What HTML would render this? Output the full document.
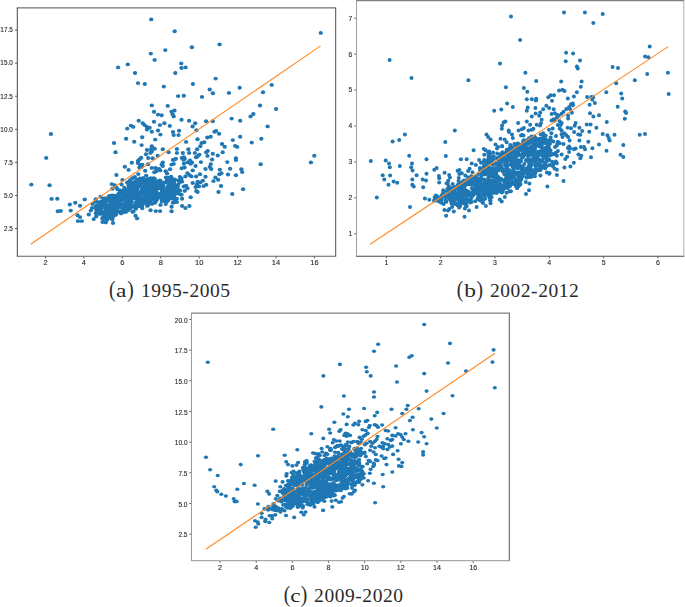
<!DOCTYPE html>
<html><head><meta charset="utf-8"><style>
html,body{margin:0;padding:0;background:#fff;width:685px;height:607px;overflow:hidden}
svg{position:absolute;left:0;top:0}
.tk{font-family:"Liberation Sans",sans-serif;fill:#222;stroke:#222;stroke-width:0.1px}
.tkg{will-change:transform}
.cap{font-family:"Liberation Serif",serif;fill:#2a2a2a}
</style></head><body>
<svg width="685" height="607" viewBox="0 0 685 607">
<line x1="45.50" y1="256.20" x2="45.50" y2="258.40" stroke="#333" stroke-width="0.8"/>
<line x1="83.92" y1="256.20" x2="83.92" y2="258.40" stroke="#333" stroke-width="0.8"/>
<line x1="122.34" y1="256.20" x2="122.34" y2="258.40" stroke="#333" stroke-width="0.8"/>
<line x1="160.76" y1="256.20" x2="160.76" y2="258.40" stroke="#333" stroke-width="0.8"/>
<line x1="199.18" y1="256.20" x2="199.18" y2="258.40" stroke="#333" stroke-width="0.8"/>
<line x1="237.60" y1="256.20" x2="237.60" y2="258.40" stroke="#333" stroke-width="0.8"/>
<line x1="276.02" y1="256.20" x2="276.02" y2="258.40" stroke="#333" stroke-width="0.8"/>
<line x1="314.44" y1="256.20" x2="314.44" y2="258.40" stroke="#333" stroke-width="0.8"/>
<line x1="15.10" y1="228.55" x2="17.30" y2="228.55" stroke="#333" stroke-width="0.8"/>
<line x1="15.10" y1="195.47" x2="17.30" y2="195.47" stroke="#333" stroke-width="0.8"/>
<line x1="15.10" y1="162.40" x2="17.30" y2="162.40" stroke="#333" stroke-width="0.8"/>
<line x1="15.10" y1="129.33" x2="17.30" y2="129.33" stroke="#333" stroke-width="0.8"/>
<line x1="15.10" y1="96.25" x2="17.30" y2="96.25" stroke="#333" stroke-width="0.8"/>
<line x1="15.10" y1="63.18" x2="17.30" y2="63.18" stroke="#333" stroke-width="0.8"/>
<line x1="15.10" y1="30.10" x2="17.30" y2="30.10" stroke="#333" stroke-width="0.8"/>
<g fill="#1f77b4"><ellipse cx="151.2" cy="19.4" rx="2.15" ry="1.95"/><ellipse cx="174.7" cy="31.3" rx="2.15" ry="1.95"/><ellipse cx="165.3" cy="50.1" rx="2.15" ry="1.95"/><ellipse cx="150.8" cy="53.6" rx="2.15" ry="1.95"/><ellipse cx="154.6" cy="59.9" rx="2.15" ry="1.95"/><ellipse cx="127.8" cy="64.4" rx="2.15" ry="1.95"/><ellipse cx="118.1" cy="67.4" rx="2.15" ry="1.95"/><ellipse cx="135.0" cy="73.0" rx="2.15" ry="1.95"/><ellipse cx="175.3" cy="73.0" rx="2.15" ry="1.95"/><ellipse cx="138.0" cy="83.1" rx="2.15" ry="1.95"/><ellipse cx="144.8" cy="84.0" rx="2.15" ry="1.95"/><ellipse cx="163.8" cy="86.6" rx="2.15" ry="1.95"/><ellipse cx="191.9" cy="47.3" rx="2.15" ry="1.95"/><ellipse cx="219.6" cy="44.4" rx="2.15" ry="1.95"/><ellipse cx="181.2" cy="63.4" rx="2.15" ry="1.95"/><ellipse cx="181.5" cy="68.0" rx="2.15" ry="1.95"/><ellipse cx="185.6" cy="67.4" rx="2.15" ry="1.95"/><ellipse cx="215.6" cy="78.6" rx="2.15" ry="1.95"/><ellipse cx="192.9" cy="84.0" rx="2.15" ry="1.95"/><ellipse cx="209.7" cy="89.5" rx="2.15" ry="1.95"/><ellipse cx="239.6" cy="87.7" rx="2.15" ry="1.95"/><ellipse cx="271.7" cy="84.9" rx="2.15" ry="1.95"/><ellipse cx="263.0" cy="92.3" rx="2.15" ry="1.95"/><ellipse cx="276.1" cy="109.0" rx="2.15" ry="1.95"/><ellipse cx="267.6" cy="126.4" rx="2.15" ry="1.95"/><ellipse cx="261.3" cy="138.7" rx="2.15" ry="1.95"/><ellipse cx="260.0" cy="105.5" rx="2.15" ry="1.95"/><ellipse cx="320.8" cy="32.9" rx="2.15" ry="1.95"/><ellipse cx="314.3" cy="155.7" rx="2.15" ry="1.95"/><ellipse cx="310.9" cy="162.4" rx="2.15" ry="1.95"/><ellipse cx="260.7" cy="164.3" rx="2.15" ry="1.95"/><ellipse cx="178.1" cy="96.1" rx="2.15" ry="1.95"/><ellipse cx="183.8" cy="95.7" rx="2.15" ry="1.95"/><ellipse cx="151.8" cy="105.4" rx="2.15" ry="1.95"/><ellipse cx="167.7" cy="105.9" rx="2.15" ry="1.95"/><ellipse cx="154.0" cy="111.7" rx="2.15" ry="1.95"/><ellipse cx="158.0" cy="114.6" rx="2.15" ry="1.95"/><ellipse cx="161.6" cy="115.2" rx="2.15" ry="1.95"/><ellipse cx="171.5" cy="111.6" rx="2.15" ry="1.95"/><ellipse cx="174.5" cy="110.5" rx="2.15" ry="1.95"/><ellipse cx="172.6" cy="114.2" rx="2.15" ry="1.95"/><ellipse cx="173.7" cy="116.4" rx="2.15" ry="1.95"/><ellipse cx="181.5" cy="119.7" rx="2.15" ry="1.95"/><ellipse cx="189.1" cy="120.8" rx="2.15" ry="1.95"/><ellipse cx="195.2" cy="123.2" rx="2.15" ry="1.95"/><ellipse cx="192.6" cy="126.5" rx="2.15" ry="1.95"/><ellipse cx="138.7" cy="120.8" rx="2.15" ry="1.95"/><ellipse cx="142.8" cy="123.2" rx="2.15" ry="1.95"/><ellipse cx="144.5" cy="125.1" rx="2.15" ry="1.95"/><ellipse cx="146.7" cy="126.6" rx="2.15" ry="1.95"/><ellipse cx="149.6" cy="127.8" rx="2.15" ry="1.95"/><ellipse cx="147.0" cy="129.5" rx="2.15" ry="1.95"/><ellipse cx="130.9" cy="125.6" rx="2.15" ry="1.95"/><ellipse cx="133.3" cy="126.9" rx="2.15" ry="1.95"/><ellipse cx="127.2" cy="128.6" rx="2.15" ry="1.95"/><ellipse cx="154.0" cy="121.8" rx="2.15" ry="1.95"/><ellipse cx="159.9" cy="125.1" rx="2.15" ry="1.95"/><ellipse cx="164.4" cy="123.2" rx="2.15" ry="1.95"/><ellipse cx="169.8" cy="125.9" rx="2.15" ry="1.95"/><ellipse cx="151.8" cy="131.7" rx="2.15" ry="1.95"/><ellipse cx="158.0" cy="130.5" rx="2.15" ry="1.95"/><ellipse cx="160.4" cy="134.6" rx="2.15" ry="1.95"/><ellipse cx="173.0" cy="132.0" rx="2.15" ry="1.95"/><ellipse cx="173.7" cy="135.1" rx="2.15" ry="1.95"/><ellipse cx="179.1" cy="130.7" rx="2.15" ry="1.95"/><ellipse cx="178.5" cy="135.1" rx="2.15" ry="1.95"/><ellipse cx="196.4" cy="130.3" rx="2.15" ry="1.95"/><ellipse cx="126.1" cy="138.7" rx="2.15" ry="1.95"/><ellipse cx="134.2" cy="141.8" rx="2.15" ry="1.95"/><ellipse cx="142.2" cy="137.3" rx="2.15" ry="1.95"/><ellipse cx="155.2" cy="139.6" rx="2.15" ry="1.95"/><ellipse cx="114.0" cy="143.0" rx="2.15" ry="1.95"/><ellipse cx="115.5" cy="152.2" rx="2.15" ry="1.95"/><ellipse cx="141.6" cy="145.1" rx="2.15" ry="1.95"/><ellipse cx="151.8" cy="146.3" rx="2.15" ry="1.95"/><ellipse cx="151.1" cy="149.2" rx="2.15" ry="1.95"/><ellipse cx="154.7" cy="148.8" rx="2.15" ry="1.95"/><ellipse cx="147.0" cy="150.0" rx="2.15" ry="1.95"/><ellipse cx="162.8" cy="149.2" rx="2.15" ry="1.95"/><ellipse cx="150.4" cy="152.9" rx="2.15" ry="1.95"/><ellipse cx="146.0" cy="154.3" rx="2.15" ry="1.95"/><ellipse cx="141.2" cy="157.7" rx="2.15" ry="1.95"/><ellipse cx="139.4" cy="159.5" rx="2.15" ry="1.95"/><ellipse cx="148.2" cy="158.0" rx="2.15" ry="1.95"/><ellipse cx="152.6" cy="158.3" rx="2.15" ry="1.95"/><ellipse cx="157.7" cy="155.8" rx="2.15" ry="1.95"/><ellipse cx="131.8" cy="162.8" rx="2.15" ry="1.95"/><ellipse cx="124.8" cy="166.8" rx="2.15" ry="1.95"/><ellipse cx="168.6" cy="152.2" rx="2.15" ry="1.95"/><ellipse cx="176.9" cy="148.9" rx="2.15" ry="1.95"/><ellipse cx="176.9" cy="152.9" rx="2.15" ry="1.95"/><ellipse cx="182.8" cy="153.0" rx="2.15" ry="1.95"/><ellipse cx="186.1" cy="141.9" rx="2.15" ry="1.95"/><ellipse cx="188.3" cy="149.2" rx="2.15" ry="1.95"/><ellipse cx="189.1" cy="152.9" rx="2.15" ry="1.95"/><ellipse cx="197.5" cy="139.3" rx="2.15" ry="1.95"/><ellipse cx="197.1" cy="149.2" rx="2.15" ry="1.95"/><ellipse cx="194.9" cy="152.9" rx="2.15" ry="1.95"/><ellipse cx="197.5" cy="156.5" rx="2.15" ry="1.95"/><ellipse cx="174.5" cy="159.5" rx="2.15" ry="1.95"/><ellipse cx="171.5" cy="164.6" rx="2.15" ry="1.95"/><ellipse cx="175.9" cy="158.7" rx="2.15" ry="1.95"/><ellipse cx="181.8" cy="158.0" rx="2.15" ry="1.95"/><ellipse cx="184.7" cy="158.7" rx="2.15" ry="1.95"/><ellipse cx="183.9" cy="163.8" rx="2.15" ry="1.95"/><ellipse cx="187.6" cy="162.4" rx="2.15" ry="1.95"/><ellipse cx="190.5" cy="163.8" rx="2.15" ry="1.95"/><ellipse cx="162.8" cy="162.4" rx="2.15" ry="1.95"/><ellipse cx="162.8" cy="166.0" rx="2.15" ry="1.95"/><ellipse cx="138.0" cy="160.9" rx="2.15" ry="1.95"/><ellipse cx="140.1" cy="165.0" rx="2.15" ry="1.95"/><ellipse cx="141.6" cy="166.8" rx="2.15" ry="1.95"/><ellipse cx="151.8" cy="167.9" rx="2.15" ry="1.95"/><ellipse cx="155.5" cy="167.9" rx="2.15" ry="1.95"/><ellipse cx="159.1" cy="168.9" rx="2.15" ry="1.95"/><ellipse cx="195.6" cy="166.0" rx="2.15" ry="1.95"/><ellipse cx="212.9" cy="93.2" rx="2.15" ry="1.95"/><ellipse cx="202.0" cy="96.9" rx="2.15" ry="1.95"/><ellipse cx="228.9" cy="92.9" rx="2.15" ry="1.95"/><ellipse cx="250.6" cy="116.4" rx="2.15" ry="1.95"/><ellipse cx="253.3" cy="114.0" rx="2.15" ry="1.95"/><ellipse cx="231.6" cy="118.6" rx="2.15" ry="1.95"/><ellipse cx="240.2" cy="120.8" rx="2.15" ry="1.95"/><ellipse cx="206.1" cy="121.2" rx="2.15" ry="1.95"/><ellipse cx="212.8" cy="121.2" rx="2.15" ry="1.95"/><ellipse cx="214.5" cy="131.7" rx="2.15" ry="1.95"/><ellipse cx="216.1" cy="130.9" rx="2.15" ry="1.95"/><ellipse cx="219.1" cy="133.8" rx="2.15" ry="1.95"/><ellipse cx="207.3" cy="137.5" rx="2.15" ry="1.95"/><ellipse cx="210.6" cy="136.8" rx="2.15" ry="1.95"/><ellipse cx="240.2" cy="136.8" rx="2.15" ry="1.95"/><ellipse cx="232.8" cy="140.1" rx="2.15" ry="1.95"/><ellipse cx="251.7" cy="142.6" rx="2.15" ry="1.95"/><ellipse cx="201.6" cy="143.0" rx="2.15" ry="1.95"/><ellipse cx="204.2" cy="142.3" rx="2.15" ry="1.95"/><ellipse cx="200.3" cy="146.3" rx="2.15" ry="1.95"/><ellipse cx="222.0" cy="144.0" rx="2.15" ry="1.95"/><ellipse cx="224.7" cy="146.7" rx="2.15" ry="1.95"/><ellipse cx="235.2" cy="145.9" rx="2.15" ry="1.95"/><ellipse cx="237.2" cy="146.9" rx="2.15" ry="1.95"/><ellipse cx="206.2" cy="152.2" rx="2.15" ry="1.95"/><ellipse cx="207.8" cy="150.9" rx="2.15" ry="1.95"/><ellipse cx="207.5" cy="155.9" rx="2.15" ry="1.95"/><ellipse cx="212.8" cy="153.8" rx="2.15" ry="1.95"/><ellipse cx="222.7" cy="152.2" rx="2.15" ry="1.95"/><ellipse cx="217.7" cy="155.5" rx="2.15" ry="1.95"/><ellipse cx="212.1" cy="159.5" rx="2.15" ry="1.95"/><ellipse cx="235.9" cy="158.1" rx="2.15" ry="1.95"/><ellipse cx="200.9" cy="162.1" rx="2.15" ry="1.95"/><ellipse cx="227.3" cy="162.1" rx="2.15" ry="1.95"/><ellipse cx="210.8" cy="164.1" rx="2.15" ry="1.95"/><ellipse cx="235.9" cy="160.0" rx="2.15" ry="1.95"/><ellipse cx="209.8" cy="166.9" rx="2.15" ry="1.95"/><ellipse cx="211.2" cy="169.0" rx="2.15" ry="1.95"/><ellipse cx="205.5" cy="169.0" rx="2.15" ry="1.95"/><ellipse cx="219.8" cy="169.6" rx="2.15" ry="1.95"/><ellipse cx="230.1" cy="168.8" rx="2.15" ry="1.95"/><ellipse cx="241.4" cy="169.2" rx="2.15" ry="1.95"/><ellipse cx="242.2" cy="172.1" rx="2.15" ry="1.95"/><ellipse cx="200.0" cy="174.2" rx="2.15" ry="1.95"/><ellipse cx="196.1" cy="176.5" rx="2.15" ry="1.95"/><ellipse cx="205.5" cy="176.7" rx="2.15" ry="1.95"/><ellipse cx="219.4" cy="174.2" rx="2.15" ry="1.95"/><ellipse cx="221.4" cy="173.2" rx="2.15" ry="1.95"/><ellipse cx="228.0" cy="174.5" rx="2.15" ry="1.95"/><ellipse cx="235.9" cy="175.2" rx="2.15" ry="1.95"/><ellipse cx="215.4" cy="177.4" rx="2.15" ry="1.95"/><ellipse cx="218.1" cy="179.8" rx="2.15" ry="1.95"/><ellipse cx="213.5" cy="181.1" rx="2.15" ry="1.95"/><ellipse cx="197.6" cy="181.7" rx="2.15" ry="1.95"/><ellipse cx="200.3" cy="182.4" rx="2.15" ry="1.95"/><ellipse cx="202.9" cy="180.8" rx="2.15" ry="1.95"/><ellipse cx="197.0" cy="184.4" rx="2.15" ry="1.95"/><ellipse cx="199.0" cy="186.4" rx="2.15" ry="1.95"/><ellipse cx="195.7" cy="187.0" rx="2.15" ry="1.95"/><ellipse cx="203.6" cy="186.1" rx="2.15" ry="1.95"/><ellipse cx="206.2" cy="184.8" rx="2.15" ry="1.95"/><ellipse cx="221.0" cy="186.0" rx="2.15" ry="1.95"/><ellipse cx="243.1" cy="189.3" rx="2.15" ry="1.95"/><ellipse cx="218.5" cy="192.0" rx="2.15" ry="1.95"/><ellipse cx="232.3" cy="194.0" rx="2.15" ry="1.95"/><ellipse cx="196.3" cy="191.0" rx="2.15" ry="1.95"/><ellipse cx="197.6" cy="192.0" rx="2.15" ry="1.95"/><ellipse cx="50.9" cy="134.0" rx="2.15" ry="1.95"/><ellipse cx="46.2" cy="157.9" rx="2.15" ry="1.95"/><ellipse cx="31.3" cy="184.6" rx="2.15" ry="1.95"/><ellipse cx="49.6" cy="185.3" rx="2.15" ry="1.95"/><ellipse cx="51.6" cy="198.9" rx="2.15" ry="1.95"/><ellipse cx="57.3" cy="198.8" rx="2.15" ry="1.95"/><ellipse cx="84.7" cy="199.4" rx="2.15" ry="1.95"/><ellipse cx="95.8" cy="199.3" rx="2.15" ry="1.95"/><ellipse cx="57.8" cy="211.3" rx="2.15" ry="1.95"/><ellipse cx="60.7" cy="210.9" rx="2.15" ry="1.95"/><ellipse cx="69.8" cy="204.5" rx="2.15" ry="1.95"/><ellipse cx="75.3" cy="202.8" rx="2.15" ry="1.95"/><ellipse cx="80.0" cy="205.7" rx="2.15" ry="1.95"/><ellipse cx="70.7" cy="210.6" rx="2.15" ry="1.95"/><ellipse cx="77.6" cy="215.3" rx="2.15" ry="1.95"/><ellipse cx="80.0" cy="217.1" rx="2.15" ry="1.95"/><ellipse cx="78.0" cy="221.1" rx="2.15" ry="1.95"/><ellipse cx="81.8" cy="221.1" rx="2.15" ry="1.95"/><ellipse cx="92.6" cy="203.9" rx="2.15" ry="1.95"/><ellipse cx="90.8" cy="210.6" rx="2.15" ry="1.95"/><ellipse cx="88.8" cy="214.5" rx="2.15" ry="1.95"/><ellipse cx="93.7" cy="219.1" rx="2.15" ry="1.95"/><ellipse cx="102.5" cy="222.0" rx="2.15" ry="1.95"/><ellipse cx="113.0" cy="223.0" rx="2.15" ry="1.95"/><ellipse cx="111.8" cy="184.1" rx="2.15" ry="1.95"/><ellipse cx="114.7" cy="185.3" rx="2.15" ry="1.95"/><ellipse cx="112.4" cy="188.8" rx="2.15" ry="1.95"/><ellipse cx="116.5" cy="187.6" rx="2.15" ry="1.95"/><ellipse cx="137.1" cy="218.4" rx="2.15" ry="1.95"/><ellipse cx="128.6" cy="169.9" rx="2.15" ry="1.95"/><ellipse cx="116.4" cy="175.0" rx="2.15" ry="1.95"/><ellipse cx="121.6" cy="184.5" rx="2.15" ry="1.95"/><ellipse cx="151.8" cy="151.5" rx="2.15" ry="1.95"/><ellipse cx="137.9" cy="163.1" rx="2.15" ry="1.95"/><ellipse cx="183.9" cy="157.3" rx="2.15" ry="1.95"/><ellipse cx="148.1" cy="164.2" rx="2.15" ry="1.95"/><ellipse cx="139.4" cy="167.5" rx="2.15" ry="1.95"/><ellipse cx="142.3" cy="164.6" rx="2.15" ry="1.95"/><ellipse cx="161.6" cy="164.6" rx="2.15" ry="1.95"/><ellipse cx="173.7" cy="163.9" rx="2.15" ry="1.95"/><ellipse cx="156.9" cy="169.0" rx="2.15" ry="1.95"/><ellipse cx="160.2" cy="170.4" rx="2.15" ry="1.95"/><ellipse cx="156.2" cy="171.2" rx="2.15" ry="1.95"/><ellipse cx="154.3" cy="172.3" rx="2.15" ry="1.95"/><ellipse cx="145.2" cy="170.8" rx="2.15" ry="1.95"/><ellipse cx="165.7" cy="171.2" rx="2.15" ry="1.95"/><ellipse cx="167.1" cy="173.4" rx="2.15" ry="1.95"/><ellipse cx="170.0" cy="169.3" rx="2.15" ry="1.95"/><ellipse cx="138.3" cy="174.1" rx="2.15" ry="1.95"/><ellipse cx="140.1" cy="178.5" rx="2.15" ry="1.95"/><ellipse cx="181.7" cy="168.2" rx="2.15" ry="1.95"/><ellipse cx="184.6" cy="167.5" rx="2.15" ry="1.95"/><ellipse cx="199.3" cy="154.6" rx="2.15" ry="1.95"/><ellipse cx="196.0" cy="157.2" rx="2.15" ry="1.95"/><ellipse cx="172.9" cy="159.9" rx="2.15" ry="1.95"/><ellipse cx="183.5" cy="159.9" rx="2.15" ry="1.95"/><ellipse cx="190.0" cy="160.5" rx="2.15" ry="1.95"/><ellipse cx="192.0" cy="162.5" rx="2.15" ry="1.95"/><ellipse cx="192.7" cy="170.4" rx="2.15" ry="1.95"/><ellipse cx="187.4" cy="173.1" rx="2.15" ry="1.95"/><ellipse cx="189.4" cy="175.0" rx="2.15" ry="1.95"/><ellipse cx="191.4" cy="176.4" rx="2.15" ry="1.95"/><ellipse cx="185.4" cy="176.4" rx="2.15" ry="1.95"/><ellipse cx="192.7" cy="183.0" rx="2.15" ry="1.95"/><ellipse cx="182.1" cy="181.6" rx="2.15" ry="1.95"/><ellipse cx="186.1" cy="185.6" rx="2.15" ry="1.95"/><ellipse cx="187.4" cy="188.2" rx="2.15" ry="1.95"/><ellipse cx="184.8" cy="190.9" rx="2.15" ry="1.95"/><ellipse cx="190.7" cy="197.2" rx="2.15" ry="1.95"/><ellipse cx="182.1" cy="198.8" rx="2.15" ry="1.95"/><ellipse cx="181.5" cy="194.8" rx="2.15" ry="1.95"/><ellipse cx="174.9" cy="200.1" rx="2.15" ry="1.95"/><ellipse cx="176.9" cy="202.1" rx="2.15" ry="1.95"/><ellipse cx="172.9" cy="202.7" rx="2.15" ry="1.95"/><ellipse cx="182.1" cy="206.0" rx="2.15" ry="1.95"/><ellipse cx="185.4" cy="208.0" rx="2.15" ry="1.95"/><ellipse cx="189.4" cy="206.0" rx="2.15" ry="1.95"/><ellipse cx="171.6" cy="206.7" rx="2.15" ry="1.95"/><ellipse cx="171.6" cy="211.3" rx="2.15" ry="1.95"/><ellipse cx="165.7" cy="204.0" rx="2.15" ry="1.95"/><ellipse cx="180.3" cy="181.3" rx="2.15" ry="1.95"/><ellipse cx="183.8" cy="186.5" rx="2.15" ry="1.95"/><ellipse cx="176.8" cy="198.8" rx="2.15" ry="1.95"/><ellipse cx="175.0" cy="202.3" rx="2.15" ry="1.95"/><ellipse cx="150.5" cy="210.2" rx="2.15" ry="1.95"/><ellipse cx="155.8" cy="211.1" rx="2.15" ry="1.95"/><ellipse cx="160.1" cy="211.1" rx="2.15" ry="1.95"/><ellipse cx="109.3" cy="197.1" rx="2.15" ry="1.95"/><ellipse cx="159.2" cy="181.3" rx="2.15" ry="1.95"/><ellipse cx="135.1" cy="181.6" rx="2.15" ry="1.95"/><ellipse cx="141.5" cy="205.8" rx="2.15" ry="1.95"/><ellipse cx="136.1" cy="202.7" rx="2.15" ry="1.95"/><ellipse cx="129.0" cy="197.9" rx="2.15" ry="1.95"/><ellipse cx="165.3" cy="198.6" rx="2.15" ry="1.95"/><ellipse cx="124.1" cy="196.8" rx="2.15" ry="1.95"/><ellipse cx="164.4" cy="199.7" rx="2.15" ry="1.95"/><ellipse cx="174.1" cy="181.5" rx="2.15" ry="1.95"/><ellipse cx="131.1" cy="183.7" rx="2.15" ry="1.95"/><ellipse cx="142.1" cy="193.0" rx="2.15" ry="1.95"/><ellipse cx="148.7" cy="204.1" rx="2.15" ry="1.95"/><ellipse cx="158.1" cy="194.7" rx="2.15" ry="1.95"/><ellipse cx="116.5" cy="195.8" rx="2.15" ry="1.95"/><ellipse cx="136.6" cy="180.2" rx="2.15" ry="1.95"/><ellipse cx="99.1" cy="209.5" rx="2.15" ry="1.95"/><ellipse cx="154.6" cy="200.0" rx="2.15" ry="1.95"/><ellipse cx="137.3" cy="181.0" rx="2.15" ry="1.95"/><ellipse cx="151.4" cy="191.2" rx="2.15" ry="1.95"/><ellipse cx="143.6" cy="186.8" rx="2.15" ry="1.95"/><ellipse cx="173.9" cy="186.2" rx="2.15" ry="1.95"/><ellipse cx="154.1" cy="193.4" rx="2.15" ry="1.95"/><ellipse cx="113.7" cy="197.4" rx="2.15" ry="1.95"/><ellipse cx="104.8" cy="207.7" rx="2.15" ry="1.95"/><ellipse cx="104.8" cy="212.7" rx="2.15" ry="1.95"/><ellipse cx="143.1" cy="181.0" rx="2.15" ry="1.95"/><ellipse cx="111.7" cy="214.4" rx="2.15" ry="1.95"/><ellipse cx="107.8" cy="211.8" rx="2.15" ry="1.95"/><ellipse cx="109.1" cy="196.0" rx="2.15" ry="1.95"/><ellipse cx="130.1" cy="186.3" rx="2.15" ry="1.95"/><ellipse cx="140.0" cy="186.0" rx="2.15" ry="1.95"/><ellipse cx="117.8" cy="200.0" rx="2.15" ry="1.95"/><ellipse cx="144.0" cy="203.1" rx="2.15" ry="1.95"/><ellipse cx="166.8" cy="197.0" rx="2.15" ry="1.95"/><ellipse cx="100.5" cy="213.8" rx="2.15" ry="1.95"/><ellipse cx="140.8" cy="199.8" rx="2.15" ry="1.95"/><ellipse cx="173.1" cy="194.6" rx="2.15" ry="1.95"/><ellipse cx="124.3" cy="187.8" rx="2.15" ry="1.95"/><ellipse cx="170.7" cy="191.3" rx="2.15" ry="1.95"/><ellipse cx="124.9" cy="204.1" rx="2.15" ry="1.95"/><ellipse cx="135.6" cy="206.2" rx="2.15" ry="1.95"/><ellipse cx="128.9" cy="208.4" rx="2.15" ry="1.95"/><ellipse cx="160.3" cy="181.9" rx="2.15" ry="1.95"/><ellipse cx="135.0" cy="196.1" rx="2.15" ry="1.95"/><ellipse cx="143.1" cy="178.2" rx="2.15" ry="1.95"/><ellipse cx="105.3" cy="201.5" rx="2.15" ry="1.95"/><ellipse cx="158.7" cy="188.4" rx="2.15" ry="1.95"/><ellipse cx="149.2" cy="183.6" rx="2.15" ry="1.95"/><ellipse cx="156.9" cy="194.1" rx="2.15" ry="1.95"/><ellipse cx="167.9" cy="193.4" rx="2.15" ry="1.95"/><ellipse cx="146.3" cy="192.0" rx="2.15" ry="1.95"/><ellipse cx="112.5" cy="199.9" rx="2.15" ry="1.95"/><ellipse cx="111.2" cy="202.5" rx="2.15" ry="1.95"/><ellipse cx="108.8" cy="208.3" rx="2.15" ry="1.95"/><ellipse cx="140.4" cy="196.9" rx="2.15" ry="1.95"/><ellipse cx="143.3" cy="186.2" rx="2.15" ry="1.95"/><ellipse cx="135.8" cy="188.9" rx="2.15" ry="1.95"/><ellipse cx="130.1" cy="185.8" rx="2.15" ry="1.95"/><ellipse cx="134.7" cy="206.1" rx="2.15" ry="1.95"/><ellipse cx="122.4" cy="179.9" rx="2.15" ry="1.95"/><ellipse cx="111.7" cy="203.2" rx="2.15" ry="1.95"/><ellipse cx="125.8" cy="211.9" rx="2.15" ry="1.95"/><ellipse cx="148.3" cy="199.2" rx="2.15" ry="1.95"/><ellipse cx="127.6" cy="191.8" rx="2.15" ry="1.95"/><ellipse cx="149.4" cy="191.9" rx="2.15" ry="1.95"/><ellipse cx="110.3" cy="209.7" rx="2.15" ry="1.95"/><ellipse cx="171.1" cy="196.5" rx="2.15" ry="1.95"/><ellipse cx="161.7" cy="192.8" rx="2.15" ry="1.95"/><ellipse cx="120.0" cy="206.7" rx="2.15" ry="1.95"/><ellipse cx="155.9" cy="191.6" rx="2.15" ry="1.95"/><ellipse cx="121.4" cy="198.1" rx="2.15" ry="1.95"/><ellipse cx="147.2" cy="181.5" rx="2.15" ry="1.95"/><ellipse cx="174.7" cy="187.3" rx="2.15" ry="1.95"/><ellipse cx="148.6" cy="186.5" rx="2.15" ry="1.95"/><ellipse cx="102.3" cy="204.9" rx="2.15" ry="1.95"/><ellipse cx="110.0" cy="199.0" rx="2.15" ry="1.95"/><ellipse cx="120.6" cy="212.3" rx="2.15" ry="1.95"/><ellipse cx="107.7" cy="210.3" rx="2.15" ry="1.95"/><ellipse cx="158.9" cy="185.9" rx="2.15" ry="1.95"/><ellipse cx="169.8" cy="195.2" rx="2.15" ry="1.95"/><ellipse cx="144.1" cy="180.3" rx="2.15" ry="1.95"/><ellipse cx="158.5" cy="187.3" rx="2.15" ry="1.95"/><ellipse cx="152.9" cy="190.9" rx="2.15" ry="1.95"/><ellipse cx="145.2" cy="188.5" rx="2.15" ry="1.95"/><ellipse cx="146.8" cy="201.0" rx="2.15" ry="1.95"/><ellipse cx="127.4" cy="207.0" rx="2.15" ry="1.95"/><ellipse cx="162.5" cy="182.7" rx="2.15" ry="1.95"/><ellipse cx="138.9" cy="194.0" rx="2.15" ry="1.95"/><ellipse cx="151.8" cy="194.4" rx="2.15" ry="1.95"/><ellipse cx="157.0" cy="199.5" rx="2.15" ry="1.95"/><ellipse cx="116.8" cy="212.1" rx="2.15" ry="1.95"/><ellipse cx="135.6" cy="198.9" rx="2.15" ry="1.95"/><ellipse cx="138.0" cy="201.9" rx="2.15" ry="1.95"/><ellipse cx="161.9" cy="189.2" rx="2.15" ry="1.95"/><ellipse cx="126.0" cy="210.9" rx="2.15" ry="1.95"/><ellipse cx="149.6" cy="199.0" rx="2.15" ry="1.95"/><ellipse cx="150.8" cy="178.1" rx="2.15" ry="1.95"/><ellipse cx="177.5" cy="193.0" rx="2.15" ry="1.95"/><ellipse cx="154.3" cy="200.0" rx="2.15" ry="1.95"/><ellipse cx="103.5" cy="212.0" rx="2.15" ry="1.95"/><ellipse cx="164.4" cy="198.2" rx="2.15" ry="1.95"/><ellipse cx="134.1" cy="191.7" rx="2.15" ry="1.95"/><ellipse cx="140.1" cy="201.7" rx="2.15" ry="1.95"/><ellipse cx="141.0" cy="198.9" rx="2.15" ry="1.95"/><ellipse cx="125.7" cy="205.1" rx="2.15" ry="1.95"/><ellipse cx="144.7" cy="200.4" rx="2.15" ry="1.95"/><ellipse cx="121.4" cy="191.6" rx="2.15" ry="1.95"/><ellipse cx="123.0" cy="195.3" rx="2.15" ry="1.95"/><ellipse cx="167.2" cy="189.9" rx="2.15" ry="1.95"/><ellipse cx="162.2" cy="196.3" rx="2.15" ry="1.95"/><ellipse cx="118.0" cy="194.8" rx="2.15" ry="1.95"/><ellipse cx="165.1" cy="196.6" rx="2.15" ry="1.95"/><ellipse cx="158.6" cy="196.9" rx="2.15" ry="1.95"/><ellipse cx="113.5" cy="197.9" rx="2.15" ry="1.95"/><ellipse cx="103.5" cy="198.6" rx="2.15" ry="1.95"/><ellipse cx="105.0" cy="212.8" rx="2.15" ry="1.95"/><ellipse cx="118.1" cy="196.6" rx="2.15" ry="1.95"/><ellipse cx="139.8" cy="193.9" rx="2.15" ry="1.95"/><ellipse cx="111.4" cy="209.6" rx="2.15" ry="1.95"/><ellipse cx="142.0" cy="203.2" rx="2.15" ry="1.95"/><ellipse cx="156.4" cy="183.6" rx="2.15" ry="1.95"/><ellipse cx="118.2" cy="203.7" rx="2.15" ry="1.95"/><ellipse cx="177.4" cy="186.5" rx="2.15" ry="1.95"/><ellipse cx="134.8" cy="187.3" rx="2.15" ry="1.95"/><ellipse cx="142.2" cy="208.3" rx="2.15" ry="1.95"/><ellipse cx="103.3" cy="201.4" rx="2.15" ry="1.95"/><ellipse cx="176.6" cy="192.8" rx="2.15" ry="1.95"/><ellipse cx="146.3" cy="198.5" rx="2.15" ry="1.95"/><ellipse cx="108.8" cy="213.4" rx="2.15" ry="1.95"/><ellipse cx="150.3" cy="182.1" rx="2.15" ry="1.95"/><ellipse cx="154.7" cy="184.0" rx="2.15" ry="1.95"/><ellipse cx="137.1" cy="186.9" rx="2.15" ry="1.95"/><ellipse cx="175.1" cy="191.8" rx="2.15" ry="1.95"/><ellipse cx="142.4" cy="199.5" rx="2.15" ry="1.95"/><ellipse cx="140.4" cy="182.6" rx="2.15" ry="1.95"/><ellipse cx="111.0" cy="199.2" rx="2.15" ry="1.95"/><ellipse cx="132.6" cy="191.7" rx="2.15" ry="1.95"/><ellipse cx="140.2" cy="200.0" rx="2.15" ry="1.95"/><ellipse cx="172.8" cy="187.7" rx="2.15" ry="1.95"/><ellipse cx="122.8" cy="193.8" rx="2.15" ry="1.95"/><ellipse cx="150.8" cy="190.3" rx="2.15" ry="1.95"/><ellipse cx="169.7" cy="182.3" rx="2.15" ry="1.95"/><ellipse cx="168.5" cy="182.0" rx="2.15" ry="1.95"/><ellipse cx="142.2" cy="189.0" rx="2.15" ry="1.95"/><ellipse cx="99.0" cy="213.8" rx="2.15" ry="1.95"/><ellipse cx="119.0" cy="206.7" rx="2.15" ry="1.95"/><ellipse cx="128.5" cy="190.1" rx="2.15" ry="1.95"/><ellipse cx="113.5" cy="216.1" rx="2.15" ry="1.95"/><ellipse cx="100.4" cy="205.9" rx="2.15" ry="1.95"/><ellipse cx="134.2" cy="188.0" rx="2.15" ry="1.95"/><ellipse cx="178.0" cy="190.5" rx="2.15" ry="1.95"/><ellipse cx="132.4" cy="197.0" rx="2.15" ry="1.95"/><ellipse cx="129.1" cy="199.9" rx="2.15" ry="1.95"/><ellipse cx="124.4" cy="205.3" rx="2.15" ry="1.95"/><ellipse cx="144.6" cy="198.2" rx="2.15" ry="1.95"/><ellipse cx="151.9" cy="199.6" rx="2.15" ry="1.95"/><ellipse cx="108.5" cy="213.9" rx="2.15" ry="1.95"/><ellipse cx="141.9" cy="205.8" rx="2.15" ry="1.95"/><ellipse cx="139.2" cy="194.4" rx="2.15" ry="1.95"/><ellipse cx="135.7" cy="192.5" rx="2.15" ry="1.95"/><ellipse cx="103.5" cy="216.2" rx="2.15" ry="1.95"/><ellipse cx="160.2" cy="187.7" rx="2.15" ry="1.95"/><ellipse cx="111.9" cy="195.5" rx="2.15" ry="1.95"/><ellipse cx="167.8" cy="199.6" rx="2.15" ry="1.95"/><ellipse cx="141.3" cy="191.0" rx="2.15" ry="1.95"/><ellipse cx="103.0" cy="204.8" rx="2.15" ry="1.95"/><ellipse cx="161.9" cy="190.5" rx="2.15" ry="1.95"/><ellipse cx="155.0" cy="202.8" rx="2.15" ry="1.95"/><ellipse cx="106.1" cy="209.8" rx="2.15" ry="1.95"/><ellipse cx="119.2" cy="199.5" rx="2.15" ry="1.95"/><ellipse cx="131.6" cy="185.0" rx="2.15" ry="1.95"/><ellipse cx="162.8" cy="182.9" rx="2.15" ry="1.95"/><ellipse cx="169.7" cy="190.5" rx="2.15" ry="1.95"/><ellipse cx="103.6" cy="213.0" rx="2.15" ry="1.95"/><ellipse cx="122.5" cy="196.3" rx="2.15" ry="1.95"/><ellipse cx="147.7" cy="183.6" rx="2.15" ry="1.95"/><ellipse cx="164.3" cy="192.7" rx="2.15" ry="1.95"/><ellipse cx="92.1" cy="207.9" rx="2.15" ry="1.95"/><ellipse cx="127.2" cy="194.0" rx="2.15" ry="1.95"/><ellipse cx="136.5" cy="198.7" rx="2.15" ry="1.95"/><ellipse cx="151.1" cy="191.1" rx="2.15" ry="1.95"/><ellipse cx="127.7" cy="202.6" rx="2.15" ry="1.95"/><ellipse cx="173.1" cy="184.2" rx="2.15" ry="1.95"/><ellipse cx="121.4" cy="200.4" rx="2.15" ry="1.95"/><ellipse cx="150.2" cy="202.3" rx="2.15" ry="1.95"/><ellipse cx="133.9" cy="205.4" rx="2.15" ry="1.95"/><ellipse cx="172.6" cy="194.2" rx="2.15" ry="1.95"/><ellipse cx="135.5" cy="215.8" rx="2.15" ry="1.95"/><ellipse cx="115.9" cy="197.9" rx="2.15" ry="1.95"/><ellipse cx="112.2" cy="210.8" rx="2.15" ry="1.95"/><ellipse cx="133.4" cy="211.5" rx="2.15" ry="1.95"/><ellipse cx="120.9" cy="212.1" rx="2.15" ry="1.95"/><ellipse cx="159.4" cy="180.8" rx="2.15" ry="1.95"/><ellipse cx="121.7" cy="191.0" rx="2.15" ry="1.95"/><ellipse cx="151.9" cy="179.4" rx="2.15" ry="1.95"/><ellipse cx="101.4" cy="208.3" rx="2.15" ry="1.95"/><ellipse cx="135.6" cy="196.1" rx="2.15" ry="1.95"/><ellipse cx="154.8" cy="201.9" rx="2.15" ry="1.95"/><ellipse cx="173.7" cy="194.4" rx="2.15" ry="1.95"/><ellipse cx="138.1" cy="201.2" rx="2.15" ry="1.95"/><ellipse cx="115.2" cy="203.6" rx="2.15" ry="1.95"/><ellipse cx="123.1" cy="193.7" rx="2.15" ry="1.95"/><ellipse cx="150.7" cy="188.9" rx="2.15" ry="1.95"/><ellipse cx="161.4" cy="185.9" rx="2.15" ry="1.95"/><ellipse cx="164.0" cy="197.6" rx="2.15" ry="1.95"/><ellipse cx="143.4" cy="189.5" rx="2.15" ry="1.95"/><ellipse cx="148.1" cy="205.1" rx="2.15" ry="1.95"/><ellipse cx="135.3" cy="207.8" rx="2.15" ry="1.95"/><ellipse cx="146.6" cy="202.3" rx="2.15" ry="1.95"/><ellipse cx="113.3" cy="200.2" rx="2.15" ry="1.95"/><ellipse cx="140.9" cy="182.7" rx="2.15" ry="1.95"/><ellipse cx="107.5" cy="200.7" rx="2.15" ry="1.95"/><ellipse cx="130.4" cy="187.4" rx="2.15" ry="1.95"/><ellipse cx="171.1" cy="176.7" rx="2.15" ry="1.95"/><ellipse cx="127.2" cy="182.5" rx="2.15" ry="1.95"/><ellipse cx="130.8" cy="188.6" rx="2.15" ry="1.95"/><ellipse cx="124.4" cy="195.7" rx="2.15" ry="1.95"/><ellipse cx="107.2" cy="206.0" rx="2.15" ry="1.95"/><ellipse cx="127.8" cy="200.4" rx="2.15" ry="1.95"/><ellipse cx="172.7" cy="187.2" rx="2.15" ry="1.95"/><ellipse cx="125.1" cy="189.1" rx="2.15" ry="1.95"/><ellipse cx="140.0" cy="193.4" rx="2.15" ry="1.95"/><ellipse cx="136.8" cy="188.9" rx="2.15" ry="1.95"/><ellipse cx="120.6" cy="203.9" rx="2.15" ry="1.95"/><ellipse cx="150.9" cy="179.4" rx="2.15" ry="1.95"/><ellipse cx="118.6" cy="201.8" rx="2.15" ry="1.95"/><ellipse cx="116.1" cy="211.7" rx="2.15" ry="1.95"/><ellipse cx="171.3" cy="182.7" rx="2.15" ry="1.95"/><ellipse cx="114.8" cy="196.7" rx="2.15" ry="1.95"/><ellipse cx="142.5" cy="201.9" rx="2.15" ry="1.95"/><ellipse cx="108.0" cy="211.0" rx="2.15" ry="1.95"/><ellipse cx="108.5" cy="211.7" rx="2.15" ry="1.95"/><ellipse cx="142.2" cy="197.2" rx="2.15" ry="1.95"/><ellipse cx="128.8" cy="208.5" rx="2.15" ry="1.95"/><ellipse cx="152.9" cy="185.8" rx="2.15" ry="1.95"/><ellipse cx="100.6" cy="196.8" rx="2.15" ry="1.95"/><ellipse cx="107.0" cy="219.7" rx="2.15" ry="1.95"/><ellipse cx="152.0" cy="198.0" rx="2.15" ry="1.95"/><ellipse cx="115.0" cy="200.6" rx="2.15" ry="1.95"/><ellipse cx="127.7" cy="194.9" rx="2.15" ry="1.95"/><ellipse cx="130.1" cy="190.9" rx="2.15" ry="1.95"/><ellipse cx="131.8" cy="197.8" rx="2.15" ry="1.95"/><ellipse cx="147.4" cy="181.1" rx="2.15" ry="1.95"/><ellipse cx="168.8" cy="180.6" rx="2.15" ry="1.95"/><ellipse cx="161.3" cy="185.7" rx="2.15" ry="1.95"/><ellipse cx="144.2" cy="186.3" rx="2.15" ry="1.95"/><ellipse cx="129.7" cy="195.0" rx="2.15" ry="1.95"/><ellipse cx="139.6" cy="199.5" rx="2.15" ry="1.95"/><ellipse cx="141.8" cy="205.4" rx="2.15" ry="1.95"/><ellipse cx="159.4" cy="186.7" rx="2.15" ry="1.95"/><ellipse cx="145.4" cy="195.2" rx="2.15" ry="1.95"/><ellipse cx="133.8" cy="191.1" rx="2.15" ry="1.95"/><ellipse cx="139.4" cy="180.7" rx="2.15" ry="1.95"/><ellipse cx="108.3" cy="214.0" rx="2.15" ry="1.95"/><ellipse cx="153.7" cy="178.2" rx="2.15" ry="1.95"/><ellipse cx="123.2" cy="209.9" rx="2.15" ry="1.95"/><ellipse cx="140.0" cy="205.6" rx="2.15" ry="1.95"/><ellipse cx="139.0" cy="201.2" rx="2.15" ry="1.95"/><ellipse cx="177.6" cy="188.4" rx="2.15" ry="1.95"/><ellipse cx="126.0" cy="189.6" rx="2.15" ry="1.95"/><ellipse cx="140.7" cy="180.0" rx="2.15" ry="1.95"/><ellipse cx="153.6" cy="194.8" rx="2.15" ry="1.95"/><ellipse cx="148.0" cy="201.4" rx="2.15" ry="1.95"/><ellipse cx="155.7" cy="198.8" rx="2.15" ry="1.95"/><ellipse cx="144.6" cy="188.5" rx="2.15" ry="1.95"/><ellipse cx="172.0" cy="182.3" rx="2.15" ry="1.95"/><ellipse cx="150.4" cy="193.7" rx="2.15" ry="1.95"/><ellipse cx="112.8" cy="195.8" rx="2.15" ry="1.95"/><ellipse cx="128.1" cy="195.6" rx="2.15" ry="1.95"/><ellipse cx="140.3" cy="192.1" rx="2.15" ry="1.95"/><ellipse cx="160.5" cy="193.7" rx="2.15" ry="1.95"/><ellipse cx="143.4" cy="201.0" rx="2.15" ry="1.95"/><ellipse cx="111.6" cy="204.5" rx="2.15" ry="1.95"/><ellipse cx="139.1" cy="183.7" rx="2.15" ry="1.95"/><ellipse cx="100.6" cy="209.6" rx="2.15" ry="1.95"/><ellipse cx="130.7" cy="202.4" rx="2.15" ry="1.95"/><ellipse cx="149.4" cy="185.9" rx="2.15" ry="1.95"/><ellipse cx="129.9" cy="204.0" rx="2.15" ry="1.95"/><ellipse cx="138.7" cy="202.7" rx="2.15" ry="1.95"/><ellipse cx="154.7" cy="178.9" rx="2.15" ry="1.95"/><ellipse cx="141.4" cy="185.9" rx="2.15" ry="1.95"/><ellipse cx="166.0" cy="177.4" rx="2.15" ry="1.95"/><ellipse cx="155.8" cy="201.1" rx="2.15" ry="1.95"/><ellipse cx="112.2" cy="195.9" rx="2.15" ry="1.95"/><ellipse cx="166.4" cy="181.4" rx="2.15" ry="1.95"/><ellipse cx="157.0" cy="193.6" rx="2.15" ry="1.95"/><ellipse cx="143.5" cy="178.3" rx="2.15" ry="1.95"/><ellipse cx="128.4" cy="200.6" rx="2.15" ry="1.95"/><ellipse cx="113.3" cy="204.3" rx="2.15" ry="1.95"/><ellipse cx="150.3" cy="179.7" rx="2.15" ry="1.95"/><ellipse cx="111.0" cy="203.0" rx="2.15" ry="1.95"/><ellipse cx="110.3" cy="216.9" rx="2.15" ry="1.95"/><ellipse cx="164.4" cy="194.7" rx="2.15" ry="1.95"/><ellipse cx="162.3" cy="184.6" rx="2.15" ry="1.95"/><ellipse cx="167.9" cy="191.9" rx="2.15" ry="1.95"/><ellipse cx="95.9" cy="213.2" rx="2.15" ry="1.95"/><ellipse cx="139.5" cy="204.5" rx="2.15" ry="1.95"/><ellipse cx="157.1" cy="186.2" rx="2.15" ry="1.95"/><ellipse cx="157.0" cy="186.2" rx="2.15" ry="1.95"/><ellipse cx="105.5" cy="205.5" rx="2.15" ry="1.95"/><ellipse cx="139.8" cy="179.2" rx="2.15" ry="1.95"/><ellipse cx="104.9" cy="203.7" rx="2.15" ry="1.95"/><ellipse cx="139.7" cy="179.3" rx="2.15" ry="1.95"/><ellipse cx="137.7" cy="199.4" rx="2.15" ry="1.95"/><ellipse cx="118.2" cy="195.9" rx="2.15" ry="1.95"/><ellipse cx="136.8" cy="189.6" rx="2.15" ry="1.95"/><ellipse cx="126.9" cy="202.5" rx="2.15" ry="1.95"/><ellipse cx="130.6" cy="198.1" rx="2.15" ry="1.95"/><ellipse cx="168.5" cy="195.7" rx="2.15" ry="1.95"/><ellipse cx="139.5" cy="204.4" rx="2.15" ry="1.95"/><ellipse cx="136.8" cy="191.1" rx="2.15" ry="1.95"/><ellipse cx="136.7" cy="183.9" rx="2.15" ry="1.95"/><ellipse cx="136.3" cy="197.6" rx="2.15" ry="1.95"/><ellipse cx="120.4" cy="200.0" rx="2.15" ry="1.95"/><ellipse cx="167.7" cy="182.7" rx="2.15" ry="1.95"/><ellipse cx="132.5" cy="211.7" rx="2.15" ry="1.95"/><ellipse cx="119.4" cy="193.1" rx="2.15" ry="1.95"/><ellipse cx="124.8" cy="196.8" rx="2.15" ry="1.95"/><ellipse cx="129.5" cy="202.7" rx="2.15" ry="1.95"/><ellipse cx="132.3" cy="178.2" rx="2.15" ry="1.95"/><ellipse cx="125.0" cy="199.9" rx="2.15" ry="1.95"/><ellipse cx="115.5" cy="208.4" rx="2.15" ry="1.95"/><ellipse cx="113.1" cy="213.4" rx="2.15" ry="1.95"/><ellipse cx="129.0" cy="202.4" rx="2.15" ry="1.95"/><ellipse cx="163.5" cy="186.5" rx="2.15" ry="1.95"/><ellipse cx="129.8" cy="208.4" rx="2.15" ry="1.95"/><ellipse cx="151.6" cy="192.9" rx="2.15" ry="1.95"/><ellipse cx="168.4" cy="198.4" rx="2.15" ry="1.95"/><ellipse cx="165.4" cy="190.9" rx="2.15" ry="1.95"/><ellipse cx="135.9" cy="205.8" rx="2.15" ry="1.95"/><ellipse cx="123.9" cy="211.0" rx="2.15" ry="1.95"/><ellipse cx="149.8" cy="183.7" rx="2.15" ry="1.95"/><ellipse cx="170.7" cy="191.4" rx="2.15" ry="1.95"/><ellipse cx="166.0" cy="195.0" rx="2.15" ry="1.95"/><ellipse cx="153.9" cy="184.1" rx="2.15" ry="1.95"/><ellipse cx="121.9" cy="212.8" rx="2.15" ry="1.95"/><ellipse cx="105.9" cy="204.2" rx="2.15" ry="1.95"/><ellipse cx="106.6" cy="217.5" rx="2.15" ry="1.95"/><ellipse cx="95.6" cy="207.4" rx="2.15" ry="1.95"/><ellipse cx="127.7" cy="204.7" rx="2.15" ry="1.95"/><ellipse cx="137.1" cy="179.6" rx="2.15" ry="1.95"/><ellipse cx="171.5" cy="182.1" rx="2.15" ry="1.95"/><ellipse cx="171.6" cy="187.1" rx="2.15" ry="1.95"/><ellipse cx="161.9" cy="201.4" rx="2.15" ry="1.95"/><ellipse cx="167.1" cy="188.1" rx="2.15" ry="1.95"/><ellipse cx="162.7" cy="184.1" rx="2.15" ry="1.95"/><ellipse cx="172.4" cy="181.0" rx="2.15" ry="1.95"/><ellipse cx="132.5" cy="188.3" rx="2.15" ry="1.95"/><ellipse cx="164.7" cy="199.5" rx="2.15" ry="1.95"/><ellipse cx="172.7" cy="192.9" rx="2.15" ry="1.95"/><ellipse cx="152.6" cy="180.5" rx="2.15" ry="1.95"/><ellipse cx="115.0" cy="200.8" rx="2.15" ry="1.95"/><ellipse cx="108.9" cy="206.2" rx="2.15" ry="1.95"/><ellipse cx="115.9" cy="198.8" rx="2.15" ry="1.95"/><ellipse cx="128.5" cy="210.0" rx="2.15" ry="1.95"/><ellipse cx="104.4" cy="214.7" rx="2.15" ry="1.95"/><ellipse cx="152.6" cy="190.3" rx="2.15" ry="1.95"/><ellipse cx="117.7" cy="202.6" rx="2.15" ry="1.95"/><ellipse cx="105.3" cy="213.9" rx="2.15" ry="1.95"/><ellipse cx="150.6" cy="199.2" rx="2.15" ry="1.95"/><ellipse cx="159.3" cy="180.8" rx="2.15" ry="1.95"/><ellipse cx="126.5" cy="204.3" rx="2.15" ry="1.95"/><ellipse cx="102.5" cy="203.1" rx="2.15" ry="1.95"/><ellipse cx="169.8" cy="182.4" rx="2.15" ry="1.95"/><ellipse cx="97.7" cy="205.2" rx="2.15" ry="1.95"/><ellipse cx="159.6" cy="197.4" rx="2.15" ry="1.95"/><ellipse cx="147.1" cy="190.8" rx="2.15" ry="1.95"/><ellipse cx="109.6" cy="205.4" rx="2.15" ry="1.95"/><ellipse cx="173.1" cy="191.8" rx="2.15" ry="1.95"/><ellipse cx="98.3" cy="202.1" rx="2.15" ry="1.95"/><ellipse cx="104.3" cy="218.9" rx="2.15" ry="1.95"/><ellipse cx="147.1" cy="196.6" rx="2.15" ry="1.95"/><ellipse cx="106.5" cy="208.5" rx="2.15" ry="1.95"/><ellipse cx="123.1" cy="208.4" rx="2.15" ry="1.95"/><ellipse cx="145.1" cy="183.7" rx="2.15" ry="1.95"/><ellipse cx="155.0" cy="182.3" rx="2.15" ry="1.95"/><ellipse cx="102.3" cy="204.1" rx="2.15" ry="1.95"/><ellipse cx="101.2" cy="201.4" rx="2.15" ry="1.95"/><ellipse cx="128.4" cy="200.8" rx="2.15" ry="1.95"/><ellipse cx="143.6" cy="201.0" rx="2.15" ry="1.95"/><ellipse cx="129.5" cy="201.1" rx="2.15" ry="1.95"/><ellipse cx="123.9" cy="207.4" rx="2.15" ry="1.95"/><ellipse cx="153.0" cy="195.4" rx="2.15" ry="1.95"/><ellipse cx="133.1" cy="184.5" rx="2.15" ry="1.95"/><ellipse cx="104.3" cy="203.9" rx="2.15" ry="1.95"/><ellipse cx="112.2" cy="217.1" rx="2.15" ry="1.95"/><ellipse cx="171.6" cy="196.9" rx="2.15" ry="1.95"/><ellipse cx="140.8" cy="193.0" rx="2.15" ry="1.95"/><ellipse cx="103.4" cy="217.4" rx="2.15" ry="1.95"/><ellipse cx="135.9" cy="208.8" rx="2.15" ry="1.95"/><ellipse cx="171.7" cy="189.5" rx="2.15" ry="1.95"/><ellipse cx="178.7" cy="180.4" rx="2.15" ry="1.95"/><ellipse cx="163.2" cy="186.0" rx="2.15" ry="1.95"/><ellipse cx="100.5" cy="211.3" rx="2.15" ry="1.95"/><ellipse cx="158.8" cy="182.6" rx="2.15" ry="1.95"/><ellipse cx="135.3" cy="190.6" rx="2.15" ry="1.95"/><ellipse cx="137.4" cy="193.6" rx="2.15" ry="1.95"/><ellipse cx="129.9" cy="185.1" rx="2.15" ry="1.95"/><ellipse cx="148.1" cy="178.7" rx="2.15" ry="1.95"/><ellipse cx="167.9" cy="200.7" rx="2.15" ry="1.95"/><ellipse cx="167.1" cy="199.6" rx="2.15" ry="1.95"/><ellipse cx="116.9" cy="198.4" rx="2.15" ry="1.95"/><ellipse cx="119.2" cy="211.4" rx="2.15" ry="1.95"/><ellipse cx="154.6" cy="179.1" rx="2.15" ry="1.95"/><ellipse cx="110.4" cy="202.7" rx="2.15" ry="1.95"/><ellipse cx="143.0" cy="182.5" rx="2.15" ry="1.95"/><ellipse cx="138.4" cy="206.3" rx="2.15" ry="1.95"/><ellipse cx="117.6" cy="211.1" rx="2.15" ry="1.95"/><ellipse cx="174.4" cy="186.0" rx="2.15" ry="1.95"/><ellipse cx="174.3" cy="195.3" rx="2.15" ry="1.95"/><ellipse cx="105.7" cy="222.4" rx="2.15" ry="1.95"/><ellipse cx="110.7" cy="197.0" rx="2.15" ry="1.95"/><ellipse cx="155.7" cy="190.8" rx="2.15" ry="1.95"/><ellipse cx="96.4" cy="209.7" rx="2.15" ry="1.95"/><ellipse cx="128.4" cy="207.4" rx="2.15" ry="1.95"/><ellipse cx="143.9" cy="193.6" rx="2.15" ry="1.95"/><ellipse cx="112.4" cy="219.2" rx="2.15" ry="1.95"/><ellipse cx="171.7" cy="197.9" rx="2.15" ry="1.95"/><ellipse cx="179.5" cy="182.5" rx="2.15" ry="1.95"/><ellipse cx="146.6" cy="183.7" rx="2.15" ry="1.95"/><ellipse cx="112.1" cy="207.5" rx="2.15" ry="1.95"/><ellipse cx="155.7" cy="200.6" rx="2.15" ry="1.95"/><ellipse cx="164.7" cy="198.5" rx="2.15" ry="1.95"/><ellipse cx="151.2" cy="186.0" rx="2.15" ry="1.95"/><ellipse cx="118.8" cy="200.9" rx="2.15" ry="1.95"/><ellipse cx="168.0" cy="177.7" rx="2.15" ry="1.95"/><ellipse cx="142.9" cy="192.7" rx="2.15" ry="1.95"/><ellipse cx="95.3" cy="201.8" rx="2.15" ry="1.95"/><ellipse cx="123.1" cy="197.4" rx="2.15" ry="1.95"/><ellipse cx="105.0" cy="202.5" rx="2.15" ry="1.95"/><ellipse cx="170.6" cy="195.7" rx="2.15" ry="1.95"/><ellipse cx="140.0" cy="179.0" rx="2.15" ry="1.95"/><ellipse cx="132.5" cy="182.6" rx="2.15" ry="1.95"/><ellipse cx="117.4" cy="206.9" rx="2.15" ry="1.95"/><ellipse cx="175.1" cy="179.8" rx="2.15" ry="1.95"/><ellipse cx="175.2" cy="187.4" rx="2.15" ry="1.95"/><ellipse cx="169.1" cy="194.1" rx="2.15" ry="1.95"/><ellipse cx="121.0" cy="213.4" rx="2.15" ry="1.95"/><ellipse cx="138.2" cy="195.9" rx="2.15" ry="1.95"/><ellipse cx="100.7" cy="208.0" rx="2.15" ry="1.95"/><ellipse cx="123.7" cy="204.0" rx="2.15" ry="1.95"/><ellipse cx="162.0" cy="200.0" rx="2.15" ry="1.95"/><ellipse cx="165.7" cy="193.9" rx="2.15" ry="1.95"/><ellipse cx="154.0" cy="188.4" rx="2.15" ry="1.95"/><ellipse cx="124.1" cy="207.5" rx="2.15" ry="1.95"/><ellipse cx="128.1" cy="208.2" rx="2.15" ry="1.95"/><ellipse cx="152.9" cy="188.8" rx="2.15" ry="1.95"/><ellipse cx="119.9" cy="192.8" rx="2.15" ry="1.95"/><ellipse cx="171.0" cy="197.5" rx="2.15" ry="1.95"/><ellipse cx="97.9" cy="213.2" rx="2.15" ry="1.95"/><ellipse cx="146.2" cy="180.3" rx="2.15" ry="1.95"/><ellipse cx="166.4" cy="194.6" rx="2.15" ry="1.95"/><ellipse cx="150.8" cy="181.8" rx="2.15" ry="1.95"/><ellipse cx="113.4" cy="195.6" rx="2.15" ry="1.95"/><ellipse cx="160.9" cy="194.4" rx="2.15" ry="1.95"/><ellipse cx="170.4" cy="198.5" rx="2.15" ry="1.95"/><ellipse cx="171.7" cy="187.2" rx="2.15" ry="1.95"/><ellipse cx="152.6" cy="190.0" rx="2.15" ry="1.95"/><ellipse cx="170.6" cy="188.7" rx="2.15" ry="1.95"/><ellipse cx="173.4" cy="190.7" rx="2.15" ry="1.95"/><ellipse cx="136.7" cy="184.2" rx="2.15" ry="1.95"/><ellipse cx="105.6" cy="198.1" rx="2.15" ry="1.95"/><ellipse cx="168.7" cy="185.2" rx="2.15" ry="1.95"/><ellipse cx="131.6" cy="206.6" rx="2.15" ry="1.95"/><ellipse cx="105.4" cy="211.7" rx="2.15" ry="1.95"/><ellipse cx="99.5" cy="211.8" rx="2.15" ry="1.95"/><ellipse cx="165.6" cy="191.8" rx="2.15" ry="1.95"/><ellipse cx="174.1" cy="189.3" rx="2.15" ry="1.95"/><ellipse cx="157.1" cy="192.9" rx="2.15" ry="1.95"/><ellipse cx="128.9" cy="187.1" rx="2.15" ry="1.95"/><ellipse cx="156.3" cy="193.1" rx="2.15" ry="1.95"/><ellipse cx="143.8" cy="203.6" rx="2.15" ry="1.95"/><ellipse cx="113.5" cy="215.5" rx="2.15" ry="1.95"/><ellipse cx="151.4" cy="195.9" rx="2.15" ry="1.95"/><ellipse cx="173.6" cy="196.2" rx="2.15" ry="1.95"/><ellipse cx="138.7" cy="186.9" rx="2.15" ry="1.95"/><ellipse cx="176.9" cy="186.8" rx="2.15" ry="1.95"/><ellipse cx="132.2" cy="198.6" rx="2.15" ry="1.95"/><ellipse cx="134.9" cy="177.0" rx="2.15" ry="1.95"/><ellipse cx="157.4" cy="187.6" rx="2.15" ry="1.95"/><ellipse cx="161.2" cy="196.7" rx="2.15" ry="1.95"/><ellipse cx="143.6" cy="191.8" rx="2.15" ry="1.95"/><ellipse cx="169.9" cy="179.8" rx="2.15" ry="1.95"/><ellipse cx="122.5" cy="194.1" rx="2.15" ry="1.95"/><ellipse cx="153.5" cy="180.1" rx="2.15" ry="1.95"/><ellipse cx="153.8" cy="195.2" rx="2.15" ry="1.95"/><ellipse cx="132.3" cy="193.1" rx="2.15" ry="1.95"/><ellipse cx="158.5" cy="197.4" rx="2.15" ry="1.95"/><ellipse cx="122.9" cy="192.9" rx="2.15" ry="1.95"/><ellipse cx="160.4" cy="180.7" rx="2.15" ry="1.95"/><ellipse cx="126.6" cy="191.2" rx="2.15" ry="1.95"/><ellipse cx="129.1" cy="204.7" rx="2.15" ry="1.95"/><ellipse cx="147.1" cy="194.9" rx="2.15" ry="1.95"/><ellipse cx="175.4" cy="191.2" rx="2.15" ry="1.95"/><ellipse cx="134.0" cy="190.9" rx="2.15" ry="1.95"/><ellipse cx="132.3" cy="193.1" rx="2.15" ry="1.95"/><ellipse cx="163.6" cy="189.6" rx="2.15" ry="1.95"/><ellipse cx="119.4" cy="194.0" rx="2.15" ry="1.95"/><ellipse cx="127.1" cy="207.8" rx="2.15" ry="1.95"/><ellipse cx="129.0" cy="190.1" rx="2.15" ry="1.95"/><ellipse cx="168.5" cy="185.7" rx="2.15" ry="1.95"/><ellipse cx="164.2" cy="194.7" rx="2.15" ry="1.95"/><ellipse cx="99.6" cy="204.6" rx="2.15" ry="1.95"/><ellipse cx="173.8" cy="184.6" rx="2.15" ry="1.95"/><ellipse cx="129.1" cy="186.8" rx="2.15" ry="1.95"/><ellipse cx="129.8" cy="197.5" rx="2.15" ry="1.95"/><ellipse cx="159.6" cy="196.3" rx="2.15" ry="1.95"/><ellipse cx="144.8" cy="179.6" rx="2.15" ry="1.95"/><ellipse cx="119.6" cy="212.1" rx="2.15" ry="1.95"/><ellipse cx="131.4" cy="194.3" rx="2.15" ry="1.95"/><ellipse cx="130.6" cy="206.8" rx="2.15" ry="1.95"/><ellipse cx="103.0" cy="203.2" rx="2.15" ry="1.95"/><ellipse cx="132.3" cy="187.0" rx="2.15" ry="1.95"/><ellipse cx="173.9" cy="183.0" rx="2.15" ry="1.95"/><ellipse cx="126.5" cy="192.7" rx="2.15" ry="1.95"/><ellipse cx="96.2" cy="216.4" rx="2.15" ry="1.95"/><ellipse cx="123.6" cy="190.6" rx="2.15" ry="1.95"/><ellipse cx="124.1" cy="204.4" rx="2.15" ry="1.95"/><ellipse cx="137.2" cy="203.5" rx="2.15" ry="1.95"/><ellipse cx="125.5" cy="209.6" rx="2.15" ry="1.95"/><ellipse cx="132.1" cy="188.9" rx="2.15" ry="1.95"/><ellipse cx="131.0" cy="207.2" rx="2.15" ry="1.95"/><ellipse cx="165.9" cy="199.0" rx="2.15" ry="1.95"/><ellipse cx="131.8" cy="187.4" rx="2.15" ry="1.95"/><ellipse cx="119.8" cy="207.0" rx="2.15" ry="1.95"/><ellipse cx="136.5" cy="194.9" rx="2.15" ry="1.95"/><ellipse cx="167.1" cy="179.6" rx="2.15" ry="1.95"/><ellipse cx="172.7" cy="185.1" rx="2.15" ry="1.95"/><ellipse cx="170.3" cy="192.2" rx="2.15" ry="1.95"/><ellipse cx="156.9" cy="196.3" rx="2.15" ry="1.95"/><ellipse cx="137.1" cy="189.1" rx="2.15" ry="1.95"/><ellipse cx="128.7" cy="185.2" rx="2.15" ry="1.95"/><ellipse cx="147.0" cy="200.0" rx="2.15" ry="1.95"/><ellipse cx="130.2" cy="187.2" rx="2.15" ry="1.95"/><ellipse cx="175.3" cy="185.7" rx="2.15" ry="1.95"/><ellipse cx="138.4" cy="200.5" rx="2.15" ry="1.95"/><ellipse cx="115.3" cy="213.3" rx="2.15" ry="1.95"/><ellipse cx="140.6" cy="180.0" rx="2.15" ry="1.95"/><ellipse cx="105.8" cy="203.9" rx="2.15" ry="1.95"/><ellipse cx="119.2" cy="193.5" rx="2.15" ry="1.95"/><ellipse cx="107.0" cy="206.1" rx="2.15" ry="1.95"/><ellipse cx="140.7" cy="198.0" rx="2.15" ry="1.95"/><ellipse cx="157.9" cy="187.6" rx="2.15" ry="1.95"/><ellipse cx="177.1" cy="192.9" rx="2.15" ry="1.95"/><ellipse cx="181.5" cy="178.4" rx="2.15" ry="1.95"/><ellipse cx="105.4" cy="206.8" rx="2.15" ry="1.95"/><ellipse cx="167.7" cy="182.2" rx="2.15" ry="1.95"/><ellipse cx="169.4" cy="180.1" rx="2.15" ry="1.95"/><ellipse cx="110.8" cy="215.9" rx="2.15" ry="1.95"/><ellipse cx="157.3" cy="193.3" rx="2.15" ry="1.95"/><ellipse cx="134.4" cy="192.1" rx="2.15" ry="1.95"/><ellipse cx="127.3" cy="200.0" rx="2.15" ry="1.95"/><ellipse cx="123.8" cy="200.1" rx="2.15" ry="1.95"/><ellipse cx="104.6" cy="198.9" rx="2.15" ry="1.95"/><ellipse cx="113.5" cy="214.9" rx="2.15" ry="1.95"/><ellipse cx="102.4" cy="218.4" rx="2.15" ry="1.95"/><ellipse cx="125.0" cy="195.3" rx="2.15" ry="1.95"/><ellipse cx="147.3" cy="202.3" rx="2.15" ry="1.95"/><ellipse cx="130.3" cy="207.7" rx="2.15" ry="1.95"/><ellipse cx="124.2" cy="211.9" rx="2.15" ry="1.95"/><ellipse cx="129.8" cy="191.4" rx="2.15" ry="1.95"/><ellipse cx="124.8" cy="198.0" rx="2.15" ry="1.95"/><ellipse cx="169.7" cy="195.4" rx="2.15" ry="1.95"/><ellipse cx="172.9" cy="179.0" rx="2.15" ry="1.95"/><ellipse cx="179.9" cy="177.0" rx="2.15" ry="1.95"/><ellipse cx="114.9" cy="208.9" rx="2.15" ry="1.95"/><ellipse cx="178.0" cy="184.7" rx="2.15" ry="1.95"/><ellipse cx="130.0" cy="180.3" rx="2.15" ry="1.95"/><ellipse cx="120.1" cy="190.5" rx="2.15" ry="1.95"/><ellipse cx="131.3" cy="188.2" rx="2.15" ry="1.95"/><ellipse cx="105.3" cy="200.0" rx="2.15" ry="1.95"/><ellipse cx="107.8" cy="215.2" rx="2.15" ry="1.95"/><ellipse cx="139.2" cy="195.3" rx="2.15" ry="1.95"/><ellipse cx="134.6" cy="196.7" rx="2.15" ry="1.95"/><ellipse cx="142.0" cy="190.2" rx="2.15" ry="1.95"/><ellipse cx="156.7" cy="182.2" rx="2.15" ry="1.95"/><ellipse cx="133.8" cy="187.9" rx="2.15" ry="1.95"/><ellipse cx="147.2" cy="205.9" rx="2.15" ry="1.95"/><ellipse cx="131.1" cy="195.4" rx="2.15" ry="1.95"/><ellipse cx="127.9" cy="191.8" rx="2.15" ry="1.95"/><ellipse cx="114.8" cy="205.2" rx="2.15" ry="1.95"/><ellipse cx="171.9" cy="181.0" rx="2.15" ry="1.95"/><ellipse cx="127.6" cy="182.7" rx="2.15" ry="1.95"/><ellipse cx="156.9" cy="197.7" rx="2.15" ry="1.95"/><ellipse cx="148.5" cy="200.1" rx="2.15" ry="1.95"/><ellipse cx="145.0" cy="193.6" rx="2.15" ry="1.95"/><ellipse cx="156.8" cy="196.2" rx="2.15" ry="1.95"/><ellipse cx="146.2" cy="175.6" rx="2.15" ry="1.95"/><ellipse cx="139.6" cy="185.7" rx="2.15" ry="1.95"/><ellipse cx="117.6" cy="189.4" rx="2.15" ry="1.95"/><ellipse cx="127.7" cy="197.2" rx="2.15" ry="1.95"/><ellipse cx="143.2" cy="198.8" rx="2.15" ry="1.95"/><ellipse cx="112.6" cy="200.7" rx="2.15" ry="1.95"/><ellipse cx="106.2" cy="206.6" rx="2.15" ry="1.95"/><ellipse cx="97.5" cy="210.4" rx="2.15" ry="1.95"/><ellipse cx="173.4" cy="198.8" rx="2.15" ry="1.95"/><ellipse cx="116.1" cy="205.2" rx="2.15" ry="1.95"/><ellipse cx="128.3" cy="203.4" rx="2.15" ry="1.95"/><ellipse cx="172.1" cy="191.9" rx="2.15" ry="1.95"/><ellipse cx="115.5" cy="213.5" rx="2.15" ry="1.95"/><ellipse cx="176.7" cy="189.9" rx="2.15" ry="1.95"/><ellipse cx="96.1" cy="206.0" rx="2.15" ry="1.95"/><ellipse cx="97.1" cy="211.2" rx="2.15" ry="1.95"/><ellipse cx="115.3" cy="202.9" rx="2.15" ry="1.95"/><ellipse cx="131.2" cy="201.8" rx="2.15" ry="1.95"/><ellipse cx="160.5" cy="204.9" rx="2.15" ry="1.95"/><ellipse cx="97.1" cy="206.9" rx="2.15" ry="1.95"/><ellipse cx="136.9" cy="180.4" rx="2.15" ry="1.95"/><ellipse cx="131.8" cy="202.1" rx="2.15" ry="1.95"/><ellipse cx="114.1" cy="214.0" rx="2.15" ry="1.95"/><ellipse cx="150.7" cy="196.7" rx="2.15" ry="1.95"/><ellipse cx="129.6" cy="207.5" rx="2.15" ry="1.95"/><ellipse cx="164.5" cy="182.6" rx="2.15" ry="1.95"/><ellipse cx="114.3" cy="207.7" rx="2.15" ry="1.95"/><ellipse cx="140.3" cy="205.6" rx="2.15" ry="1.95"/><ellipse cx="131.2" cy="201.4" rx="2.15" ry="1.95"/><ellipse cx="143.4" cy="202.0" rx="2.15" ry="1.95"/><ellipse cx="102.7" cy="207.4" rx="2.15" ry="1.95"/><ellipse cx="143.1" cy="199.6" rx="2.15" ry="1.95"/><ellipse cx="143.6" cy="202.2" rx="2.15" ry="1.95"/><ellipse cx="166.0" cy="199.3" rx="2.15" ry="1.95"/><ellipse cx="145.1" cy="185.8" rx="2.15" ry="1.95"/><ellipse cx="158.7" cy="196.8" rx="2.15" ry="1.95"/><ellipse cx="143.8" cy="193.6" rx="2.15" ry="1.95"/><ellipse cx="108.1" cy="199.8" rx="2.15" ry="1.95"/><ellipse cx="180.1" cy="190.4" rx="2.15" ry="1.95"/><ellipse cx="128.5" cy="191.1" rx="2.15" ry="1.95"/><ellipse cx="169.6" cy="187.1" rx="2.15" ry="1.95"/><ellipse cx="157.8" cy="184.3" rx="2.15" ry="1.95"/><ellipse cx="99.3" cy="207.5" rx="2.15" ry="1.95"/><ellipse cx="148.2" cy="201.6" rx="2.15" ry="1.95"/><ellipse cx="140.2" cy="182.2" rx="2.15" ry="1.95"/><ellipse cx="135.5" cy="194.4" rx="2.15" ry="1.95"/><ellipse cx="116.7" cy="210.1" rx="2.15" ry="1.95"/><ellipse cx="154.9" cy="190.6" rx="2.15" ry="1.95"/><ellipse cx="128.1" cy="197.5" rx="2.15" ry="1.95"/><ellipse cx="130.0" cy="196.0" rx="2.15" ry="1.95"/><ellipse cx="109.4" cy="211.5" rx="2.15" ry="1.95"/><ellipse cx="166.2" cy="202.0" rx="2.15" ry="1.95"/><ellipse cx="110.6" cy="218.3" rx="2.15" ry="1.95"/><ellipse cx="150.6" cy="191.5" rx="2.15" ry="1.95"/><ellipse cx="110.0" cy="207.8" rx="2.15" ry="1.95"/><ellipse cx="165.1" cy="196.6" rx="2.15" ry="1.95"/><ellipse cx="113.8" cy="206.3" rx="2.15" ry="1.95"/><ellipse cx="113.5" cy="196.7" rx="2.15" ry="1.95"/><ellipse cx="162.5" cy="190.5" rx="2.15" ry="1.95"/><ellipse cx="157.2" cy="197.0" rx="2.15" ry="1.95"/><ellipse cx="115.8" cy="202.9" rx="2.15" ry="1.95"/><ellipse cx="140.2" cy="181.7" rx="2.15" ry="1.95"/><ellipse cx="138.2" cy="200.4" rx="2.15" ry="1.95"/><ellipse cx="143.1" cy="201.1" rx="2.15" ry="1.95"/><ellipse cx="115.8" cy="214.8" rx="2.15" ry="1.95"/><ellipse cx="150.5" cy="182.0" rx="2.15" ry="1.95"/><ellipse cx="152.1" cy="203.9" rx="2.15" ry="1.95"/><ellipse cx="148.1" cy="185.8" rx="2.15" ry="1.95"/><ellipse cx="159.4" cy="186.0" rx="2.15" ry="1.95"/><ellipse cx="98.9" cy="207.3" rx="2.15" ry="1.95"/><ellipse cx="163.1" cy="193.2" rx="2.15" ry="1.95"/><ellipse cx="121.2" cy="207.8" rx="2.15" ry="1.95"/><ellipse cx="121.9" cy="198.1" rx="2.15" ry="1.95"/><ellipse cx="124.9" cy="193.7" rx="2.15" ry="1.95"/><ellipse cx="146.9" cy="198.3" rx="2.15" ry="1.95"/><ellipse cx="111.1" cy="196.2" rx="2.15" ry="1.95"/><ellipse cx="179.6" cy="194.0" rx="2.15" ry="1.95"/><ellipse cx="147.9" cy="187.9" rx="2.15" ry="1.95"/><ellipse cx="127.2" cy="210.5" rx="2.15" ry="1.95"/></g>
<line x1="30.7" y1="244.3" x2="320.6" y2="45.9" stroke="#ff8a25" stroke-width="1.1"/>
<line x1="16.8" y1="7.9" x2="336.2" y2="7.9" stroke="#707070" stroke-width="1.3"/>
<line x1="16.8" y1="256.2" x2="336.2" y2="256.2" stroke="#606060" stroke-width="1.1"/>
<line x1="17.3" y1="7.9" x2="17.3" y2="256.2" stroke="#484848" stroke-width="1.0"/>
<line x1="335.7" y1="7.9" x2="335.7" y2="256.2" stroke="#505050" stroke-width="1.0"/>
<line x1="386.40" y1="256.20" x2="386.40" y2="258.40" stroke="#333" stroke-width="0.8"/>
<line x1="440.70" y1="256.20" x2="440.70" y2="258.40" stroke="#333" stroke-width="0.8"/>
<line x1="495.00" y1="256.20" x2="495.00" y2="258.40" stroke="#333" stroke-width="0.8"/>
<line x1="549.30" y1="256.20" x2="549.30" y2="258.40" stroke="#333" stroke-width="0.8"/>
<line x1="603.60" y1="256.20" x2="603.60" y2="258.40" stroke="#333" stroke-width="0.8"/>
<line x1="657.90" y1="256.20" x2="657.90" y2="258.40" stroke="#333" stroke-width="0.8"/>
<line x1="354.30" y1="233.78" x2="356.50" y2="233.78" stroke="#333" stroke-width="0.8"/>
<line x1="354.30" y1="197.85" x2="356.50" y2="197.85" stroke="#333" stroke-width="0.8"/>
<line x1="354.30" y1="161.92" x2="356.50" y2="161.92" stroke="#333" stroke-width="0.8"/>
<line x1="354.30" y1="125.99" x2="356.50" y2="125.99" stroke="#333" stroke-width="0.8"/>
<line x1="354.30" y1="90.06" x2="356.50" y2="90.06" stroke="#333" stroke-width="0.8"/>
<line x1="354.30" y1="54.13" x2="356.50" y2="54.13" stroke="#333" stroke-width="0.8"/>
<line x1="354.30" y1="18.20" x2="356.50" y2="18.20" stroke="#333" stroke-width="0.8"/>
<g fill="#1f77b4"><ellipse cx="389.6" cy="60.1" rx="2.0" ry="2.0"/><ellipse cx="411.5" cy="78.1" rx="2.0" ry="2.0"/><ellipse cx="511.0" cy="16.5" rx="2.0" ry="2.0"/><ellipse cx="520.1" cy="39.9" rx="2.0" ry="2.0"/><ellipse cx="500.0" cy="63.4" rx="2.0" ry="2.0"/><ellipse cx="525.4" cy="72.8" rx="2.0" ry="2.0"/><ellipse cx="468.4" cy="80.2" rx="2.0" ry="2.0"/><ellipse cx="536.2" cy="81.1" rx="2.0" ry="2.0"/><ellipse cx="505.9" cy="87.3" rx="2.0" ry="2.0"/><ellipse cx="523.9" cy="88.1" rx="2.0" ry="2.0"/><ellipse cx="527.3" cy="91.8" rx="2.0" ry="2.0"/><ellipse cx="526.8" cy="99.3" rx="2.0" ry="2.0"/><ellipse cx="531.8" cy="99.3" rx="2.0" ry="2.0"/><ellipse cx="536.2" cy="98.8" rx="2.0" ry="2.0"/><ellipse cx="548.3" cy="97.2" rx="2.0" ry="2.0"/><ellipse cx="550.7" cy="95.2" rx="2.0" ry="2.0"/><ellipse cx="554.0" cy="95.2" rx="2.0" ry="2.0"/><ellipse cx="564.0" cy="12.4" rx="2.0" ry="2.0"/><ellipse cx="584.9" cy="12.4" rx="2.0" ry="2.0"/><ellipse cx="602.7" cy="14.0" rx="2.0" ry="2.0"/><ellipse cx="593.3" cy="23.1" rx="2.0" ry="2.0"/><ellipse cx="566.1" cy="52.7" rx="2.0" ry="2.0"/><ellipse cx="573.1" cy="53.5" rx="2.0" ry="2.0"/><ellipse cx="565.7" cy="61.3" rx="2.0" ry="2.0"/><ellipse cx="580.0" cy="60.6" rx="2.0" ry="2.0"/><ellipse cx="576.9" cy="66.4" rx="2.0" ry="2.0"/><ellipse cx="577.7" cy="68.4" rx="2.0" ry="2.0"/><ellipse cx="612.6" cy="67.1" rx="2.0" ry="2.0"/><ellipse cx="618.0" cy="68.0" rx="2.0" ry="2.0"/><ellipse cx="649.7" cy="46.6" rx="2.0" ry="2.0"/><ellipse cx="645.1" cy="56.5" rx="2.0" ry="2.0"/><ellipse cx="648.4" cy="57.2" rx="2.0" ry="2.0"/><ellipse cx="647.2" cy="74.1" rx="2.0" ry="2.0"/><ellipse cx="634.8" cy="80.2" rx="2.0" ry="2.0"/><ellipse cx="616.2" cy="83.2" rx="2.0" ry="2.0"/><ellipse cx="561.2" cy="81.5" rx="2.0" ry="2.0"/><ellipse cx="581.6" cy="81.5" rx="2.0" ry="2.0"/><ellipse cx="580.8" cy="86.8" rx="2.0" ry="2.0"/><ellipse cx="559.1" cy="90.6" rx="2.0" ry="2.0"/><ellipse cx="562.4" cy="89.8" rx="2.0" ry="2.0"/><ellipse cx="564.5" cy="91.1" rx="2.0" ry="2.0"/><ellipse cx="576.9" cy="92.3" rx="2.0" ry="2.0"/><ellipse cx="573.9" cy="96.4" rx="2.0" ry="2.0"/><ellipse cx="567.8" cy="98.5" rx="2.0" ry="2.0"/><ellipse cx="587.1" cy="96.9" rx="2.0" ry="2.0"/><ellipse cx="591.2" cy="96.9" rx="2.0" ry="2.0"/><ellipse cx="593.2" cy="97.2" rx="2.0" ry="2.0"/><ellipse cx="606.3" cy="92.3" rx="2.0" ry="2.0"/><ellipse cx="621.2" cy="93.4" rx="2.0" ry="2.0"/><ellipse cx="622.2" cy="98.5" rx="2.0" ry="2.0"/><ellipse cx="667.9" cy="72.8" rx="2.0" ry="2.0"/><ellipse cx="668.7" cy="93.9" rx="2.0" ry="2.0"/><ellipse cx="404.9" cy="134.6" rx="2.0" ry="2.0"/><ellipse cx="392.6" cy="141.5" rx="2.0" ry="2.0"/><ellipse cx="399.2" cy="139.9" rx="2.0" ry="2.0"/><ellipse cx="454.8" cy="130.5" rx="2.0" ry="2.0"/><ellipse cx="445.3" cy="142.0" rx="2.0" ry="2.0"/><ellipse cx="445.8" cy="156.0" rx="2.0" ry="2.0"/><ellipse cx="409.2" cy="155.7" rx="2.0" ry="2.0"/><ellipse cx="426.5" cy="159.3" rx="2.0" ry="2.0"/><ellipse cx="370.8" cy="161.0" rx="2.0" ry="2.0"/><ellipse cx="385.7" cy="160.5" rx="2.0" ry="2.0"/><ellipse cx="389.0" cy="163.4" rx="2.0" ry="2.0"/><ellipse cx="389.8" cy="167.2" rx="2.0" ry="2.0"/><ellipse cx="399.8" cy="165.9" rx="2.0" ry="2.0"/><ellipse cx="412.0" cy="163.4" rx="2.0" ry="2.0"/><ellipse cx="411.2" cy="167.2" rx="2.0" ry="2.0"/><ellipse cx="412.5" cy="170.5" rx="2.0" ry="2.0"/><ellipse cx="382.7" cy="175.3" rx="2.0" ry="2.0"/><ellipse cx="384.3" cy="179.4" rx="2.0" ry="2.0"/><ellipse cx="390.1" cy="175.5" rx="2.0" ry="2.0"/><ellipse cx="416.6" cy="175.3" rx="2.0" ry="2.0"/><ellipse cx="426.5" cy="173.8" rx="2.0" ry="2.0"/><ellipse cx="434.3" cy="169.7" rx="2.0" ry="2.0"/><ellipse cx="436.7" cy="168.0" rx="2.0" ry="2.0"/><ellipse cx="444.6" cy="172.8" rx="2.0" ry="2.0"/><ellipse cx="438.9" cy="176.1" rx="2.0" ry="2.0"/><ellipse cx="439.2" cy="178.3" rx="2.0" ry="2.0"/><ellipse cx="449.1" cy="175.0" rx="2.0" ry="2.0"/><ellipse cx="449.9" cy="177.4" rx="2.0" ry="2.0"/><ellipse cx="448.3" cy="180.7" rx="2.0" ry="2.0"/><ellipse cx="446.6" cy="183.2" rx="2.0" ry="2.0"/><ellipse cx="412.3" cy="179.4" rx="2.0" ry="2.0"/><ellipse cx="422.7" cy="179.4" rx="2.0" ry="2.0"/><ellipse cx="426.0" cy="180.4" rx="2.0" ry="2.0"/><ellipse cx="393.6" cy="181.5" rx="2.0" ry="2.0"/><ellipse cx="397.2" cy="182.7" rx="2.0" ry="2.0"/><ellipse cx="388.5" cy="184.8" rx="2.0" ry="2.0"/><ellipse cx="412.3" cy="184.8" rx="2.0" ry="2.0"/><ellipse cx="413.7" cy="186.5" rx="2.0" ry="2.0"/><ellipse cx="423.2" cy="187.3" rx="2.0" ry="2.0"/><ellipse cx="439.2" cy="182.4" rx="2.0" ry="2.0"/><ellipse cx="452.7" cy="184.0" rx="2.0" ry="2.0"/><ellipse cx="443.3" cy="190.3" rx="2.0" ry="2.0"/><ellipse cx="447.4" cy="189.0" rx="2.0" ry="2.0"/><ellipse cx="450.7" cy="188.1" rx="2.0" ry="2.0"/><ellipse cx="453.2" cy="190.6" rx="2.0" ry="2.0"/><ellipse cx="376.8" cy="197.5" rx="2.0" ry="2.0"/><ellipse cx="424.9" cy="198.5" rx="2.0" ry="2.0"/><ellipse cx="429.3" cy="199.7" rx="2.0" ry="2.0"/><ellipse cx="437.5" cy="196.4" rx="2.0" ry="2.0"/><ellipse cx="449.1" cy="195.6" rx="2.0" ry="2.0"/><ellipse cx="451.6" cy="198.0" rx="2.0" ry="2.0"/><ellipse cx="455.7" cy="194.7" rx="2.0" ry="2.0"/><ellipse cx="507.1" cy="103.6" rx="2.0" ry="2.0"/><ellipse cx="512.8" cy="106.9" rx="2.0" ry="2.0"/><ellipse cx="494.2" cy="110.7" rx="2.0" ry="2.0"/><ellipse cx="501.3" cy="109.4" rx="2.0" ry="2.0"/><ellipse cx="535.9" cy="100.5" rx="2.0" ry="2.0"/><ellipse cx="552.0" cy="100.8" rx="2.0" ry="2.0"/><ellipse cx="527.7" cy="107.4" rx="2.0" ry="2.0"/><ellipse cx="526.8" cy="110.7" rx="2.0" ry="2.0"/><ellipse cx="535.4" cy="107.9" rx="2.0" ry="2.0"/><ellipse cx="546.3" cy="105.8" rx="2.0" ry="2.0"/><ellipse cx="549.1" cy="107.9" rx="2.0" ry="2.0"/><ellipse cx="540.3" cy="112.4" rx="2.0" ry="2.0"/><ellipse cx="539.2" cy="115.7" rx="2.0" ry="2.0"/><ellipse cx="531.8" cy="116.5" rx="2.0" ry="2.0"/><ellipse cx="551.6" cy="114.0" rx="2.0" ry="2.0"/><ellipse cx="554.8" cy="113.2" rx="2.0" ry="2.0"/><ellipse cx="541.7" cy="119.8" rx="2.0" ry="2.0"/><ellipse cx="551.6" cy="120.6" rx="2.0" ry="2.0"/><ellipse cx="554.8" cy="120.6" rx="2.0" ry="2.0"/><ellipse cx="503.8" cy="122.2" rx="2.0" ry="2.0"/><ellipse cx="505.4" cy="121.4" rx="2.0" ry="2.0"/><ellipse cx="502.1" cy="125.5" rx="2.0" ry="2.0"/><ellipse cx="501.8" cy="128.8" rx="2.0" ry="2.0"/><ellipse cx="518.1" cy="123.1" rx="2.0" ry="2.0"/><ellipse cx="526.8" cy="121.4" rx="2.0" ry="2.0"/><ellipse cx="530.1" cy="124.7" rx="2.0" ry="2.0"/><ellipse cx="536.7" cy="124.7" rx="2.0" ry="2.0"/><ellipse cx="540.0" cy="125.5" rx="2.0" ry="2.0"/><ellipse cx="508.7" cy="130.5" rx="2.0" ry="2.0"/><ellipse cx="518.6" cy="130.5" rx="2.0" ry="2.0"/><ellipse cx="521.9" cy="129.3" rx="2.0" ry="2.0"/><ellipse cx="523.9" cy="128.0" rx="2.0" ry="2.0"/><ellipse cx="528.5" cy="130.5" rx="2.0" ry="2.0"/><ellipse cx="531.8" cy="129.7" rx="2.0" ry="2.0"/><ellipse cx="533.4" cy="128.8" rx="2.0" ry="2.0"/><ellipse cx="486.5" cy="134.6" rx="2.0" ry="2.0"/><ellipse cx="488.1" cy="137.1" rx="2.0" ry="2.0"/><ellipse cx="490.6" cy="139.5" rx="2.0" ry="2.0"/><ellipse cx="512.0" cy="134.6" rx="2.0" ry="2.0"/><ellipse cx="512.8" cy="137.9" rx="2.0" ry="2.0"/><ellipse cx="523.5" cy="135.4" rx="2.0" ry="2.0"/><ellipse cx="500.5" cy="138.7" rx="2.0" ry="2.0"/><ellipse cx="504.6" cy="139.5" rx="2.0" ry="2.0"/><ellipse cx="473.6" cy="150.2" rx="2.0" ry="2.0"/><ellipse cx="485.7" cy="150.2" rx="2.0" ry="2.0"/><ellipse cx="488.1" cy="152.7" rx="2.0" ry="2.0"/><ellipse cx="493.1" cy="152.4" rx="2.0" ry="2.0"/><ellipse cx="497.2" cy="153.5" rx="2.0" ry="2.0"/><ellipse cx="495.5" cy="144.5" rx="2.0" ry="2.0"/><ellipse cx="498.0" cy="147.0" rx="2.0" ry="2.0"/><ellipse cx="460.9" cy="159.3" rx="2.0" ry="2.0"/><ellipse cx="466.7" cy="159.3" rx="2.0" ry="2.0"/><ellipse cx="479.1" cy="160.1" rx="2.0" ry="2.0"/><ellipse cx="471.7" cy="163.4" rx="2.0" ry="2.0"/><ellipse cx="475.8" cy="165.1" rx="2.0" ry="2.0"/><ellipse cx="457.6" cy="170.8" rx="2.0" ry="2.0"/><ellipse cx="459.3" cy="174.1" rx="2.0" ry="2.0"/><ellipse cx="461.8" cy="173.3" rx="2.0" ry="2.0"/><ellipse cx="547.4" cy="186.5" rx="2.0" ry="2.0"/><ellipse cx="529.0" cy="190.3" rx="2.0" ry="2.0"/><ellipse cx="526.0" cy="193.9" rx="2.0" ry="2.0"/><ellipse cx="592.4" cy="99.7" rx="2.0" ry="2.0"/><ellipse cx="594.9" cy="102.9" rx="2.0" ry="2.0"/><ellipse cx="589.6" cy="104.7" rx="2.0" ry="2.0"/><ellipse cx="617.7" cy="106.8" rx="2.0" ry="2.0"/><ellipse cx="625.2" cy="111.4" rx="2.0" ry="2.0"/><ellipse cx="626.1" cy="113.1" rx="2.0" ry="2.0"/><ellipse cx="624.8" cy="118.7" rx="2.0" ry="2.0"/><ellipse cx="571.0" cy="104.3" rx="2.0" ry="2.0"/><ellipse cx="572.8" cy="103.4" rx="2.0" ry="2.0"/><ellipse cx="569.1" cy="107.1" rx="2.0" ry="2.0"/><ellipse cx="570.0" cy="109.0" rx="2.0" ry="2.0"/><ellipse cx="571.9" cy="112.8" rx="2.0" ry="2.0"/><ellipse cx="566.3" cy="109.0" rx="2.0" ry="2.0"/><ellipse cx="563.5" cy="111.8" rx="2.0" ry="2.0"/><ellipse cx="561.6" cy="113.7" rx="2.0" ry="2.0"/><ellipse cx="558.8" cy="115.6" rx="2.0" ry="2.0"/><ellipse cx="556.9" cy="117.4" rx="2.0" ry="2.0"/><ellipse cx="568.1" cy="115.6" rx="2.0" ry="2.0"/><ellipse cx="568.1" cy="118.4" rx="2.0" ry="2.0"/><ellipse cx="590.0" cy="113.3" rx="2.0" ry="2.0"/><ellipse cx="593.4" cy="116.5" rx="2.0" ry="2.0"/><ellipse cx="599.0" cy="115.2" rx="2.0" ry="2.0"/><ellipse cx="606.8" cy="122.1" rx="2.0" ry="2.0"/><ellipse cx="559.7" cy="121.2" rx="2.0" ry="2.0"/><ellipse cx="560.7" cy="124.9" rx="2.0" ry="2.0"/><ellipse cx="561.6" cy="123.0" rx="2.0" ry="2.0"/><ellipse cx="557.9" cy="124.9" rx="2.0" ry="2.0"/><ellipse cx="575.6" cy="123.0" rx="2.0" ry="2.0"/><ellipse cx="574.7" cy="125.8" rx="2.0" ry="2.0"/><ellipse cx="586.8" cy="124.5" rx="2.0" ry="2.0"/><ellipse cx="590.6" cy="124.5" rx="2.0" ry="2.0"/><ellipse cx="567.6" cy="127.7" rx="2.0" ry="2.0"/><ellipse cx="571.0" cy="128.3" rx="2.0" ry="2.0"/><ellipse cx="559.7" cy="128.6" rx="2.0" ry="2.0"/><ellipse cx="561.6" cy="130.5" rx="2.0" ry="2.0"/><ellipse cx="579.4" cy="127.7" rx="2.0" ry="2.0"/><ellipse cx="582.2" cy="130.9" rx="2.0" ry="2.0"/><ellipse cx="574.1" cy="132.0" rx="2.0" ry="2.0"/><ellipse cx="589.3" cy="131.8" rx="2.0" ry="2.0"/><ellipse cx="596.4" cy="127.7" rx="2.0" ry="2.0"/><ellipse cx="602.7" cy="133.9" rx="2.0" ry="2.0"/><ellipse cx="607.4" cy="135.2" rx="2.0" ry="2.0"/><ellipse cx="608.7" cy="138.0" rx="2.0" ry="2.0"/><ellipse cx="609.6" cy="140.4" rx="2.0" ry="2.0"/><ellipse cx="614.5" cy="134.8" rx="2.0" ry="2.0"/><ellipse cx="639.7" cy="134.8" rx="2.0" ry="2.0"/><ellipse cx="645.0" cy="133.9" rx="2.0" ry="2.0"/><ellipse cx="561.6" cy="134.3" rx="2.0" ry="2.0"/><ellipse cx="564.4" cy="133.3" rx="2.0" ry="2.0"/><ellipse cx="566.3" cy="135.2" rx="2.0" ry="2.0"/><ellipse cx="568.1" cy="137.1" rx="2.0" ry="2.0"/><ellipse cx="562.5" cy="137.1" rx="2.0" ry="2.0"/><ellipse cx="556.0" cy="136.1" rx="2.0" ry="2.0"/><ellipse cx="580.3" cy="134.8" rx="2.0" ry="2.0"/><ellipse cx="579.4" cy="140.4" rx="2.0" ry="2.0"/><ellipse cx="569.6" cy="140.4" rx="2.0" ry="2.0"/><ellipse cx="588.3" cy="141.7" rx="2.0" ry="2.0"/><ellipse cx="557.9" cy="141.7" rx="2.0" ry="2.0"/><ellipse cx="559.7" cy="143.2" rx="2.0" ry="2.0"/><ellipse cx="556.9" cy="145.5" rx="2.0" ry="2.0"/><ellipse cx="563.5" cy="144.0" rx="2.0" ry="2.0"/><ellipse cx="569.1" cy="146.4" rx="2.0" ry="2.0"/><ellipse cx="570.0" cy="148.3" rx="2.0" ry="2.0"/><ellipse cx="573.8" cy="149.2" rx="2.0" ry="2.0"/><ellipse cx="575.6" cy="148.6" rx="2.0" ry="2.0"/><ellipse cx="580.9" cy="147.0" rx="2.0" ry="2.0"/><ellipse cx="584.0" cy="147.0" rx="2.0" ry="2.0"/><ellipse cx="585.0" cy="149.2" rx="2.0" ry="2.0"/><ellipse cx="592.4" cy="148.3" rx="2.0" ry="2.0"/><ellipse cx="599.0" cy="144.5" rx="2.0" ry="2.0"/><ellipse cx="623.3" cy="145.1" rx="2.0" ry="2.0"/><ellipse cx="606.5" cy="150.7" rx="2.0" ry="2.0"/><ellipse cx="557.9" cy="151.1" rx="2.0" ry="2.0"/><ellipse cx="561.6" cy="154.4" rx="2.0" ry="2.0"/><ellipse cx="556.9" cy="155.7" rx="2.0" ry="2.0"/><ellipse cx="569.1" cy="152.0" rx="2.0" ry="2.0"/><ellipse cx="578.4" cy="154.4" rx="2.0" ry="2.0"/><ellipse cx="581.2" cy="155.7" rx="2.0" ry="2.0"/><ellipse cx="580.3" cy="158.2" rx="2.0" ry="2.0"/><ellipse cx="591.0" cy="157.2" rx="2.0" ry="2.0"/><ellipse cx="567.2" cy="156.7" rx="2.0" ry="2.0"/><ellipse cx="565.3" cy="158.9" rx="2.0" ry="2.0"/><ellipse cx="620.5" cy="154.8" rx="2.0" ry="2.0"/><ellipse cx="623.3" cy="157.1" rx="2.0" ry="2.0"/><ellipse cx="573.8" cy="162.7" rx="2.0" ry="2.0"/><ellipse cx="570.4" cy="166.4" rx="2.0" ry="2.0"/><ellipse cx="556.9" cy="163.2" rx="2.0" ry="2.0"/><ellipse cx="556.9" cy="169.8" rx="2.0" ry="2.0"/><ellipse cx="556.9" cy="175.0" rx="2.0" ry="2.0"/><ellipse cx="564.4" cy="167.5" rx="2.0" ry="2.0"/><ellipse cx="563.5" cy="181.0" rx="2.0" ry="2.0"/><ellipse cx="410.0" cy="207.1" rx="2.0" ry="2.0"/><ellipse cx="439.9" cy="201.7" rx="2.0" ry="2.0"/><ellipse cx="443.6" cy="203.9" rx="2.0" ry="2.0"/><ellipse cx="446.5" cy="201.7" rx="2.0" ry="2.0"/><ellipse cx="452.4" cy="201.7" rx="2.0" ry="2.0"/><ellipse cx="449.4" cy="209.0" rx="2.0" ry="2.0"/><ellipse cx="448.0" cy="210.4" rx="2.0" ry="2.0"/><ellipse cx="453.8" cy="211.6" rx="2.0" ry="2.0"/><ellipse cx="446.1" cy="215.8" rx="2.0" ry="2.0"/><ellipse cx="501.7" cy="201.5" rx="2.0" ry="2.0"/><ellipse cx="504.8" cy="197.0" rx="2.0" ry="2.0"/><ellipse cx="485.9" cy="205.9" rx="2.0" ry="2.0"/><ellipse cx="464.9" cy="208.6" rx="2.0" ry="2.0"/><ellipse cx="464.5" cy="216.8" rx="2.0" ry="2.0"/><ellipse cx="517.1" cy="187.9" rx="2.0" ry="2.0"/><ellipse cx="519.7" cy="184.9" rx="2.0" ry="2.0"/><ellipse cx="525.8" cy="182.1" rx="2.0" ry="2.0"/><ellipse cx="553.7" cy="109.3" rx="2.0" ry="2.0"/><ellipse cx="543.2" cy="109.3" rx="2.0" ry="2.0"/><ellipse cx="573.0" cy="105.2" rx="2.0" ry="2.0"/><ellipse cx="535.6" cy="113.4" rx="2.0" ry="2.0"/><ellipse cx="557.2" cy="115.1" rx="2.0" ry="2.0"/><ellipse cx="540.9" cy="123.3" rx="2.0" ry="2.0"/><ellipse cx="553.7" cy="119.2" rx="2.0" ry="2.0"/><ellipse cx="543.2" cy="133.2" rx="2.0" ry="2.0"/><ellipse cx="549.0" cy="129.7" rx="2.0" ry="2.0"/><ellipse cx="551.4" cy="133.2" rx="2.0" ry="2.0"/><ellipse cx="552.6" cy="128.5" rx="2.0" ry="2.0"/><ellipse cx="578.2" cy="134.4" rx="2.0" ry="2.0"/><ellipse cx="553.3" cy="141.6" rx="2.0" ry="2.0"/><ellipse cx="557.4" cy="143.4" rx="2.0" ry="2.0"/><ellipse cx="555.0" cy="146.9" rx="2.0" ry="2.0"/><ellipse cx="567.9" cy="148.0" rx="2.0" ry="2.0"/><ellipse cx="553.9" cy="163.2" rx="2.0" ry="2.0"/><ellipse cx="554.5" cy="168.5" rx="2.0" ry="2.0"/><ellipse cx="546.9" cy="166.1" rx="2.0" ry="2.0"/><ellipse cx="549.2" cy="173.7" rx="2.0" ry="2.0"/><ellipse cx="546.9" cy="172.6" rx="2.0" ry="2.0"/><ellipse cx="530.5" cy="176.6" rx="2.0" ry="2.0"/><ellipse cx="484.2" cy="159.9" rx="2.0" ry="2.0"/><ellipse cx="487.8" cy="160.7" rx="2.0" ry="2.0"/><ellipse cx="469.6" cy="168.7" rx="2.0" ry="2.0"/><ellipse cx="468.1" cy="170.9" rx="2.0" ry="2.0"/><ellipse cx="472.5" cy="172.3" rx="2.0" ry="2.0"/><ellipse cx="459.4" cy="170.1" rx="2.0" ry="2.0"/><ellipse cx="459.4" cy="184.7" rx="2.0" ry="2.0"/><ellipse cx="469.6" cy="181.1" rx="2.0" ry="2.0"/><ellipse cx="465.2" cy="185.5" rx="2.0" ry="2.0"/><ellipse cx="491.5" cy="197.2" rx="2.0" ry="2.0"/><ellipse cx="438.8" cy="199.7" rx="2.0" ry="2.0"/><ellipse cx="508.1" cy="179.3" rx="2.0" ry="2.0"/><ellipse cx="479.8" cy="189.7" rx="2.0" ry="2.0"/><ellipse cx="502.0" cy="146.3" rx="2.0" ry="2.0"/><ellipse cx="448.9" cy="192.5" rx="2.0" ry="2.0"/><ellipse cx="522.6" cy="166.4" rx="2.0" ry="2.0"/><ellipse cx="498.0" cy="168.9" rx="2.0" ry="2.0"/><ellipse cx="488.8" cy="175.8" rx="2.0" ry="2.0"/><ellipse cx="548.7" cy="152.8" rx="2.0" ry="2.0"/><ellipse cx="496.4" cy="183.3" rx="2.0" ry="2.0"/><ellipse cx="505.7" cy="153.0" rx="2.0" ry="2.0"/><ellipse cx="483.7" cy="189.2" rx="2.0" ry="2.0"/><ellipse cx="461.5" cy="197.8" rx="2.0" ry="2.0"/><ellipse cx="509.3" cy="191.4" rx="2.0" ry="2.0"/><ellipse cx="543.8" cy="136.6" rx="2.0" ry="2.0"/><ellipse cx="505.3" cy="160.3" rx="2.0" ry="2.0"/><ellipse cx="506.1" cy="180.9" rx="2.0" ry="2.0"/><ellipse cx="483.8" cy="172.1" rx="2.0" ry="2.0"/><ellipse cx="468.7" cy="182.4" rx="2.0" ry="2.0"/><ellipse cx="524.4" cy="163.9" rx="2.0" ry="2.0"/><ellipse cx="495.5" cy="177.0" rx="2.0" ry="2.0"/><ellipse cx="508.7" cy="151.0" rx="2.0" ry="2.0"/><ellipse cx="487.5" cy="161.8" rx="2.0" ry="2.0"/><ellipse cx="503.5" cy="160.1" rx="2.0" ry="2.0"/><ellipse cx="489.1" cy="192.4" rx="2.0" ry="2.0"/><ellipse cx="438.2" cy="201.0" rx="2.0" ry="2.0"/><ellipse cx="523.7" cy="169.6" rx="2.0" ry="2.0"/><ellipse cx="538.7" cy="151.7" rx="2.0" ry="2.0"/><ellipse cx="484.4" cy="185.8" rx="2.0" ry="2.0"/><ellipse cx="458.3" cy="185.0" rx="2.0" ry="2.0"/><ellipse cx="518.1" cy="164.3" rx="2.0" ry="2.0"/><ellipse cx="496.2" cy="189.0" rx="2.0" ry="2.0"/><ellipse cx="521.0" cy="161.3" rx="2.0" ry="2.0"/><ellipse cx="495.4" cy="168.2" rx="2.0" ry="2.0"/><ellipse cx="481.4" cy="188.6" rx="2.0" ry="2.0"/><ellipse cx="440.9" cy="198.0" rx="2.0" ry="2.0"/><ellipse cx="529.5" cy="143.0" rx="2.0" ry="2.0"/><ellipse cx="526.5" cy="177.5" rx="2.0" ry="2.0"/><ellipse cx="453.0" cy="196.9" rx="2.0" ry="2.0"/><ellipse cx="517.2" cy="155.1" rx="2.0" ry="2.0"/><ellipse cx="489.3" cy="151.5" rx="2.0" ry="2.0"/><ellipse cx="499.1" cy="159.3" rx="2.0" ry="2.0"/><ellipse cx="513.8" cy="168.4" rx="2.0" ry="2.0"/><ellipse cx="537.1" cy="152.3" rx="2.0" ry="2.0"/><ellipse cx="479.8" cy="200.2" rx="2.0" ry="2.0"/><ellipse cx="511.1" cy="152.7" rx="2.0" ry="2.0"/><ellipse cx="536.4" cy="159.0" rx="2.0" ry="2.0"/><ellipse cx="486.3" cy="182.3" rx="2.0" ry="2.0"/><ellipse cx="551.1" cy="154.3" rx="2.0" ry="2.0"/><ellipse cx="458.5" cy="197.3" rx="2.0" ry="2.0"/><ellipse cx="511.7" cy="160.9" rx="2.0" ry="2.0"/><ellipse cx="537.0" cy="155.7" rx="2.0" ry="2.0"/><ellipse cx="510.3" cy="185.0" rx="2.0" ry="2.0"/><ellipse cx="546.3" cy="141.8" rx="2.0" ry="2.0"/><ellipse cx="508.7" cy="155.2" rx="2.0" ry="2.0"/><ellipse cx="477.1" cy="193.7" rx="2.0" ry="2.0"/><ellipse cx="484.7" cy="194.7" rx="2.0" ry="2.0"/><ellipse cx="472.5" cy="193.7" rx="2.0" ry="2.0"/><ellipse cx="508.7" cy="160.4" rx="2.0" ry="2.0"/><ellipse cx="509.9" cy="153.5" rx="2.0" ry="2.0"/><ellipse cx="539.3" cy="165.7" rx="2.0" ry="2.0"/><ellipse cx="482.3" cy="172.0" rx="2.0" ry="2.0"/><ellipse cx="497.0" cy="186.0" rx="2.0" ry="2.0"/><ellipse cx="543.9" cy="137.7" rx="2.0" ry="2.0"/><ellipse cx="441.5" cy="198.1" rx="2.0" ry="2.0"/><ellipse cx="480.5" cy="196.4" rx="2.0" ry="2.0"/><ellipse cx="465.3" cy="193.5" rx="2.0" ry="2.0"/><ellipse cx="520.5" cy="183.9" rx="2.0" ry="2.0"/><ellipse cx="504.6" cy="182.7" rx="2.0" ry="2.0"/><ellipse cx="512.1" cy="173.7" rx="2.0" ry="2.0"/><ellipse cx="455.3" cy="198.7" rx="2.0" ry="2.0"/><ellipse cx="520.7" cy="149.9" rx="2.0" ry="2.0"/><ellipse cx="482.8" cy="189.5" rx="2.0" ry="2.0"/><ellipse cx="488.1" cy="184.0" rx="2.0" ry="2.0"/><ellipse cx="548.6" cy="144.3" rx="2.0" ry="2.0"/><ellipse cx="487.0" cy="165.7" rx="2.0" ry="2.0"/><ellipse cx="489.9" cy="176.3" rx="2.0" ry="2.0"/><ellipse cx="541.9" cy="145.0" rx="2.0" ry="2.0"/><ellipse cx="509.4" cy="184.0" rx="2.0" ry="2.0"/><ellipse cx="455.1" cy="199.8" rx="2.0" ry="2.0"/><ellipse cx="461.5" cy="189.8" rx="2.0" ry="2.0"/><ellipse cx="454.5" cy="188.0" rx="2.0" ry="2.0"/><ellipse cx="510.2" cy="160.1" rx="2.0" ry="2.0"/><ellipse cx="490.6" cy="159.1" rx="2.0" ry="2.0"/><ellipse cx="509.4" cy="182.9" rx="2.0" ry="2.0"/><ellipse cx="441.7" cy="195.2" rx="2.0" ry="2.0"/><ellipse cx="499.4" cy="179.6" rx="2.0" ry="2.0"/><ellipse cx="466.7" cy="205.9" rx="2.0" ry="2.0"/><ellipse cx="460.3" cy="195.5" rx="2.0" ry="2.0"/><ellipse cx="546.5" cy="161.1" rx="2.0" ry="2.0"/><ellipse cx="464.9" cy="183.3" rx="2.0" ry="2.0"/><ellipse cx="484.3" cy="166.2" rx="2.0" ry="2.0"/><ellipse cx="496.2" cy="164.4" rx="2.0" ry="2.0"/><ellipse cx="489.3" cy="162.9" rx="2.0" ry="2.0"/><ellipse cx="518.8" cy="147.2" rx="2.0" ry="2.0"/><ellipse cx="522.2" cy="157.8" rx="2.0" ry="2.0"/><ellipse cx="540.2" cy="166.4" rx="2.0" ry="2.0"/><ellipse cx="515.7" cy="174.8" rx="2.0" ry="2.0"/><ellipse cx="498.6" cy="166.3" rx="2.0" ry="2.0"/><ellipse cx="507.0" cy="180.9" rx="2.0" ry="2.0"/><ellipse cx="479.4" cy="180.2" rx="2.0" ry="2.0"/><ellipse cx="533.7" cy="156.3" rx="2.0" ry="2.0"/><ellipse cx="481.8" cy="169.7" rx="2.0" ry="2.0"/><ellipse cx="525.0" cy="141.1" rx="2.0" ry="2.0"/><ellipse cx="538.4" cy="154.2" rx="2.0" ry="2.0"/><ellipse cx="549.7" cy="164.9" rx="2.0" ry="2.0"/><ellipse cx="467.8" cy="199.3" rx="2.0" ry="2.0"/><ellipse cx="503.1" cy="190.0" rx="2.0" ry="2.0"/><ellipse cx="505.6" cy="170.8" rx="2.0" ry="2.0"/><ellipse cx="455.4" cy="188.0" rx="2.0" ry="2.0"/><ellipse cx="472.4" cy="195.1" rx="2.0" ry="2.0"/><ellipse cx="540.5" cy="139.1" rx="2.0" ry="2.0"/><ellipse cx="509.2" cy="156.5" rx="2.0" ry="2.0"/><ellipse cx="546.9" cy="156.6" rx="2.0" ry="2.0"/><ellipse cx="540.0" cy="139.1" rx="2.0" ry="2.0"/><ellipse cx="538.4" cy="155.0" rx="2.0" ry="2.0"/><ellipse cx="483.5" cy="193.5" rx="2.0" ry="2.0"/><ellipse cx="523.3" cy="141.0" rx="2.0" ry="2.0"/><ellipse cx="515.5" cy="180.6" rx="2.0" ry="2.0"/><ellipse cx="521.9" cy="173.1" rx="2.0" ry="2.0"/><ellipse cx="488.1" cy="161.4" rx="2.0" ry="2.0"/><ellipse cx="502.4" cy="191.8" rx="2.0" ry="2.0"/><ellipse cx="501.3" cy="155.3" rx="2.0" ry="2.0"/><ellipse cx="482.9" cy="168.3" rx="2.0" ry="2.0"/><ellipse cx="450.5" cy="197.0" rx="2.0" ry="2.0"/><ellipse cx="503.9" cy="153.9" rx="2.0" ry="2.0"/><ellipse cx="545.4" cy="166.2" rx="2.0" ry="2.0"/><ellipse cx="539.0" cy="170.0" rx="2.0" ry="2.0"/><ellipse cx="490.0" cy="182.2" rx="2.0" ry="2.0"/><ellipse cx="546.2" cy="139.7" rx="2.0" ry="2.0"/><ellipse cx="436.9" cy="197.8" rx="2.0" ry="2.0"/><ellipse cx="496.0" cy="190.9" rx="2.0" ry="2.0"/><ellipse cx="517.8" cy="144.8" rx="2.0" ry="2.0"/><ellipse cx="537.1" cy="170.0" rx="2.0" ry="2.0"/><ellipse cx="466.9" cy="183.8" rx="2.0" ry="2.0"/><ellipse cx="450.6" cy="195.6" rx="2.0" ry="2.0"/><ellipse cx="483.3" cy="199.4" rx="2.0" ry="2.0"/><ellipse cx="528.4" cy="167.7" rx="2.0" ry="2.0"/><ellipse cx="454.8" cy="189.5" rx="2.0" ry="2.0"/><ellipse cx="516.7" cy="183.8" rx="2.0" ry="2.0"/><ellipse cx="522.8" cy="173.7" rx="2.0" ry="2.0"/><ellipse cx="513.3" cy="150.3" rx="2.0" ry="2.0"/><ellipse cx="445.0" cy="195.5" rx="2.0" ry="2.0"/><ellipse cx="438.7" cy="198.2" rx="2.0" ry="2.0"/><ellipse cx="514.4" cy="151.2" rx="2.0" ry="2.0"/><ellipse cx="490.6" cy="183.9" rx="2.0" ry="2.0"/><ellipse cx="508.4" cy="156.8" rx="2.0" ry="2.0"/><ellipse cx="484.1" cy="182.7" rx="2.0" ry="2.0"/><ellipse cx="458.5" cy="180.9" rx="2.0" ry="2.0"/><ellipse cx="488.9" cy="179.4" rx="2.0" ry="2.0"/><ellipse cx="477.4" cy="183.4" rx="2.0" ry="2.0"/><ellipse cx="490.1" cy="154.2" rx="2.0" ry="2.0"/><ellipse cx="466.6" cy="195.6" rx="2.0" ry="2.0"/><ellipse cx="526.4" cy="140.6" rx="2.0" ry="2.0"/><ellipse cx="513.2" cy="177.5" rx="2.0" ry="2.0"/><ellipse cx="464.6" cy="192.9" rx="2.0" ry="2.0"/><ellipse cx="542.5" cy="140.2" rx="2.0" ry="2.0"/><ellipse cx="486.4" cy="168.6" rx="2.0" ry="2.0"/><ellipse cx="514.7" cy="153.7" rx="2.0" ry="2.0"/><ellipse cx="535.6" cy="166.2" rx="2.0" ry="2.0"/><ellipse cx="484.6" cy="189.9" rx="2.0" ry="2.0"/><ellipse cx="535.1" cy="161.6" rx="2.0" ry="2.0"/><ellipse cx="515.2" cy="172.2" rx="2.0" ry="2.0"/><ellipse cx="527.5" cy="149.9" rx="2.0" ry="2.0"/><ellipse cx="520.6" cy="160.0" rx="2.0" ry="2.0"/><ellipse cx="485.0" cy="190.4" rx="2.0" ry="2.0"/><ellipse cx="548.9" cy="147.9" rx="2.0" ry="2.0"/><ellipse cx="529.2" cy="141.5" rx="2.0" ry="2.0"/><ellipse cx="493.7" cy="156.3" rx="2.0" ry="2.0"/><ellipse cx="485.1" cy="174.4" rx="2.0" ry="2.0"/><ellipse cx="540.7" cy="134.4" rx="2.0" ry="2.0"/><ellipse cx="491.6" cy="171.9" rx="2.0" ry="2.0"/><ellipse cx="513.9" cy="172.5" rx="2.0" ry="2.0"/><ellipse cx="537.9" cy="140.4" rx="2.0" ry="2.0"/><ellipse cx="472.0" cy="195.1" rx="2.0" ry="2.0"/><ellipse cx="508.8" cy="179.5" rx="2.0" ry="2.0"/><ellipse cx="511.0" cy="160.6" rx="2.0" ry="2.0"/><ellipse cx="534.9" cy="144.1" rx="2.0" ry="2.0"/><ellipse cx="506.7" cy="142.2" rx="2.0" ry="2.0"/><ellipse cx="530.3" cy="168.5" rx="2.0" ry="2.0"/><ellipse cx="507.9" cy="188.1" rx="2.0" ry="2.0"/><ellipse cx="506.5" cy="162.4" rx="2.0" ry="2.0"/><ellipse cx="462.4" cy="197.5" rx="2.0" ry="2.0"/><ellipse cx="473.0" cy="189.5" rx="2.0" ry="2.0"/><ellipse cx="517.9" cy="166.7" rx="2.0" ry="2.0"/><ellipse cx="532.0" cy="154.7" rx="2.0" ry="2.0"/><ellipse cx="484.2" cy="179.8" rx="2.0" ry="2.0"/><ellipse cx="543.5" cy="150.3" rx="2.0" ry="2.0"/><ellipse cx="546.5" cy="156.8" rx="2.0" ry="2.0"/><ellipse cx="549.9" cy="155.4" rx="2.0" ry="2.0"/><ellipse cx="517.3" cy="151.9" rx="2.0" ry="2.0"/><ellipse cx="492.7" cy="174.3" rx="2.0" ry="2.0"/><ellipse cx="530.3" cy="148.7" rx="2.0" ry="2.0"/><ellipse cx="502.8" cy="171.5" rx="2.0" ry="2.0"/><ellipse cx="505.7" cy="174.7" rx="2.0" ry="2.0"/><ellipse cx="479.9" cy="193.5" rx="2.0" ry="2.0"/><ellipse cx="493.7" cy="172.7" rx="2.0" ry="2.0"/><ellipse cx="535.0" cy="149.2" rx="2.0" ry="2.0"/><ellipse cx="452.0" cy="195.2" rx="2.0" ry="2.0"/><ellipse cx="480.8" cy="188.2" rx="2.0" ry="2.0"/><ellipse cx="463.8" cy="186.2" rx="2.0" ry="2.0"/><ellipse cx="472.4" cy="192.6" rx="2.0" ry="2.0"/><ellipse cx="541.1" cy="145.7" rx="2.0" ry="2.0"/><ellipse cx="552.6" cy="165.9" rx="2.0" ry="2.0"/><ellipse cx="483.6" cy="172.5" rx="2.0" ry="2.0"/><ellipse cx="464.2" cy="182.4" rx="2.0" ry="2.0"/><ellipse cx="518.3" cy="186.2" rx="2.0" ry="2.0"/><ellipse cx="505.1" cy="163.8" rx="2.0" ry="2.0"/><ellipse cx="530.7" cy="152.8" rx="2.0" ry="2.0"/><ellipse cx="505.0" cy="181.4" rx="2.0" ry="2.0"/><ellipse cx="518.6" cy="177.3" rx="2.0" ry="2.0"/><ellipse cx="489.4" cy="197.4" rx="2.0" ry="2.0"/><ellipse cx="532.1" cy="140.1" rx="2.0" ry="2.0"/><ellipse cx="476.2" cy="189.9" rx="2.0" ry="2.0"/><ellipse cx="456.2" cy="186.8" rx="2.0" ry="2.0"/><ellipse cx="527.8" cy="170.2" rx="2.0" ry="2.0"/><ellipse cx="499.8" cy="199.4" rx="2.0" ry="2.0"/><ellipse cx="500.0" cy="154.5" rx="2.0" ry="2.0"/><ellipse cx="459.9" cy="199.1" rx="2.0" ry="2.0"/><ellipse cx="494.0" cy="181.2" rx="2.0" ry="2.0"/><ellipse cx="498.0" cy="186.1" rx="2.0" ry="2.0"/><ellipse cx="493.0" cy="159.7" rx="2.0" ry="2.0"/><ellipse cx="489.4" cy="187.3" rx="2.0" ry="2.0"/><ellipse cx="525.9" cy="160.3" rx="2.0" ry="2.0"/><ellipse cx="488.5" cy="195.4" rx="2.0" ry="2.0"/><ellipse cx="483.5" cy="191.3" rx="2.0" ry="2.0"/><ellipse cx="548.0" cy="144.2" rx="2.0" ry="2.0"/><ellipse cx="480.8" cy="198.2" rx="2.0" ry="2.0"/><ellipse cx="530.0" cy="151.9" rx="2.0" ry="2.0"/><ellipse cx="521.0" cy="135.5" rx="2.0" ry="2.0"/><ellipse cx="528.4" cy="172.7" rx="2.0" ry="2.0"/><ellipse cx="459.4" cy="186.6" rx="2.0" ry="2.0"/><ellipse cx="485.7" cy="172.8" rx="2.0" ry="2.0"/><ellipse cx="481.3" cy="187.8" rx="2.0" ry="2.0"/><ellipse cx="506.5" cy="192.7" rx="2.0" ry="2.0"/><ellipse cx="478.4" cy="180.6" rx="2.0" ry="2.0"/><ellipse cx="468.6" cy="180.2" rx="2.0" ry="2.0"/><ellipse cx="535.7" cy="163.0" rx="2.0" ry="2.0"/><ellipse cx="511.0" cy="156.1" rx="2.0" ry="2.0"/><ellipse cx="546.6" cy="143.7" rx="2.0" ry="2.0"/><ellipse cx="517.1" cy="182.4" rx="2.0" ry="2.0"/><ellipse cx="528.6" cy="171.1" rx="2.0" ry="2.0"/><ellipse cx="462.7" cy="184.4" rx="2.0" ry="2.0"/><ellipse cx="543.7" cy="136.2" rx="2.0" ry="2.0"/><ellipse cx="510.9" cy="191.3" rx="2.0" ry="2.0"/><ellipse cx="500.3" cy="190.4" rx="2.0" ry="2.0"/><ellipse cx="512.4" cy="172.0" rx="2.0" ry="2.0"/><ellipse cx="534.5" cy="138.5" rx="2.0" ry="2.0"/><ellipse cx="497.0" cy="159.1" rx="2.0" ry="2.0"/><ellipse cx="494.1" cy="188.9" rx="2.0" ry="2.0"/><ellipse cx="542.8" cy="156.1" rx="2.0" ry="2.0"/><ellipse cx="517.1" cy="156.1" rx="2.0" ry="2.0"/><ellipse cx="508.5" cy="170.6" rx="2.0" ry="2.0"/><ellipse cx="487.1" cy="193.9" rx="2.0" ry="2.0"/><ellipse cx="487.8" cy="186.8" rx="2.0" ry="2.0"/><ellipse cx="486.3" cy="193.7" rx="2.0" ry="2.0"/><ellipse cx="466.9" cy="196.1" rx="2.0" ry="2.0"/><ellipse cx="502.1" cy="152.4" rx="2.0" ry="2.0"/><ellipse cx="483.3" cy="174.3" rx="2.0" ry="2.0"/><ellipse cx="518.2" cy="152.3" rx="2.0" ry="2.0"/><ellipse cx="481.5" cy="175.1" rx="2.0" ry="2.0"/><ellipse cx="518.6" cy="166.8" rx="2.0" ry="2.0"/><ellipse cx="488.2" cy="174.8" rx="2.0" ry="2.0"/><ellipse cx="519.2" cy="166.7" rx="2.0" ry="2.0"/><ellipse cx="555.8" cy="161.4" rx="2.0" ry="2.0"/><ellipse cx="497.7" cy="183.9" rx="2.0" ry="2.0"/><ellipse cx="459.7" cy="191.4" rx="2.0" ry="2.0"/><ellipse cx="529.7" cy="159.8" rx="2.0" ry="2.0"/><ellipse cx="501.3" cy="191.3" rx="2.0" ry="2.0"/><ellipse cx="528.3" cy="177.0" rx="2.0" ry="2.0"/><ellipse cx="513.2" cy="169.4" rx="2.0" ry="2.0"/><ellipse cx="453.2" cy="201.9" rx="2.0" ry="2.0"/><ellipse cx="544.6" cy="163.9" rx="2.0" ry="2.0"/><ellipse cx="498.6" cy="164.2" rx="2.0" ry="2.0"/><ellipse cx="514.4" cy="183.9" rx="2.0" ry="2.0"/><ellipse cx="453.3" cy="193.9" rx="2.0" ry="2.0"/><ellipse cx="487.5" cy="161.5" rx="2.0" ry="2.0"/><ellipse cx="508.7" cy="185.8" rx="2.0" ry="2.0"/><ellipse cx="500.2" cy="180.0" rx="2.0" ry="2.0"/><ellipse cx="512.5" cy="157.3" rx="2.0" ry="2.0"/><ellipse cx="523.1" cy="143.3" rx="2.0" ry="2.0"/><ellipse cx="506.8" cy="158.3" rx="2.0" ry="2.0"/><ellipse cx="462.9" cy="194.5" rx="2.0" ry="2.0"/><ellipse cx="452.1" cy="200.7" rx="2.0" ry="2.0"/><ellipse cx="513.5" cy="173.8" rx="2.0" ry="2.0"/><ellipse cx="523.8" cy="170.6" rx="2.0" ry="2.0"/><ellipse cx="490.4" cy="188.5" rx="2.0" ry="2.0"/><ellipse cx="464.2" cy="180.6" rx="2.0" ry="2.0"/><ellipse cx="452.1" cy="196.4" rx="2.0" ry="2.0"/><ellipse cx="480.4" cy="169.4" rx="2.0" ry="2.0"/><ellipse cx="435.4" cy="200.4" rx="2.0" ry="2.0"/><ellipse cx="490.7" cy="172.1" rx="2.0" ry="2.0"/><ellipse cx="545.0" cy="168.2" rx="2.0" ry="2.0"/><ellipse cx="479.1" cy="199.4" rx="2.0" ry="2.0"/><ellipse cx="530.0" cy="138.5" rx="2.0" ry="2.0"/><ellipse cx="529.2" cy="141.2" rx="2.0" ry="2.0"/><ellipse cx="542.1" cy="138.6" rx="2.0" ry="2.0"/><ellipse cx="471.8" cy="178.1" rx="2.0" ry="2.0"/><ellipse cx="530.2" cy="147.2" rx="2.0" ry="2.0"/><ellipse cx="532.2" cy="159.0" rx="2.0" ry="2.0"/><ellipse cx="520.2" cy="149.3" rx="2.0" ry="2.0"/><ellipse cx="508.8" cy="186.0" rx="2.0" ry="2.0"/><ellipse cx="447.9" cy="193.2" rx="2.0" ry="2.0"/><ellipse cx="540.4" cy="161.5" rx="2.0" ry="2.0"/><ellipse cx="539.7" cy="146.5" rx="2.0" ry="2.0"/><ellipse cx="531.3" cy="147.1" rx="2.0" ry="2.0"/><ellipse cx="463.9" cy="203.5" rx="2.0" ry="2.0"/><ellipse cx="476.2" cy="183.4" rx="2.0" ry="2.0"/><ellipse cx="520.3" cy="144.9" rx="2.0" ry="2.0"/><ellipse cx="471.9" cy="181.1" rx="2.0" ry="2.0"/><ellipse cx="533.9" cy="142.3" rx="2.0" ry="2.0"/><ellipse cx="548.6" cy="149.1" rx="2.0" ry="2.0"/><ellipse cx="540.1" cy="144.2" rx="2.0" ry="2.0"/><ellipse cx="472.1" cy="193.9" rx="2.0" ry="2.0"/><ellipse cx="469.8" cy="195.6" rx="2.0" ry="2.0"/><ellipse cx="533.4" cy="143.6" rx="2.0" ry="2.0"/><ellipse cx="522.8" cy="172.7" rx="2.0" ry="2.0"/><ellipse cx="504.7" cy="181.2" rx="2.0" ry="2.0"/><ellipse cx="459.1" cy="202.1" rx="2.0" ry="2.0"/><ellipse cx="475.6" cy="176.5" rx="2.0" ry="2.0"/><ellipse cx="479.7" cy="196.9" rx="2.0" ry="2.0"/><ellipse cx="516.8" cy="182.0" rx="2.0" ry="2.0"/><ellipse cx="457.6" cy="194.3" rx="2.0" ry="2.0"/><ellipse cx="536.3" cy="145.9" rx="2.0" ry="2.0"/><ellipse cx="529.7" cy="161.6" rx="2.0" ry="2.0"/><ellipse cx="451.4" cy="196.8" rx="2.0" ry="2.0"/><ellipse cx="457.7" cy="188.0" rx="2.0" ry="2.0"/><ellipse cx="530.0" cy="171.4" rx="2.0" ry="2.0"/><ellipse cx="439.6" cy="199.9" rx="2.0" ry="2.0"/><ellipse cx="446.8" cy="195.9" rx="2.0" ry="2.0"/><ellipse cx="546.3" cy="147.4" rx="2.0" ry="2.0"/><ellipse cx="452.7" cy="195.0" rx="2.0" ry="2.0"/><ellipse cx="521.5" cy="169.3" rx="2.0" ry="2.0"/><ellipse cx="504.4" cy="174.3" rx="2.0" ry="2.0"/><ellipse cx="528.9" cy="151.9" rx="2.0" ry="2.0"/><ellipse cx="525.8" cy="150.4" rx="2.0" ry="2.0"/><ellipse cx="500.4" cy="191.0" rx="2.0" ry="2.0"/><ellipse cx="511.6" cy="148.0" rx="2.0" ry="2.0"/><ellipse cx="485.8" cy="166.2" rx="2.0" ry="2.0"/><ellipse cx="506.5" cy="186.7" rx="2.0" ry="2.0"/><ellipse cx="489.9" cy="175.4" rx="2.0" ry="2.0"/><ellipse cx="483.5" cy="161.9" rx="2.0" ry="2.0"/><ellipse cx="517.7" cy="168.6" rx="2.0" ry="2.0"/><ellipse cx="454.8" cy="192.5" rx="2.0" ry="2.0"/><ellipse cx="538.7" cy="169.8" rx="2.0" ry="2.0"/><ellipse cx="533.2" cy="175.2" rx="2.0" ry="2.0"/><ellipse cx="517.4" cy="160.3" rx="2.0" ry="2.0"/><ellipse cx="534.5" cy="147.0" rx="2.0" ry="2.0"/><ellipse cx="513.0" cy="159.1" rx="2.0" ry="2.0"/><ellipse cx="483.1" cy="195.5" rx="2.0" ry="2.0"/><ellipse cx="540.4" cy="167.1" rx="2.0" ry="2.0"/><ellipse cx="503.7" cy="160.1" rx="2.0" ry="2.0"/><ellipse cx="519.1" cy="145.3" rx="2.0" ry="2.0"/><ellipse cx="473.9" cy="189.9" rx="2.0" ry="2.0"/><ellipse cx="460.4" cy="191.8" rx="2.0" ry="2.0"/><ellipse cx="463.7" cy="201.1" rx="2.0" ry="2.0"/><ellipse cx="493.9" cy="177.2" rx="2.0" ry="2.0"/><ellipse cx="523.3" cy="142.3" rx="2.0" ry="2.0"/><ellipse cx="507.0" cy="177.6" rx="2.0" ry="2.0"/><ellipse cx="457.6" cy="188.5" rx="2.0" ry="2.0"/><ellipse cx="534.6" cy="151.8" rx="2.0" ry="2.0"/><ellipse cx="508.4" cy="173.2" rx="2.0" ry="2.0"/><ellipse cx="533.2" cy="160.7" rx="2.0" ry="2.0"/><ellipse cx="501.5" cy="157.4" rx="2.0" ry="2.0"/><ellipse cx="539.6" cy="170.3" rx="2.0" ry="2.0"/><ellipse cx="466.3" cy="180.8" rx="2.0" ry="2.0"/><ellipse cx="483.1" cy="202.9" rx="2.0" ry="2.0"/><ellipse cx="453.2" cy="194.2" rx="2.0" ry="2.0"/><ellipse cx="531.8" cy="164.4" rx="2.0" ry="2.0"/><ellipse cx="503.4" cy="185.4" rx="2.0" ry="2.0"/><ellipse cx="493.3" cy="157.7" rx="2.0" ry="2.0"/><ellipse cx="521.0" cy="173.0" rx="2.0" ry="2.0"/><ellipse cx="488.4" cy="158.5" rx="2.0" ry="2.0"/><ellipse cx="555.8" cy="152.8" rx="2.0" ry="2.0"/><ellipse cx="541.9" cy="140.6" rx="2.0" ry="2.0"/><ellipse cx="479.8" cy="186.6" rx="2.0" ry="2.0"/><ellipse cx="535.2" cy="170.2" rx="2.0" ry="2.0"/><ellipse cx="462.8" cy="200.5" rx="2.0" ry="2.0"/><ellipse cx="515.9" cy="166.4" rx="2.0" ry="2.0"/><ellipse cx="491.5" cy="158.3" rx="2.0" ry="2.0"/><ellipse cx="526.8" cy="153.6" rx="2.0" ry="2.0"/><ellipse cx="511.9" cy="159.1" rx="2.0" ry="2.0"/><ellipse cx="476.6" cy="207.0" rx="2.0" ry="2.0"/><ellipse cx="487.8" cy="160.8" rx="2.0" ry="2.0"/><ellipse cx="474.3" cy="188.2" rx="2.0" ry="2.0"/><ellipse cx="540.4" cy="175.4" rx="2.0" ry="2.0"/><ellipse cx="505.4" cy="183.3" rx="2.0" ry="2.0"/><ellipse cx="509.9" cy="148.3" rx="2.0" ry="2.0"/><ellipse cx="529.0" cy="165.4" rx="2.0" ry="2.0"/><ellipse cx="484.6" cy="166.1" rx="2.0" ry="2.0"/><ellipse cx="522.7" cy="176.6" rx="2.0" ry="2.0"/><ellipse cx="532.6" cy="146.3" rx="2.0" ry="2.0"/><ellipse cx="483.8" cy="149.0" rx="2.0" ry="2.0"/><ellipse cx="521.4" cy="179.3" rx="2.0" ry="2.0"/><ellipse cx="459.4" cy="197.7" rx="2.0" ry="2.0"/><ellipse cx="468.0" cy="183.9" rx="2.0" ry="2.0"/><ellipse cx="488.9" cy="160.1" rx="2.0" ry="2.0"/><ellipse cx="495.0" cy="171.0" rx="2.0" ry="2.0"/><ellipse cx="478.2" cy="173.9" rx="2.0" ry="2.0"/><ellipse cx="484.9" cy="188.8" rx="2.0" ry="2.0"/><ellipse cx="480.2" cy="196.7" rx="2.0" ry="2.0"/><ellipse cx="448.5" cy="193.9" rx="2.0" ry="2.0"/><ellipse cx="520.0" cy="176.5" rx="2.0" ry="2.0"/><ellipse cx="503.7" cy="180.7" rx="2.0" ry="2.0"/><ellipse cx="488.4" cy="167.6" rx="2.0" ry="2.0"/><ellipse cx="502.6" cy="169.1" rx="2.0" ry="2.0"/><ellipse cx="508.9" cy="174.1" rx="2.0" ry="2.0"/><ellipse cx="461.8" cy="188.1" rx="2.0" ry="2.0"/><ellipse cx="510.8" cy="154.0" rx="2.0" ry="2.0"/><ellipse cx="536.1" cy="164.7" rx="2.0" ry="2.0"/><ellipse cx="493.0" cy="189.8" rx="2.0" ry="2.0"/><ellipse cx="545.2" cy="148.0" rx="2.0" ry="2.0"/><ellipse cx="539.4" cy="159.5" rx="2.0" ry="2.0"/><ellipse cx="489.8" cy="176.2" rx="2.0" ry="2.0"/><ellipse cx="462.2" cy="187.5" rx="2.0" ry="2.0"/><ellipse cx="526.7" cy="168.3" rx="2.0" ry="2.0"/><ellipse cx="527.0" cy="148.0" rx="2.0" ry="2.0"/><ellipse cx="529.4" cy="183.5" rx="2.0" ry="2.0"/><ellipse cx="464.3" cy="186.7" rx="2.0" ry="2.0"/><ellipse cx="488.0" cy="178.4" rx="2.0" ry="2.0"/><ellipse cx="475.8" cy="186.9" rx="2.0" ry="2.0"/><ellipse cx="507.5" cy="184.5" rx="2.0" ry="2.0"/><ellipse cx="492.2" cy="190.4" rx="2.0" ry="2.0"/><ellipse cx="458.7" cy="197.5" rx="2.0" ry="2.0"/><ellipse cx="481.0" cy="162.8" rx="2.0" ry="2.0"/><ellipse cx="435.6" cy="198.0" rx="2.0" ry="2.0"/><ellipse cx="521.7" cy="173.1" rx="2.0" ry="2.0"/><ellipse cx="530.8" cy="175.3" rx="2.0" ry="2.0"/><ellipse cx="449.1" cy="190.5" rx="2.0" ry="2.0"/><ellipse cx="451.5" cy="203.4" rx="2.0" ry="2.0"/><ellipse cx="471.5" cy="202.0" rx="2.0" ry="2.0"/><ellipse cx="535.6" cy="172.7" rx="2.0" ry="2.0"/><ellipse cx="515.1" cy="163.2" rx="2.0" ry="2.0"/><ellipse cx="548.6" cy="150.2" rx="2.0" ry="2.0"/><ellipse cx="538.2" cy="169.3" rx="2.0" ry="2.0"/><ellipse cx="459.0" cy="195.6" rx="2.0" ry="2.0"/><ellipse cx="479.8" cy="192.1" rx="2.0" ry="2.0"/><ellipse cx="476.4" cy="185.8" rx="2.0" ry="2.0"/><ellipse cx="527.1" cy="177.4" rx="2.0" ry="2.0"/><ellipse cx="460.2" cy="205.9" rx="2.0" ry="2.0"/><ellipse cx="520.9" cy="148.4" rx="2.0" ry="2.0"/><ellipse cx="487.3" cy="168.6" rx="2.0" ry="2.0"/><ellipse cx="464.1" cy="185.3" rx="2.0" ry="2.0"/><ellipse cx="545.9" cy="155.3" rx="2.0" ry="2.0"/><ellipse cx="536.9" cy="169.7" rx="2.0" ry="2.0"/><ellipse cx="535.6" cy="157.2" rx="2.0" ry="2.0"/><ellipse cx="513.2" cy="151.1" rx="2.0" ry="2.0"/><ellipse cx="453.2" cy="201.0" rx="2.0" ry="2.0"/><ellipse cx="534.4" cy="172.1" rx="2.0" ry="2.0"/><ellipse cx="476.3" cy="190.4" rx="2.0" ry="2.0"/><ellipse cx="539.5" cy="162.3" rx="2.0" ry="2.0"/><ellipse cx="520.7" cy="178.7" rx="2.0" ry="2.0"/><ellipse cx="524.2" cy="144.2" rx="2.0" ry="2.0"/><ellipse cx="470.2" cy="178.2" rx="2.0" ry="2.0"/><ellipse cx="447.0" cy="196.7" rx="2.0" ry="2.0"/><ellipse cx="531.6" cy="152.0" rx="2.0" ry="2.0"/><ellipse cx="549.2" cy="150.1" rx="2.0" ry="2.0"/><ellipse cx="480.9" cy="186.2" rx="2.0" ry="2.0"/><ellipse cx="526.9" cy="171.6" rx="2.0" ry="2.0"/><ellipse cx="497.9" cy="186.7" rx="2.0" ry="2.0"/><ellipse cx="528.7" cy="170.1" rx="2.0" ry="2.0"/><ellipse cx="493.9" cy="168.4" rx="2.0" ry="2.0"/><ellipse cx="483.3" cy="179.5" rx="2.0" ry="2.0"/><ellipse cx="501.6" cy="168.1" rx="2.0" ry="2.0"/><ellipse cx="487.2" cy="166.8" rx="2.0" ry="2.0"/><ellipse cx="459.1" cy="207.4" rx="2.0" ry="2.0"/><ellipse cx="522.5" cy="171.2" rx="2.0" ry="2.0"/><ellipse cx="481.1" cy="177.0" rx="2.0" ry="2.0"/><ellipse cx="514.4" cy="144.1" rx="2.0" ry="2.0"/><ellipse cx="498.2" cy="176.9" rx="2.0" ry="2.0"/><ellipse cx="485.2" cy="198.8" rx="2.0" ry="2.0"/><ellipse cx="469.1" cy="184.3" rx="2.0" ry="2.0"/><ellipse cx="503.6" cy="159.7" rx="2.0" ry="2.0"/><ellipse cx="487.9" cy="180.9" rx="2.0" ry="2.0"/><ellipse cx="507.2" cy="185.9" rx="2.0" ry="2.0"/><ellipse cx="491.5" cy="176.2" rx="2.0" ry="2.0"/><ellipse cx="539.7" cy="142.7" rx="2.0" ry="2.0"/><ellipse cx="444.2" cy="196.8" rx="2.0" ry="2.0"/><ellipse cx="474.6" cy="181.7" rx="2.0" ry="2.0"/><ellipse cx="460.4" cy="185.6" rx="2.0" ry="2.0"/><ellipse cx="473.5" cy="182.5" rx="2.0" ry="2.0"/><ellipse cx="515.5" cy="152.7" rx="2.0" ry="2.0"/><ellipse cx="546.3" cy="149.8" rx="2.0" ry="2.0"/><ellipse cx="497.6" cy="180.6" rx="2.0" ry="2.0"/><ellipse cx="519.1" cy="154.6" rx="2.0" ry="2.0"/><ellipse cx="479.9" cy="168.0" rx="2.0" ry="2.0"/><ellipse cx="534.9" cy="176.3" rx="2.0" ry="2.0"/><ellipse cx="542.2" cy="160.5" rx="2.0" ry="2.0"/><ellipse cx="526.7" cy="148.8" rx="2.0" ry="2.0"/><ellipse cx="550.6" cy="150.6" rx="2.0" ry="2.0"/><ellipse cx="522.3" cy="154.5" rx="2.0" ry="2.0"/><ellipse cx="507.2" cy="160.8" rx="2.0" ry="2.0"/><ellipse cx="497.2" cy="176.4" rx="2.0" ry="2.0"/><ellipse cx="485.3" cy="181.8" rx="2.0" ry="2.0"/><ellipse cx="525.3" cy="143.2" rx="2.0" ry="2.0"/><ellipse cx="473.7" cy="194.8" rx="2.0" ry="2.0"/><ellipse cx="509.4" cy="182.7" rx="2.0" ry="2.0"/><ellipse cx="519.8" cy="164.9" rx="2.0" ry="2.0"/><ellipse cx="507.3" cy="181.9" rx="2.0" ry="2.0"/><ellipse cx="465.3" cy="175.4" rx="2.0" ry="2.0"/><ellipse cx="490.5" cy="157.6" rx="2.0" ry="2.0"/><ellipse cx="493.6" cy="185.1" rx="2.0" ry="2.0"/><ellipse cx="458.8" cy="178.1" rx="2.0" ry="2.0"/><ellipse cx="482.1" cy="202.1" rx="2.0" ry="2.0"/><ellipse cx="489.5" cy="160.7" rx="2.0" ry="2.0"/><ellipse cx="500.0" cy="187.4" rx="2.0" ry="2.0"/><ellipse cx="454.5" cy="192.7" rx="2.0" ry="2.0"/><ellipse cx="527.9" cy="169.8" rx="2.0" ry="2.0"/><ellipse cx="496.7" cy="176.7" rx="2.0" ry="2.0"/><ellipse cx="536.8" cy="144.9" rx="2.0" ry="2.0"/><ellipse cx="492.6" cy="168.3" rx="2.0" ry="2.0"/><ellipse cx="524.3" cy="147.8" rx="2.0" ry="2.0"/><ellipse cx="461.6" cy="191.0" rx="2.0" ry="2.0"/><ellipse cx="527.0" cy="143.3" rx="2.0" ry="2.0"/><ellipse cx="434.0" cy="200.5" rx="2.0" ry="2.0"/><ellipse cx="550.6" cy="137.4" rx="2.0" ry="2.0"/><ellipse cx="496.1" cy="191.8" rx="2.0" ry="2.0"/><ellipse cx="493.3" cy="192.9" rx="2.0" ry="2.0"/><ellipse cx="482.1" cy="169.6" rx="2.0" ry="2.0"/><ellipse cx="492.6" cy="192.5" rx="2.0" ry="2.0"/><ellipse cx="498.6" cy="160.2" rx="2.0" ry="2.0"/><ellipse cx="524.8" cy="143.6" rx="2.0" ry="2.0"/><ellipse cx="446.9" cy="194.4" rx="2.0" ry="2.0"/><ellipse cx="525.5" cy="143.6" rx="2.0" ry="2.0"/><ellipse cx="524.1" cy="151.9" rx="2.0" ry="2.0"/><ellipse cx="534.3" cy="140.5" rx="2.0" ry="2.0"/><ellipse cx="459.1" cy="184.0" rx="2.0" ry="2.0"/><ellipse cx="468.1" cy="180.1" rx="2.0" ry="2.0"/><ellipse cx="531.0" cy="176.8" rx="2.0" ry="2.0"/><ellipse cx="532.8" cy="154.2" rx="2.0" ry="2.0"/><ellipse cx="528.0" cy="151.1" rx="2.0" ry="2.0"/><ellipse cx="527.4" cy="176.5" rx="2.0" ry="2.0"/><ellipse cx="490.6" cy="170.8" rx="2.0" ry="2.0"/><ellipse cx="456.5" cy="195.0" rx="2.0" ry="2.0"/><ellipse cx="469.0" cy="210.6" rx="2.0" ry="2.0"/><ellipse cx="490.0" cy="171.7" rx="2.0" ry="2.0"/><ellipse cx="453.3" cy="201.5" rx="2.0" ry="2.0"/><ellipse cx="531.2" cy="146.9" rx="2.0" ry="2.0"/><ellipse cx="499.5" cy="188.3" rx="2.0" ry="2.0"/><ellipse cx="448.8" cy="186.3" rx="2.0" ry="2.0"/><ellipse cx="479.8" cy="195.8" rx="2.0" ry="2.0"/><ellipse cx="544.4" cy="149.8" rx="2.0" ry="2.0"/><ellipse cx="545.1" cy="152.4" rx="2.0" ry="2.0"/><ellipse cx="543.4" cy="157.8" rx="2.0" ry="2.0"/><ellipse cx="506.8" cy="150.0" rx="2.0" ry="2.0"/><ellipse cx="545.4" cy="142.7" rx="2.0" ry="2.0"/><ellipse cx="534.3" cy="141.0" rx="2.0" ry="2.0"/><ellipse cx="453.9" cy="194.1" rx="2.0" ry="2.0"/><ellipse cx="524.3" cy="151.8" rx="2.0" ry="2.0"/><ellipse cx="471.1" cy="176.2" rx="2.0" ry="2.0"/><ellipse cx="545.0" cy="143.1" rx="2.0" ry="2.0"/><ellipse cx="443.2" cy="192.6" rx="2.0" ry="2.0"/><ellipse cx="485.7" cy="186.6" rx="2.0" ry="2.0"/><ellipse cx="466.1" cy="201.6" rx="2.0" ry="2.0"/><ellipse cx="516.1" cy="159.2" rx="2.0" ry="2.0"/><ellipse cx="477.0" cy="185.7" rx="2.0" ry="2.0"/><ellipse cx="533.8" cy="154.9" rx="2.0" ry="2.0"/><ellipse cx="536.4" cy="156.1" rx="2.0" ry="2.0"/><ellipse cx="522.0" cy="134.9" rx="2.0" ry="2.0"/><ellipse cx="502.1" cy="146.3" rx="2.0" ry="2.0"/><ellipse cx="541.7" cy="165.7" rx="2.0" ry="2.0"/><ellipse cx="538.4" cy="152.9" rx="2.0" ry="2.0"/><ellipse cx="515.0" cy="184.1" rx="2.0" ry="2.0"/><ellipse cx="504.5" cy="158.0" rx="2.0" ry="2.0"/><ellipse cx="531.8" cy="174.3" rx="2.0" ry="2.0"/><ellipse cx="459.6" cy="195.2" rx="2.0" ry="2.0"/><ellipse cx="445.3" cy="200.1" rx="2.0" ry="2.0"/><ellipse cx="480.3" cy="181.7" rx="2.0" ry="2.0"/><ellipse cx="467.9" cy="193.0" rx="2.0" ry="2.0"/><ellipse cx="549.6" cy="173.0" rx="2.0" ry="2.0"/><ellipse cx="508.9" cy="157.8" rx="2.0" ry="2.0"/><ellipse cx="452.9" cy="202.3" rx="2.0" ry="2.0"/><ellipse cx="529.0" cy="155.4" rx="2.0" ry="2.0"/><ellipse cx="500.3" cy="185.4" rx="2.0" ry="2.0"/><ellipse cx="530.1" cy="140.0" rx="2.0" ry="2.0"/><ellipse cx="480.0" cy="170.6" rx="2.0" ry="2.0"/><ellipse cx="506.9" cy="169.8" rx="2.0" ry="2.0"/><ellipse cx="468.8" cy="192.1" rx="2.0" ry="2.0"/><ellipse cx="472.0" cy="196.7" rx="2.0" ry="2.0"/><ellipse cx="445.8" cy="201.5" rx="2.0" ry="2.0"/><ellipse cx="507.3" cy="164.8" rx="2.0" ry="2.0"/><ellipse cx="435.8" cy="195.4" rx="2.0" ry="2.0"/><ellipse cx="509.8" cy="155.9" rx="2.0" ry="2.0"/><ellipse cx="514.1" cy="172.9" rx="2.0" ry="2.0"/><ellipse cx="498.4" cy="163.7" rx="2.0" ry="2.0"/><ellipse cx="485.8" cy="173.6" rx="2.0" ry="2.0"/><ellipse cx="493.2" cy="187.3" rx="2.0" ry="2.0"/><ellipse cx="541.1" cy="168.7" rx="2.0" ry="2.0"/><ellipse cx="451.1" cy="194.2" rx="2.0" ry="2.0"/><ellipse cx="447.7" cy="183.8" rx="2.0" ry="2.0"/><ellipse cx="501.7" cy="192.6" rx="2.0" ry="2.0"/><ellipse cx="475.1" cy="190.0" rx="2.0" ry="2.0"/><ellipse cx="479.6" cy="189.4" rx="2.0" ry="2.0"/><ellipse cx="542.2" cy="148.1" rx="2.0" ry="2.0"/><ellipse cx="482.6" cy="174.1" rx="2.0" ry="2.0"/><ellipse cx="483.5" cy="188.0" rx="2.0" ry="2.0"/><ellipse cx="516.4" cy="147.9" rx="2.0" ry="2.0"/><ellipse cx="488.3" cy="174.6" rx="2.0" ry="2.0"/><ellipse cx="518.2" cy="178.4" rx="2.0" ry="2.0"/><ellipse cx="513.1" cy="163.9" rx="2.0" ry="2.0"/><ellipse cx="537.5" cy="144.9" rx="2.0" ry="2.0"/><ellipse cx="518.8" cy="144.4" rx="2.0" ry="2.0"/><ellipse cx="441.1" cy="201.8" rx="2.0" ry="2.0"/><ellipse cx="450.2" cy="190.0" rx="2.0" ry="2.0"/><ellipse cx="501.1" cy="165.9" rx="2.0" ry="2.0"/><ellipse cx="455.4" cy="199.8" rx="2.0" ry="2.0"/><ellipse cx="470.7" cy="199.2" rx="2.0" ry="2.0"/><ellipse cx="519.3" cy="165.6" rx="2.0" ry="2.0"/><ellipse cx="483.6" cy="169.7" rx="2.0" ry="2.0"/><ellipse cx="493.7" cy="175.7" rx="2.0" ry="2.0"/><ellipse cx="522.7" cy="168.2" rx="2.0" ry="2.0"/><ellipse cx="503.1" cy="155.2" rx="2.0" ry="2.0"/><ellipse cx="547.3" cy="159.2" rx="2.0" ry="2.0"/><ellipse cx="504.9" cy="164.9" rx="2.0" ry="2.0"/><ellipse cx="483.6" cy="195.4" rx="2.0" ry="2.0"/><ellipse cx="550.8" cy="139.9" rx="2.0" ry="2.0"/><ellipse cx="453.9" cy="187.2" rx="2.0" ry="2.0"/><ellipse cx="479.4" cy="182.8" rx="2.0" ry="2.0"/><ellipse cx="488.9" cy="166.9" rx="2.0" ry="2.0"/><ellipse cx="500.8" cy="190.4" rx="2.0" ry="2.0"/><ellipse cx="483.0" cy="191.7" rx="2.0" ry="2.0"/><ellipse cx="466.1" cy="204.7" rx="2.0" ry="2.0"/><ellipse cx="523.6" cy="148.6" rx="2.0" ry="2.0"/><ellipse cx="533.3" cy="143.2" rx="2.0" ry="2.0"/><ellipse cx="465.3" cy="199.0" rx="2.0" ry="2.0"/><ellipse cx="451.8" cy="203.6" rx="2.0" ry="2.0"/><ellipse cx="526.5" cy="170.0" rx="2.0" ry="2.0"/><ellipse cx="512.6" cy="166.7" rx="2.0" ry="2.0"/><ellipse cx="488.9" cy="172.0" rx="2.0" ry="2.0"/><ellipse cx="466.1" cy="206.0" rx="2.0" ry="2.0"/><ellipse cx="544.3" cy="139.8" rx="2.0" ry="2.0"/><ellipse cx="539.3" cy="155.0" rx="2.0" ry="2.0"/><ellipse cx="509.3" cy="170.4" rx="2.0" ry="2.0"/><ellipse cx="459.7" cy="187.7" rx="2.0" ry="2.0"/><ellipse cx="490.0" cy="191.9" rx="2.0" ry="2.0"/><ellipse cx="544.3" cy="153.0" rx="2.0" ry="2.0"/><ellipse cx="534.7" cy="148.0" rx="2.0" ry="2.0"/><ellipse cx="502.5" cy="169.7" rx="2.0" ry="2.0"/><ellipse cx="510.7" cy="174.4" rx="2.0" ry="2.0"/><ellipse cx="461.0" cy="201.1" rx="2.0" ry="2.0"/><ellipse cx="536.5" cy="163.2" rx="2.0" ry="2.0"/><ellipse cx="524.9" cy="144.1" rx="2.0" ry="2.0"/><ellipse cx="489.2" cy="160.3" rx="2.0" ry="2.0"/><ellipse cx="528.1" cy="161.8" rx="2.0" ry="2.0"/><ellipse cx="481.4" cy="179.6" rx="2.0" ry="2.0"/><ellipse cx="517.1" cy="148.7" rx="2.0" ry="2.0"/><ellipse cx="484.3" cy="154.7" rx="2.0" ry="2.0"/><ellipse cx="507.7" cy="154.8" rx="2.0" ry="2.0"/><ellipse cx="515.9" cy="173.4" rx="2.0" ry="2.0"/><ellipse cx="493.2" cy="181.0" rx="2.0" ry="2.0"/><ellipse cx="549.9" cy="141.2" rx="2.0" ry="2.0"/><ellipse cx="509.0" cy="131.9" rx="2.0" ry="2.0"/><ellipse cx="497.5" cy="177.2" rx="2.0" ry="2.0"/><ellipse cx="506.8" cy="149.8" rx="2.0" ry="2.0"/><ellipse cx="493.4" cy="171.8" rx="2.0" ry="2.0"/><ellipse cx="500.2" cy="189.4" rx="2.0" ry="2.0"/><ellipse cx="514.7" cy="144.5" rx="2.0" ry="2.0"/><ellipse cx="490.8" cy="168.5" rx="2.0" ry="2.0"/><ellipse cx="518.0" cy="175.0" rx="2.0" ry="2.0"/><ellipse cx="534.3" cy="146.4" rx="2.0" ry="2.0"/><ellipse cx="522.4" cy="155.7" rx="2.0" ry="2.0"/><ellipse cx="531.5" cy="136.5" rx="2.0" ry="2.0"/><ellipse cx="534.8" cy="170.1" rx="2.0" ry="2.0"/><ellipse cx="515.7" cy="160.3" rx="2.0" ry="2.0"/><ellipse cx="487.5" cy="167.2" rx="2.0" ry="2.0"/><ellipse cx="512.1" cy="147.3" rx="2.0" ry="2.0"/><ellipse cx="497.0" cy="148.6" rx="2.0" ry="2.0"/><ellipse cx="483.9" cy="195.0" rx="2.0" ry="2.0"/><ellipse cx="530.8" cy="154.2" rx="2.0" ry="2.0"/><ellipse cx="511.2" cy="161.8" rx="2.0" ry="2.0"/><ellipse cx="488.9" cy="185.4" rx="2.0" ry="2.0"/><ellipse cx="471.9" cy="184.8" rx="2.0" ry="2.0"/><ellipse cx="507.4" cy="172.7" rx="2.0" ry="2.0"/><ellipse cx="532.7" cy="170.3" rx="2.0" ry="2.0"/><ellipse cx="479.4" cy="195.7" rx="2.0" ry="2.0"/><ellipse cx="540.8" cy="150.9" rx="2.0" ry="2.0"/><ellipse cx="489.0" cy="189.6" rx="2.0" ry="2.0"/><ellipse cx="538.1" cy="144.9" rx="2.0" ry="2.0"/><ellipse cx="523.5" cy="169.1" rx="2.0" ry="2.0"/><ellipse cx="468.8" cy="201.1" rx="2.0" ry="2.0"/><ellipse cx="504.9" cy="153.9" rx="2.0" ry="2.0"/><ellipse cx="493.0" cy="175.8" rx="2.0" ry="2.0"/><ellipse cx="499.4" cy="164.9" rx="2.0" ry="2.0"/><ellipse cx="498.3" cy="159.6" rx="2.0" ry="2.0"/><ellipse cx="481.4" cy="184.2" rx="2.0" ry="2.0"/><ellipse cx="449.1" cy="198.8" rx="2.0" ry="2.0"/><ellipse cx="514.6" cy="156.0" rx="2.0" ry="2.0"/><ellipse cx="508.2" cy="153.2" rx="2.0" ry="2.0"/><ellipse cx="476.4" cy="191.7" rx="2.0" ry="2.0"/><ellipse cx="476.3" cy="191.2" rx="2.0" ry="2.0"/><ellipse cx="498.9" cy="188.9" rx="2.0" ry="2.0"/><ellipse cx="474.9" cy="178.4" rx="2.0" ry="2.0"/><ellipse cx="497.7" cy="169.8" rx="2.0" ry="2.0"/><ellipse cx="492.6" cy="164.6" rx="2.0" ry="2.0"/><ellipse cx="510.4" cy="164.8" rx="2.0" ry="2.0"/><ellipse cx="468.0" cy="177.6" rx="2.0" ry="2.0"/><ellipse cx="535.7" cy="144.4" rx="2.0" ry="2.0"/><ellipse cx="555.6" cy="154.6" rx="2.0" ry="2.0"/><ellipse cx="457.4" cy="205.2" rx="2.0" ry="2.0"/><ellipse cx="438.9" cy="197.7" rx="2.0" ry="2.0"/><ellipse cx="463.7" cy="190.7" rx="2.0" ry="2.0"/><ellipse cx="522.2" cy="147.3" rx="2.0" ry="2.0"/><ellipse cx="478.1" cy="187.6" rx="2.0" ry="2.0"/><ellipse cx="455.2" cy="193.2" rx="2.0" ry="2.0"/><ellipse cx="489.5" cy="170.8" rx="2.0" ry="2.0"/><ellipse cx="494.5" cy="168.4" rx="2.0" ry="2.0"/><ellipse cx="475.7" cy="181.0" rx="2.0" ry="2.0"/><ellipse cx="502.6" cy="159.0" rx="2.0" ry="2.0"/><ellipse cx="501.5" cy="179.3" rx="2.0" ry="2.0"/><ellipse cx="516.1" cy="152.4" rx="2.0" ry="2.0"/><ellipse cx="466.2" cy="203.8" rx="2.0" ry="2.0"/><ellipse cx="509.6" cy="155.2" rx="2.0" ry="2.0"/><ellipse cx="444.4" cy="210.1" rx="2.0" ry="2.0"/><ellipse cx="495.8" cy="186.8" rx="2.0" ry="2.0"/><ellipse cx="535.1" cy="137.6" rx="2.0" ry="2.0"/><ellipse cx="510.6" cy="159.9" rx="2.0" ry="2.0"/><ellipse cx="550.4" cy="154.1" rx="2.0" ry="2.0"/><ellipse cx="530.5" cy="167.1" rx="2.0" ry="2.0"/><ellipse cx="473.5" cy="192.5" rx="2.0" ry="2.0"/><ellipse cx="463.2" cy="181.0" rx="2.0" ry="2.0"/><ellipse cx="522.2" cy="176.3" rx="2.0" ry="2.0"/><ellipse cx="491.7" cy="180.6" rx="2.0" ry="2.0"/><ellipse cx="459.5" cy="188.5" rx="2.0" ry="2.0"/><ellipse cx="497.7" cy="185.9" rx="2.0" ry="2.0"/><ellipse cx="459.9" cy="187.2" rx="2.0" ry="2.0"/><ellipse cx="489.9" cy="186.0" rx="2.0" ry="2.0"/><ellipse cx="505.3" cy="188.1" rx="2.0" ry="2.0"/><ellipse cx="540.9" cy="153.6" rx="2.0" ry="2.0"/><ellipse cx="496.6" cy="192.9" rx="2.0" ry="2.0"/><ellipse cx="508.2" cy="150.1" rx="2.0" ry="2.0"/><ellipse cx="486.3" cy="163.7" rx="2.0" ry="2.0"/><ellipse cx="454.2" cy="203.9" rx="2.0" ry="2.0"/><ellipse cx="476.9" cy="189.4" rx="2.0" ry="2.0"/><ellipse cx="514.4" cy="161.4" rx="2.0" ry="2.0"/><ellipse cx="545.5" cy="157.9" rx="2.0" ry="2.0"/><ellipse cx="545.6" cy="162.5" rx="2.0" ry="2.0"/><ellipse cx="526.0" cy="169.2" rx="2.0" ry="2.0"/><ellipse cx="501.0" cy="185.2" rx="2.0" ry="2.0"/><ellipse cx="510.3" cy="144.9" rx="2.0" ry="2.0"/><ellipse cx="496.1" cy="173.7" rx="2.0" ry="2.0"/><ellipse cx="486.6" cy="171.2" rx="2.0" ry="2.0"/><ellipse cx="506.3" cy="166.1" rx="2.0" ry="2.0"/><ellipse cx="549.2" cy="159.8" rx="2.0" ry="2.0"/><ellipse cx="484.1" cy="165.8" rx="2.0" ry="2.0"/><ellipse cx="502.8" cy="159.7" rx="2.0" ry="2.0"/><ellipse cx="526.9" cy="173.8" rx="2.0" ry="2.0"/><ellipse cx="483.0" cy="186.4" rx="2.0" ry="2.0"/><ellipse cx="537.0" cy="158.9" rx="2.0" ry="2.0"/><ellipse cx="502.5" cy="188.0" rx="2.0" ry="2.0"/><ellipse cx="531.9" cy="149.5" rx="2.0" ry="2.0"/><ellipse cx="485.0" cy="168.7" rx="2.0" ry="2.0"/><ellipse cx="550.0" cy="143.8" rx="2.0" ry="2.0"/><ellipse cx="511.5" cy="178.8" rx="2.0" ry="2.0"/><ellipse cx="535.2" cy="170.4" rx="2.0" ry="2.0"/><ellipse cx="528.9" cy="138.2" rx="2.0" ry="2.0"/><ellipse cx="456.5" cy="203.7" rx="2.0" ry="2.0"/><ellipse cx="507.4" cy="149.8" rx="2.0" ry="2.0"/><ellipse cx="498.0" cy="185.0" rx="2.0" ry="2.0"/><ellipse cx="473.9" cy="184.5" rx="2.0" ry="2.0"/><ellipse cx="534.4" cy="158.7" rx="2.0" ry="2.0"/><ellipse cx="534.4" cy="136.5" rx="2.0" ry="2.0"/><ellipse cx="441.2" cy="200.1" rx="2.0" ry="2.0"/><ellipse cx="535.9" cy="162.9" rx="2.0" ry="2.0"/><ellipse cx="498.5" cy="178.6" rx="2.0" ry="2.0"/><ellipse cx="487.5" cy="190.3" rx="2.0" ry="2.0"/><ellipse cx="509.3" cy="175.1" rx="2.0" ry="2.0"/><ellipse cx="486.6" cy="172.5" rx="2.0" ry="2.0"/><ellipse cx="511.4" cy="178.7" rx="2.0" ry="2.0"/><ellipse cx="535.9" cy="142.8" rx="2.0" ry="2.0"/><ellipse cx="524.2" cy="155.3" rx="2.0" ry="2.0"/><ellipse cx="523.7" cy="140.2" rx="2.0" ry="2.0"/><ellipse cx="528.1" cy="156.6" rx="2.0" ry="2.0"/><ellipse cx="534.4" cy="157.0" rx="2.0" ry="2.0"/><ellipse cx="532.8" cy="161.3" rx="2.0" ry="2.0"/><ellipse cx="543.3" cy="142.0" rx="2.0" ry="2.0"/><ellipse cx="478.2" cy="192.9" rx="2.0" ry="2.0"/><ellipse cx="496.4" cy="174.6" rx="2.0" ry="2.0"/><ellipse cx="503.0" cy="152.4" rx="2.0" ry="2.0"/><ellipse cx="461.2" cy="184.8" rx="2.0" ry="2.0"/><ellipse cx="509.7" cy="173.7" rx="2.0" ry="2.0"/><ellipse cx="507.7" cy="172.3" rx="2.0" ry="2.0"/><ellipse cx="553.5" cy="154.0" rx="2.0" ry="2.0"/><ellipse cx="523.1" cy="174.4" rx="2.0" ry="2.0"/><ellipse cx="550.0" cy="140.0" rx="2.0" ry="2.0"/><ellipse cx="546.7" cy="157.9" rx="2.0" ry="2.0"/><ellipse cx="515.8" cy="186.1" rx="2.0" ry="2.0"/><ellipse cx="461.2" cy="182.7" rx="2.0" ry="2.0"/><ellipse cx="479.4" cy="191.4" rx="2.0" ry="2.0"/><ellipse cx="477.7" cy="178.3" rx="2.0" ry="2.0"/><ellipse cx="518.0" cy="143.6" rx="2.0" ry="2.0"/><ellipse cx="523.3" cy="156.5" rx="2.0" ry="2.0"/><ellipse cx="471.9" cy="188.2" rx="2.0" ry="2.0"/><ellipse cx="473.9" cy="182.5" rx="2.0" ry="2.0"/><ellipse cx="508.5" cy="175.6" rx="2.0" ry="2.0"/><ellipse cx="494.3" cy="186.9" rx="2.0" ry="2.0"/><ellipse cx="539.0" cy="139.1" rx="2.0" ry="2.0"/><ellipse cx="464.5" cy="201.9" rx="2.0" ry="2.0"/><ellipse cx="463.7" cy="201.7" rx="2.0" ry="2.0"/><ellipse cx="478.3" cy="196.9" rx="2.0" ry="2.0"/><ellipse cx="546.0" cy="153.9" rx="2.0" ry="2.0"/><ellipse cx="537.4" cy="139.3" rx="2.0" ry="2.0"/><ellipse cx="500.2" cy="183.8" rx="2.0" ry="2.0"/><ellipse cx="491.3" cy="183.4" rx="2.0" ry="2.0"/><ellipse cx="470.7" cy="184.1" rx="2.0" ry="2.0"/><ellipse cx="489.0" cy="180.5" rx="2.0" ry="2.0"/><ellipse cx="466.8" cy="190.8" rx="2.0" ry="2.0"/><ellipse cx="546.6" cy="150.7" rx="2.0" ry="2.0"/><ellipse cx="540.1" cy="144.9" rx="2.0" ry="2.0"/><ellipse cx="517.1" cy="188.1" rx="2.0" ry="2.0"/><ellipse cx="490.5" cy="200.6" rx="2.0" ry="2.0"/><ellipse cx="508.7" cy="176.8" rx="2.0" ry="2.0"/><ellipse cx="485.4" cy="195.0" rx="2.0" ry="2.0"/><ellipse cx="506.5" cy="165.5" rx="2.0" ry="2.0"/><ellipse cx="537.6" cy="156.6" rx="2.0" ry="2.0"/><ellipse cx="534.0" cy="153.4" rx="2.0" ry="2.0"/><ellipse cx="496.2" cy="183.1" rx="2.0" ry="2.0"/><ellipse cx="542.1" cy="161.4" rx="2.0" ry="2.0"/><ellipse cx="506.3" cy="177.5" rx="2.0" ry="2.0"/><ellipse cx="519.3" cy="154.9" rx="2.0" ry="2.0"/><ellipse cx="491.3" cy="161.8" rx="2.0" ry="2.0"/><ellipse cx="553.0" cy="164.9" rx="2.0" ry="2.0"/><ellipse cx="545.9" cy="141.0" rx="2.0" ry="2.0"/><ellipse cx="480.9" cy="187.7" rx="2.0" ry="2.0"/><ellipse cx="539.3" cy="163.5" rx="2.0" ry="2.0"/><ellipse cx="515.8" cy="152.6" rx="2.0" ry="2.0"/><ellipse cx="517.0" cy="144.1" rx="2.0" ry="2.0"/><ellipse cx="512.0" cy="183.8" rx="2.0" ry="2.0"/><ellipse cx="494.8" cy="191.0" rx="2.0" ry="2.0"/><ellipse cx="496.0" cy="172.6" rx="2.0" ry="2.0"/><ellipse cx="465.1" cy="189.9" rx="2.0" ry="2.0"/><ellipse cx="548.0" cy="160.5" rx="2.0" ry="2.0"/><ellipse cx="510.1" cy="186.0" rx="2.0" ry="2.0"/><ellipse cx="548.5" cy="147.1" rx="2.0" ry="2.0"/><ellipse cx="540.2" cy="146.0" rx="2.0" ry="2.0"/><ellipse cx="507.5" cy="158.5" rx="2.0" ry="2.0"/><ellipse cx="450.7" cy="200.5" rx="2.0" ry="2.0"/><ellipse cx="526.7" cy="159.7" rx="2.0" ry="2.0"/><ellipse cx="531.7" cy="164.8" rx="2.0" ry="2.0"/><ellipse cx="488.5" cy="155.5" rx="2.0" ry="2.0"/><ellipse cx="481.4" cy="174.7" rx="2.0" ry="2.0"/><ellipse cx="498.8" cy="185.9" rx="2.0" ry="2.0"/><ellipse cx="511.5" cy="183.6" rx="2.0" ry="2.0"/><ellipse cx="459.1" cy="203.4" rx="2.0" ry="2.0"/><ellipse cx="534.7" cy="156.4" rx="2.0" ry="2.0"/><ellipse cx="542.5" cy="141.8" rx="2.0" ry="2.0"/><ellipse cx="490.4" cy="195.2" rx="2.0" ry="2.0"/><ellipse cx="459.9" cy="192.0" rx="2.0" ry="2.0"/><ellipse cx="513.9" cy="177.2" rx="2.0" ry="2.0"/><ellipse cx="518.5" cy="172.7" rx="2.0" ry="2.0"/><ellipse cx="489.5" cy="169.8" rx="2.0" ry="2.0"/><ellipse cx="487.9" cy="167.0" rx="2.0" ry="2.0"/><ellipse cx="543.4" cy="139.8" rx="2.0" ry="2.0"/><ellipse cx="490.5" cy="180.9" rx="2.0" ry="2.0"/><ellipse cx="506.6" cy="181.8" rx="2.0" ry="2.0"/><ellipse cx="498.5" cy="184.9" rx="2.0" ry="2.0"/><ellipse cx="512.3" cy="181.9" rx="2.0" ry="2.0"/><ellipse cx="498.6" cy="157.8" rx="2.0" ry="2.0"/><ellipse cx="547.8" cy="152.0" rx="2.0" ry="2.0"/><ellipse cx="477.6" cy="198.7" rx="2.0" ry="2.0"/><ellipse cx="494.8" cy="173.5" rx="2.0" ry="2.0"/><ellipse cx="485.9" cy="184.7" rx="2.0" ry="2.0"/><ellipse cx="468.7" cy="192.2" rx="2.0" ry="2.0"/><ellipse cx="490.0" cy="184.1" rx="2.0" ry="2.0"/><ellipse cx="458.1" cy="191.8" rx="2.0" ry="2.0"/><ellipse cx="475.2" cy="201.2" rx="2.0" ry="2.0"/><ellipse cx="498.9" cy="170.3" rx="2.0" ry="2.0"/><ellipse cx="530.1" cy="163.5" rx="2.0" ry="2.0"/><ellipse cx="520.3" cy="181.1" rx="2.0" ry="2.0"/><ellipse cx="543.5" cy="166.7" rx="2.0" ry="2.0"/><ellipse cx="496.7" cy="179.7" rx="2.0" ry="2.0"/><ellipse cx="509.4" cy="173.5" rx="2.0" ry="2.0"/><ellipse cx="441.3" cy="202.8" rx="2.0" ry="2.0"/><ellipse cx="469.2" cy="201.3" rx="2.0" ry="2.0"/><ellipse cx="481.5" cy="170.2" rx="2.0" ry="2.0"/><ellipse cx="518.1" cy="146.9" rx="2.0" ry="2.0"/><ellipse cx="534.3" cy="173.3" rx="2.0" ry="2.0"/><ellipse cx="519.2" cy="172.5" rx="2.0" ry="2.0"/><ellipse cx="486.1" cy="190.4" rx="2.0" ry="2.0"/><ellipse cx="525.6" cy="145.0" rx="2.0" ry="2.0"/><ellipse cx="545.8" cy="135.7" rx="2.0" ry="2.0"/><ellipse cx="510.5" cy="175.7" rx="2.0" ry="2.0"/><ellipse cx="528.5" cy="169.7" rx="2.0" ry="2.0"/><ellipse cx="552.0" cy="154.4" rx="2.0" ry="2.0"/><ellipse cx="481.3" cy="168.7" rx="2.0" ry="2.0"/><ellipse cx="491.2" cy="190.0" rx="2.0" ry="2.0"/><ellipse cx="461.4" cy="203.1" rx="2.0" ry="2.0"/><ellipse cx="523.0" cy="152.1" rx="2.0" ry="2.0"/><ellipse cx="465.0" cy="192.8" rx="2.0" ry="2.0"/><ellipse cx="528.8" cy="153.5" rx="2.0" ry="2.0"/><ellipse cx="434.7" cy="197.2" rx="2.0" ry="2.0"/><ellipse cx="544.0" cy="152.1" rx="2.0" ry="2.0"/><ellipse cx="521.5" cy="172.2" rx="2.0" ry="2.0"/><ellipse cx="460.3" cy="203.8" rx="2.0" ry="2.0"/><ellipse cx="516.4" cy="146.5" rx="2.0" ry="2.0"/><ellipse cx="492.9" cy="157.9" rx="2.0" ry="2.0"/><ellipse cx="446.9" cy="191.3" rx="2.0" ry="2.0"/><ellipse cx="531.8" cy="176.4" rx="2.0" ry="2.0"/><ellipse cx="456.9" cy="187.3" rx="2.0" ry="2.0"/><ellipse cx="469.4" cy="180.7" rx="2.0" ry="2.0"/><ellipse cx="511.4" cy="175.7" rx="2.0" ry="2.0"/><ellipse cx="518.2" cy="161.7" rx="2.0" ry="2.0"/><ellipse cx="486.6" cy="191.6" rx="2.0" ry="2.0"/><ellipse cx="494.2" cy="189.6" rx="2.0" ry="2.0"/><ellipse cx="545.7" cy="142.2" rx="2.0" ry="2.0"/><ellipse cx="505.3" cy="179.3" rx="2.0" ry="2.0"/><ellipse cx="463.4" cy="195.8" rx="2.0" ry="2.0"/><ellipse cx="538.1" cy="155.1" rx="2.0" ry="2.0"/><ellipse cx="492.1" cy="175.5" rx="2.0" ry="2.0"/><ellipse cx="452.5" cy="202.1" rx="2.0" ry="2.0"/><ellipse cx="470.2" cy="202.6" rx="2.0" ry="2.0"/><ellipse cx="490.0" cy="200.3" rx="2.0" ry="2.0"/><ellipse cx="499.8" cy="158.4" rx="2.0" ry="2.0"/><ellipse cx="552.1" cy="161.8" rx="2.0" ry="2.0"/><ellipse cx="474.0" cy="192.7" rx="2.0" ry="2.0"/><ellipse cx="512.8" cy="161.7" rx="2.0" ry="2.0"/><ellipse cx="510.1" cy="147.7" rx="2.0" ry="2.0"/><ellipse cx="497.7" cy="169.4" rx="2.0" ry="2.0"/><ellipse cx="522.3" cy="167.3" rx="2.0" ry="2.0"/><ellipse cx="534.6" cy="140.9" rx="2.0" ry="2.0"/><ellipse cx="544.0" cy="154.0" rx="2.0" ry="2.0"/><ellipse cx="458.5" cy="199.2" rx="2.0" ry="2.0"/><ellipse cx="490.5" cy="203.3" rx="2.0" ry="2.0"/><ellipse cx="458.2" cy="196.4" rx="2.0" ry="2.0"/><ellipse cx="506.1" cy="168.5" rx="2.0" ry="2.0"/><ellipse cx="540.3" cy="170.1" rx="2.0" ry="2.0"/><ellipse cx="498.5" cy="191.6" rx="2.0" ry="2.0"/><ellipse cx="529.2" cy="174.6" rx="2.0" ry="2.0"/><ellipse cx="498.6" cy="164.7" rx="2.0" ry="2.0"/><ellipse cx="497.2" cy="158.1" rx="2.0" ry="2.0"/><ellipse cx="510.4" cy="184.2" rx="2.0" ry="2.0"/><ellipse cx="490.2" cy="160.5" rx="2.0" ry="2.0"/><ellipse cx="508.3" cy="169.4" rx="2.0" ry="2.0"/><ellipse cx="528.5" cy="143.8" rx="2.0" ry="2.0"/><ellipse cx="526.0" cy="144.3" rx="2.0" ry="2.0"/><ellipse cx="520.6" cy="147.7" rx="2.0" ry="2.0"/><ellipse cx="500.6" cy="179.6" rx="2.0" ry="2.0"/><ellipse cx="523.5" cy="151.3" rx="2.0" ry="2.0"/><ellipse cx="457.7" cy="184.9" rx="2.0" ry="2.0"/><ellipse cx="507.3" cy="160.7" rx="2.0" ry="2.0"/><ellipse cx="500.3" cy="178.6" rx="2.0" ry="2.0"/><ellipse cx="532.1" cy="142.4" rx="2.0" ry="2.0"/><ellipse cx="471.9" cy="176.8" rx="2.0" ry="2.0"/><ellipse cx="504.8" cy="184.8" rx="2.0" ry="2.0"/><ellipse cx="487.0" cy="190.6" rx="2.0" ry="2.0"/><ellipse cx="511.9" cy="164.9" rx="2.0" ry="2.0"/><ellipse cx="521.7" cy="155.3" rx="2.0" ry="2.0"/><ellipse cx="495.7" cy="163.3" rx="2.0" ry="2.0"/><ellipse cx="452.8" cy="191.3" rx="2.0" ry="2.0"/><ellipse cx="505.9" cy="185.3" rx="2.0" ry="2.0"/><ellipse cx="529.3" cy="149.6" rx="2.0" ry="2.0"/><ellipse cx="507.0" cy="166.9" rx="2.0" ry="2.0"/><ellipse cx="501.6" cy="162.3" rx="2.0" ry="2.0"/><ellipse cx="506.7" cy="170.9" rx="2.0" ry="2.0"/><ellipse cx="518.2" cy="180.5" rx="2.0" ry="2.0"/><ellipse cx="449.8" cy="190.7" rx="2.0" ry="2.0"/><ellipse cx="515.7" cy="180.1" rx="2.0" ry="2.0"/><ellipse cx="545.4" cy="167.8" rx="2.0" ry="2.0"/><ellipse cx="452.1" cy="207.0" rx="2.0" ry="2.0"/></g>
<line x1="370.1" y1="244.3" x2="668.2" y2="46.6" stroke="#ff8a25" stroke-width="1.1"/>
<line x1="356.0" y1="0.6" x2="684.3" y2="0.6" stroke="#808080" stroke-width="1.3"/>
<line x1="356.0" y1="256.2" x2="684.3" y2="256.2" stroke="#4a4a4a" stroke-width="1.1"/>
<line x1="356.5" y1="0.6" x2="356.5" y2="256.2" stroke="#a0a0a0" stroke-width="1.0"/>
<line x1="683.8" y1="0.6" x2="683.8" y2="256.2" stroke="#b0b0b0" stroke-width="1.0"/>
<line x1="220.06" y1="560.60" x2="220.06" y2="562.80" stroke="#333" stroke-width="0.8"/>
<line x1="256.22" y1="560.60" x2="256.22" y2="562.80" stroke="#333" stroke-width="0.8"/>
<line x1="292.38" y1="560.60" x2="292.38" y2="562.80" stroke="#333" stroke-width="0.8"/>
<line x1="328.54" y1="560.60" x2="328.54" y2="562.80" stroke="#333" stroke-width="0.8"/>
<line x1="364.70" y1="560.60" x2="364.70" y2="562.80" stroke="#333" stroke-width="0.8"/>
<line x1="400.86" y1="560.60" x2="400.86" y2="562.80" stroke="#333" stroke-width="0.8"/>
<line x1="437.02" y1="560.60" x2="437.02" y2="562.80" stroke="#333" stroke-width="0.8"/>
<line x1="473.18" y1="560.60" x2="473.18" y2="562.80" stroke="#333" stroke-width="0.8"/>
<line x1="189.30" y1="534.12" x2="191.50" y2="534.12" stroke="#333" stroke-width="0.8"/>
<line x1="189.30" y1="503.45" x2="191.50" y2="503.45" stroke="#333" stroke-width="0.8"/>
<line x1="189.30" y1="472.77" x2="191.50" y2="472.77" stroke="#333" stroke-width="0.8"/>
<line x1="189.30" y1="442.10" x2="191.50" y2="442.10" stroke="#333" stroke-width="0.8"/>
<line x1="189.30" y1="411.42" x2="191.50" y2="411.42" stroke="#333" stroke-width="0.8"/>
<line x1="189.30" y1="380.75" x2="191.50" y2="380.75" stroke="#333" stroke-width="0.8"/>
<line x1="189.30" y1="350.07" x2="191.50" y2="350.07" stroke="#333" stroke-width="0.8"/>
<line x1="189.30" y1="319.40" x2="191.50" y2="319.40" stroke="#333" stroke-width="0.8"/>
<g fill="#1f77b4"><ellipse cx="207.8" cy="362.2" rx="2.1" ry="1.8"/><ellipse cx="378.1" cy="344.3" rx="2.1" ry="1.8"/><ellipse cx="374.0" cy="351.2" rx="2.1" ry="1.8"/><ellipse cx="339.9" cy="364.4" rx="2.1" ry="1.8"/><ellipse cx="366.1" cy="367.3" rx="2.1" ry="1.8"/><ellipse cx="366.8" cy="371.8" rx="2.1" ry="1.8"/><ellipse cx="370.7" cy="375.9" rx="2.1" ry="1.8"/><ellipse cx="323.4" cy="375.9" rx="2.1" ry="1.8"/><ellipse cx="374.0" cy="392.0" rx="2.1" ry="1.8"/><ellipse cx="374.0" cy="397.0" rx="2.1" ry="1.8"/><ellipse cx="343.9" cy="396.0" rx="2.1" ry="1.8"/><ellipse cx="321.3" cy="406.9" rx="2.1" ry="1.8"/><ellipse cx="349.0" cy="409.3" rx="2.1" ry="1.8"/><ellipse cx="364.1" cy="408.5" rx="2.1" ry="1.8"/><ellipse cx="424.2" cy="324.5" rx="2.1" ry="1.8"/><ellipse cx="450.0" cy="343.4" rx="2.1" ry="1.8"/><ellipse cx="409.3" cy="357.3" rx="2.1" ry="1.8"/><ellipse cx="411.8" cy="355.8" rx="2.1" ry="1.8"/><ellipse cx="396.1" cy="366.0" rx="2.1" ry="1.8"/><ellipse cx="448.0" cy="363.0" rx="2.1" ry="1.8"/><ellipse cx="466.0" cy="371.0" rx="2.1" ry="1.8"/><ellipse cx="424.2" cy="373.6" rx="2.1" ry="1.8"/><ellipse cx="397.0" cy="382.0" rx="2.1" ry="1.8"/><ellipse cx="426.6" cy="391.1" rx="2.1" ry="1.8"/><ellipse cx="452.5" cy="395.7" rx="2.1" ry="1.8"/><ellipse cx="407.7" cy="405.6" rx="2.1" ry="1.8"/><ellipse cx="391.5" cy="409.3" rx="2.1" ry="1.8"/><ellipse cx="406.4" cy="409.3" rx="2.1" ry="1.8"/><ellipse cx="418.7" cy="408.8" rx="2.1" ry="1.8"/><ellipse cx="493.6" cy="349.9" rx="2.1" ry="1.8"/><ellipse cx="492.5" cy="362.1" rx="2.1" ry="1.8"/><ellipse cx="494.8" cy="387.7" rx="2.1" ry="1.8"/><ellipse cx="443.6" cy="413.5" rx="2.1" ry="1.8"/><ellipse cx="431.3" cy="419.1" rx="2.1" ry="1.8"/><ellipse cx="273.2" cy="429.3" rx="2.1" ry="1.8"/><ellipse cx="206.0" cy="457.3" rx="2.1" ry="1.8"/><ellipse cx="258.0" cy="455.7" rx="2.1" ry="1.8"/><ellipse cx="284.7" cy="455.2" rx="2.1" ry="1.8"/><ellipse cx="240.7" cy="464.6" rx="2.1" ry="1.8"/><ellipse cx="288.0" cy="464.6" rx="2.1" ry="1.8"/><ellipse cx="210.1" cy="469.7" rx="2.1" ry="1.8"/><ellipse cx="217.7" cy="475.5" rx="2.1" ry="1.8"/><ellipse cx="275.7" cy="481.1" rx="2.1" ry="1.8"/><ellipse cx="282.6" cy="481.9" rx="2.1" ry="1.8"/><ellipse cx="243.9" cy="483.5" rx="2.1" ry="1.8"/><ellipse cx="254.6" cy="485.2" rx="2.1" ry="1.8"/><ellipse cx="214.2" cy="486.8" rx="2.1" ry="1.8"/><ellipse cx="216.4" cy="490.3" rx="2.1" ry="1.8"/><ellipse cx="217.2" cy="491.8" rx="2.1" ry="1.8"/><ellipse cx="237.3" cy="489.3" rx="2.1" ry="1.8"/><ellipse cx="280.3" cy="486.8" rx="2.1" ry="1.8"/><ellipse cx="279.8" cy="491.4" rx="2.1" ry="1.8"/><ellipse cx="284.7" cy="490.6" rx="2.1" ry="1.8"/><ellipse cx="267.4" cy="491.4" rx="2.1" ry="1.8"/><ellipse cx="269.1" cy="493.9" rx="2.1" ry="1.8"/><ellipse cx="221.3" cy="494.2" rx="2.1" ry="1.8"/><ellipse cx="225.9" cy="496.0" rx="2.1" ry="1.8"/><ellipse cx="233.7" cy="498.8" rx="2.1" ry="1.8"/><ellipse cx="277.3" cy="495.6" rx="2.1" ry="1.8"/><ellipse cx="275.7" cy="498.8" rx="2.1" ry="1.8"/><ellipse cx="343.4" cy="414.0" rx="2.1" ry="1.8"/><ellipse cx="347.9" cy="416.8" rx="2.1" ry="1.8"/><ellipse cx="377.2" cy="412.4" rx="2.1" ry="1.8"/><ellipse cx="374.7" cy="415.7" rx="2.1" ry="1.8"/><ellipse cx="334.4" cy="422.2" rx="2.1" ry="1.8"/><ellipse cx="346.7" cy="424.4" rx="2.1" ry="1.8"/><ellipse cx="353.3" cy="425.0" rx="2.1" ry="1.8"/><ellipse cx="358.3" cy="424.7" rx="2.1" ry="1.8"/><ellipse cx="359.1" cy="421.4" rx="2.1" ry="1.8"/><ellipse cx="365.7" cy="421.4" rx="2.1" ry="1.8"/><ellipse cx="367.3" cy="420.6" rx="2.1" ry="1.8"/><ellipse cx="369.8" cy="425.5" rx="2.1" ry="1.8"/><ellipse cx="374.7" cy="424.7" rx="2.1" ry="1.8"/><ellipse cx="378.0" cy="427.2" rx="2.1" ry="1.8"/><ellipse cx="329.1" cy="429.3" rx="2.1" ry="1.8"/><ellipse cx="330.2" cy="433.0" rx="2.1" ry="1.8"/><ellipse cx="340.6" cy="429.7" rx="2.1" ry="1.8"/><ellipse cx="339.3" cy="431.3" rx="2.1" ry="1.8"/><ellipse cx="311.3" cy="433.8" rx="2.1" ry="1.8"/><ellipse cx="323.3" cy="438.4" rx="2.1" ry="1.8"/><ellipse cx="344.3" cy="435.4" rx="2.1" ry="1.8"/><ellipse cx="347.5" cy="433.8" rx="2.1" ry="1.8"/><ellipse cx="350.0" cy="435.4" rx="2.1" ry="1.8"/><ellipse cx="362.4" cy="429.7" rx="2.1" ry="1.8"/><ellipse cx="365.7" cy="430.5" rx="2.1" ry="1.8"/><ellipse cx="297.3" cy="449.8" rx="2.1" ry="1.8"/><ellipse cx="313.0" cy="453.0" rx="2.1" ry="1.8"/><ellipse cx="292.4" cy="465.9" rx="2.1" ry="1.8"/><ellipse cx="296.5" cy="465.1" rx="2.1" ry="1.8"/><ellipse cx="298.1" cy="462.6" rx="2.1" ry="1.8"/><ellipse cx="291.5" cy="472.5" rx="2.1" ry="1.8"/><ellipse cx="296.5" cy="473.3" rx="2.1" ry="1.8"/><ellipse cx="282.5" cy="490.6" rx="2.1" ry="1.8"/><ellipse cx="373.9" cy="483.2" rx="2.1" ry="1.8"/><ellipse cx="369.8" cy="473.3" rx="2.1" ry="1.8"/><ellipse cx="370.6" cy="469.2" rx="2.1" ry="1.8"/><ellipse cx="368.1" cy="480.7" rx="2.1" ry="1.8"/><ellipse cx="351.7" cy="493.9" rx="2.1" ry="1.8"/><ellipse cx="355.0" cy="490.3" rx="2.1" ry="1.8"/><ellipse cx="342.6" cy="498.0" rx="2.1" ry="1.8"/><ellipse cx="402.2" cy="413.5" rx="2.1" ry="1.8"/><ellipse cx="412.6" cy="417.3" rx="2.1" ry="1.8"/><ellipse cx="409.9" cy="420.6" rx="2.1" ry="1.8"/><ellipse cx="382.1" cy="425.0" rx="2.1" ry="1.8"/><ellipse cx="376.6" cy="425.5" rx="2.1" ry="1.8"/><ellipse cx="395.6" cy="427.7" rx="2.1" ry="1.8"/><ellipse cx="436.8" cy="428.0" rx="2.1" ry="1.8"/><ellipse cx="385.7" cy="430.5" rx="2.1" ry="1.8"/><ellipse cx="388.2" cy="431.0" rx="2.1" ry="1.8"/><ellipse cx="412.9" cy="429.7" rx="2.1" ry="1.8"/><ellipse cx="421.6" cy="432.6" rx="2.1" ry="1.8"/><ellipse cx="424.1" cy="436.7" rx="2.1" ry="1.8"/><ellipse cx="405.5" cy="433.8" rx="2.1" ry="1.8"/><ellipse cx="392.3" cy="435.4" rx="2.1" ry="1.8"/><ellipse cx="395.6" cy="435.9" rx="2.1" ry="1.8"/><ellipse cx="398.1" cy="433.8" rx="2.1" ry="1.8"/><ellipse cx="400.5" cy="434.6" rx="2.1" ry="1.8"/><ellipse cx="402.2" cy="437.1" rx="2.1" ry="1.8"/><ellipse cx="403.8" cy="439.5" rx="2.1" ry="1.8"/><ellipse cx="377.5" cy="436.6" rx="2.1" ry="1.8"/><ellipse cx="376.6" cy="439.5" rx="2.1" ry="1.8"/><ellipse cx="387.4" cy="438.7" rx="2.1" ry="1.8"/><ellipse cx="390.7" cy="440.4" rx="2.1" ry="1.8"/><ellipse cx="392.3" cy="439.5" rx="2.1" ry="1.8"/><ellipse cx="408.4" cy="441.2" rx="2.1" ry="1.8"/><ellipse cx="418.2" cy="442.0" rx="2.1" ry="1.8"/><ellipse cx="426.6" cy="443.7" rx="2.1" ry="1.8"/><ellipse cx="382.4" cy="442.8" rx="2.1" ry="1.8"/><ellipse cx="384.9" cy="443.7" rx="2.1" ry="1.8"/><ellipse cx="388.2" cy="444.5" rx="2.1" ry="1.8"/><ellipse cx="383.2" cy="446.1" rx="2.1" ry="1.8"/><ellipse cx="400.9" cy="443.7" rx="2.1" ry="1.8"/><ellipse cx="380.8" cy="447.0" rx="2.1" ry="1.8"/><ellipse cx="383.2" cy="448.6" rx="2.1" ry="1.8"/><ellipse cx="389.8" cy="447.0" rx="2.1" ry="1.8"/><ellipse cx="392.3" cy="446.1" rx="2.1" ry="1.8"/><ellipse cx="387.4" cy="449.4" rx="2.1" ry="1.8"/><ellipse cx="397.6" cy="450.7" rx="2.1" ry="1.8"/><ellipse cx="423.1" cy="451.9" rx="2.1" ry="1.8"/><ellipse cx="423.1" cy="454.9" rx="2.1" ry="1.8"/><ellipse cx="375.0" cy="447.8" rx="2.1" ry="1.8"/><ellipse cx="375.8" cy="454.4" rx="2.1" ry="1.8"/><ellipse cx="381.6" cy="456.0" rx="2.1" ry="1.8"/><ellipse cx="384.1" cy="458.5" rx="2.1" ry="1.8"/><ellipse cx="385.7" cy="458.0" rx="2.1" ry="1.8"/><ellipse cx="393.1" cy="454.4" rx="2.1" ry="1.8"/><ellipse cx="398.6" cy="459.3" rx="2.1" ry="1.8"/><ellipse cx="402.2" cy="462.6" rx="2.1" ry="1.8"/><ellipse cx="398.9" cy="465.9" rx="2.1" ry="1.8"/><ellipse cx="401.4" cy="466.4" rx="2.1" ry="1.8"/><ellipse cx="377.5" cy="460.6" rx="2.1" ry="1.8"/><ellipse cx="386.5" cy="464.6" rx="2.1" ry="1.8"/><ellipse cx="392.3" cy="472.0" rx="2.1" ry="1.8"/><ellipse cx="382.7" cy="474.5" rx="2.1" ry="1.8"/><ellipse cx="383.2" cy="486.8" rx="2.1" ry="1.8"/><ellipse cx="234.6" cy="501.6" rx="2.1" ry="1.8"/><ellipse cx="236.6" cy="501.4" rx="2.1" ry="1.8"/><ellipse cx="257.9" cy="504.0" rx="2.1" ry="1.8"/><ellipse cx="298.5" cy="472.6" rx="2.1" ry="1.8"/><ellipse cx="261.6" cy="513.2" rx="2.1" ry="1.8"/><ellipse cx="261.6" cy="517.4" rx="2.1" ry="1.8"/><ellipse cx="265.6" cy="519.4" rx="2.1" ry="1.8"/><ellipse cx="255.0" cy="520.7" rx="2.1" ry="1.8"/><ellipse cx="257.7" cy="522.1" rx="2.1" ry="1.8"/><ellipse cx="258.3" cy="524.0" rx="2.1" ry="1.8"/><ellipse cx="255.7" cy="527.3" rx="2.1" ry="1.8"/><ellipse cx="269.3" cy="522.5" rx="2.1" ry="1.8"/><ellipse cx="272.2" cy="518.8" rx="2.1" ry="1.8"/><ellipse cx="294.2" cy="517.4" rx="2.1" ry="1.8"/><ellipse cx="303.8" cy="514.8" rx="2.1" ry="1.8"/><ellipse cx="286.0" cy="515.5" rx="2.1" ry="1.8"/><ellipse cx="373.1" cy="466.5" rx="2.1" ry="1.8"/><ellipse cx="373.8" cy="463.2" rx="2.1" ry="1.8"/><ellipse cx="367.2" cy="463.8" rx="2.1" ry="1.8"/><ellipse cx="368.5" cy="460.5" rx="2.1" ry="1.8"/><ellipse cx="365.9" cy="456.6" rx="2.1" ry="1.8"/><ellipse cx="375.8" cy="459.9" rx="2.1" ry="1.8"/><ellipse cx="335.8" cy="500.3" rx="2.1" ry="1.8"/><ellipse cx="332.3" cy="506.9" rx="2.1" ry="1.8"/><ellipse cx="328.7" cy="495.9" rx="2.1" ry="1.8"/><ellipse cx="323.1" cy="510.4" rx="2.1" ry="1.8"/><ellipse cx="314.5" cy="506.9" rx="2.1" ry="1.8"/><ellipse cx="375.1" cy="502.7" rx="2.1" ry="1.8"/><ellipse cx="354.9" cy="423.4" rx="2.1" ry="1.8"/><ellipse cx="368.9" cy="427.5" rx="2.1" ry="1.8"/><ellipse cx="345.5" cy="433.4" rx="2.1" ry="1.8"/><ellipse cx="346.7" cy="436.3" rx="2.1" ry="1.8"/><ellipse cx="359.6" cy="437.4" rx="2.1" ry="1.8"/><ellipse cx="361.9" cy="439.2" rx="2.1" ry="1.8"/><ellipse cx="363.7" cy="436.3" rx="2.1" ry="1.8"/><ellipse cx="365.4" cy="435.1" rx="2.1" ry="1.8"/><ellipse cx="367.7" cy="433.4" rx="2.1" ry="1.8"/><ellipse cx="374.7" cy="441.5" rx="2.1" ry="1.8"/><ellipse cx="333.9" cy="439.8" rx="2.1" ry="1.8"/><ellipse cx="336.2" cy="441.0" rx="2.1" ry="1.8"/><ellipse cx="339.7" cy="441.0" rx="2.1" ry="1.8"/><ellipse cx="332.7" cy="442.7" rx="2.1" ry="1.8"/><ellipse cx="347.9" cy="442.1" rx="2.1" ry="1.8"/><ellipse cx="351.4" cy="442.7" rx="2.1" ry="1.8"/><ellipse cx="353.7" cy="441.5" rx="2.1" ry="1.8"/><ellipse cx="357.2" cy="441.5" rx="2.1" ry="1.8"/><ellipse cx="358.4" cy="443.3" rx="2.1" ry="1.8"/><ellipse cx="360.7" cy="442.1" rx="2.1" ry="1.8"/><ellipse cx="366.6" cy="443.3" rx="2.1" ry="1.8"/><ellipse cx="370.1" cy="441.5" rx="2.1" ry="1.8"/><ellipse cx="372.4" cy="443.3" rx="2.1" ry="1.8"/><ellipse cx="371.2" cy="446.2" rx="2.1" ry="1.8"/><ellipse cx="379.4" cy="446.2" rx="2.1" ry="1.8"/><ellipse cx="327.4" cy="446.8" rx="2.1" ry="1.8"/><ellipse cx="330.4" cy="448.5" rx="2.1" ry="1.8"/><ellipse cx="335.0" cy="447.4" rx="2.1" ry="1.8"/><ellipse cx="337.4" cy="445.6" rx="2.1" ry="1.8"/><ellipse cx="340.9" cy="445.0" rx="2.1" ry="1.8"/><ellipse cx="344.4" cy="447.4" rx="2.1" ry="1.8"/><ellipse cx="349.1" cy="446.2" rx="2.1" ry="1.8"/><ellipse cx="321.6" cy="448.5" rx="2.1" ry="1.8"/><ellipse cx="322.2" cy="452.0" rx="2.1" ry="1.8"/><ellipse cx="370.1" cy="450.3" rx="2.1" ry="1.8"/><ellipse cx="373.6" cy="452.0" rx="2.1" ry="1.8"/><ellipse cx="314.6" cy="461.4" rx="2.1" ry="1.8"/><ellipse cx="317.5" cy="456.7" rx="2.1" ry="1.8"/><ellipse cx="319.9" cy="455.5" rx="2.1" ry="1.8"/><ellipse cx="370.1" cy="461.4" rx="2.1" ry="1.8"/><ellipse cx="265.2" cy="521.4" rx="2.1" ry="1.8"/><ellipse cx="374.1" cy="464.9" rx="2.1" ry="1.8"/><ellipse cx="298.8" cy="482.3" rx="2.1" ry="1.8"/><ellipse cx="311.5" cy="486.7" rx="2.1" ry="1.8"/><ellipse cx="336.1" cy="446.8" rx="2.1" ry="1.8"/><ellipse cx="356.4" cy="461.2" rx="2.1" ry="1.8"/><ellipse cx="356.3" cy="477.3" rx="2.1" ry="1.8"/><ellipse cx="332.7" cy="464.3" rx="2.1" ry="1.8"/><ellipse cx="304.9" cy="479.5" rx="2.1" ry="1.8"/><ellipse cx="313.0" cy="468.0" rx="2.1" ry="1.8"/><ellipse cx="332.2" cy="485.2" rx="2.1" ry="1.8"/><ellipse cx="291.7" cy="505.7" rx="2.1" ry="1.8"/><ellipse cx="344.5" cy="457.6" rx="2.1" ry="1.8"/><ellipse cx="315.2" cy="487.2" rx="2.1" ry="1.8"/><ellipse cx="312.3" cy="476.1" rx="2.1" ry="1.8"/><ellipse cx="325.9" cy="489.6" rx="2.1" ry="1.8"/><ellipse cx="333.2" cy="483.4" rx="2.1" ry="1.8"/><ellipse cx="317.4" cy="495.3" rx="2.1" ry="1.8"/><ellipse cx="326.0" cy="482.6" rx="2.1" ry="1.8"/><ellipse cx="341.2" cy="468.1" rx="2.1" ry="1.8"/><ellipse cx="343.9" cy="496.6" rx="2.1" ry="1.8"/><ellipse cx="300.1" cy="475.8" rx="2.1" ry="1.8"/><ellipse cx="332.9" cy="465.7" rx="2.1" ry="1.8"/><ellipse cx="310.9" cy="465.1" rx="2.1" ry="1.8"/><ellipse cx="333.2" cy="464.2" rx="2.1" ry="1.8"/><ellipse cx="312.2" cy="499.1" rx="2.1" ry="1.8"/><ellipse cx="308.0" cy="503.7" rx="2.1" ry="1.8"/><ellipse cx="308.3" cy="490.1" rx="2.1" ry="1.8"/><ellipse cx="361.0" cy="475.4" rx="2.1" ry="1.8"/><ellipse cx="294.3" cy="501.7" rx="2.1" ry="1.8"/><ellipse cx="356.5" cy="455.6" rx="2.1" ry="1.8"/><ellipse cx="302.7" cy="501.7" rx="2.1" ry="1.8"/><ellipse cx="316.3" cy="472.3" rx="2.1" ry="1.8"/><ellipse cx="364.4" cy="453.5" rx="2.1" ry="1.8"/><ellipse cx="297.3" cy="497.2" rx="2.1" ry="1.8"/><ellipse cx="303.7" cy="467.2" rx="2.1" ry="1.8"/><ellipse cx="362.4" cy="484.7" rx="2.1" ry="1.8"/><ellipse cx="347.5" cy="454.7" rx="2.1" ry="1.8"/><ellipse cx="304.8" cy="491.1" rx="2.1" ry="1.8"/><ellipse cx="326.4" cy="472.6" rx="2.1" ry="1.8"/><ellipse cx="300.2" cy="505.8" rx="2.1" ry="1.8"/><ellipse cx="351.1" cy="468.0" rx="2.1" ry="1.8"/><ellipse cx="294.9" cy="481.6" rx="2.1" ry="1.8"/><ellipse cx="354.4" cy="454.7" rx="2.1" ry="1.8"/><ellipse cx="301.8" cy="481.0" rx="2.1" ry="1.8"/><ellipse cx="316.6" cy="477.0" rx="2.1" ry="1.8"/><ellipse cx="324.2" cy="465.4" rx="2.1" ry="1.8"/><ellipse cx="306.2" cy="468.0" rx="2.1" ry="1.8"/><ellipse cx="338.1" cy="485.4" rx="2.1" ry="1.8"/><ellipse cx="311.8" cy="486.7" rx="2.1" ry="1.8"/><ellipse cx="351.1" cy="470.1" rx="2.1" ry="1.8"/><ellipse cx="311.8" cy="478.7" rx="2.1" ry="1.8"/><ellipse cx="343.5" cy="473.1" rx="2.1" ry="1.8"/><ellipse cx="342.6" cy="476.1" rx="2.1" ry="1.8"/><ellipse cx="299.5" cy="481.7" rx="2.1" ry="1.8"/><ellipse cx="301.2" cy="476.3" rx="2.1" ry="1.8"/><ellipse cx="346.4" cy="483.7" rx="2.1" ry="1.8"/><ellipse cx="285.9" cy="485.5" rx="2.1" ry="1.8"/><ellipse cx="289.8" cy="499.3" rx="2.1" ry="1.8"/><ellipse cx="360.5" cy="455.3" rx="2.1" ry="1.8"/><ellipse cx="331.6" cy="501.1" rx="2.1" ry="1.8"/><ellipse cx="349.7" cy="479.8" rx="2.1" ry="1.8"/><ellipse cx="348.3" cy="471.1" rx="2.1" ry="1.8"/><ellipse cx="311.3" cy="471.4" rx="2.1" ry="1.8"/><ellipse cx="309.6" cy="472.9" rx="2.1" ry="1.8"/><ellipse cx="315.6" cy="497.3" rx="2.1" ry="1.8"/><ellipse cx="291.4" cy="493.1" rx="2.1" ry="1.8"/><ellipse cx="322.4" cy="489.6" rx="2.1" ry="1.8"/><ellipse cx="362.2" cy="453.1" rx="2.1" ry="1.8"/><ellipse cx="318.5" cy="495.2" rx="2.1" ry="1.8"/><ellipse cx="332.2" cy="465.3" rx="2.1" ry="1.8"/><ellipse cx="298.3" cy="493.1" rx="2.1" ry="1.8"/><ellipse cx="322.0" cy="470.3" rx="2.1" ry="1.8"/><ellipse cx="350.3" cy="452.6" rx="2.1" ry="1.8"/><ellipse cx="329.5" cy="477.6" rx="2.1" ry="1.8"/><ellipse cx="294.0" cy="494.2" rx="2.1" ry="1.8"/><ellipse cx="359.0" cy="465.2" rx="2.1" ry="1.8"/><ellipse cx="316.6" cy="495.9" rx="2.1" ry="1.8"/><ellipse cx="317.9" cy="478.0" rx="2.1" ry="1.8"/><ellipse cx="296.2" cy="485.3" rx="2.1" ry="1.8"/><ellipse cx="340.9" cy="490.4" rx="2.1" ry="1.8"/><ellipse cx="353.4" cy="461.7" rx="2.1" ry="1.8"/><ellipse cx="309.8" cy="495.1" rx="2.1" ry="1.8"/><ellipse cx="341.1" cy="483.9" rx="2.1" ry="1.8"/><ellipse cx="293.5" cy="489.8" rx="2.1" ry="1.8"/><ellipse cx="333.4" cy="483.1" rx="2.1" ry="1.8"/><ellipse cx="338.2" cy="475.9" rx="2.1" ry="1.8"/><ellipse cx="347.0" cy="468.6" rx="2.1" ry="1.8"/><ellipse cx="349.8" cy="468.2" rx="2.1" ry="1.8"/><ellipse cx="308.0" cy="471.8" rx="2.1" ry="1.8"/><ellipse cx="345.8" cy="455.7" rx="2.1" ry="1.8"/><ellipse cx="326.6" cy="484.1" rx="2.1" ry="1.8"/><ellipse cx="332.0" cy="488.9" rx="2.1" ry="1.8"/><ellipse cx="358.6" cy="477.8" rx="2.1" ry="1.8"/><ellipse cx="333.7" cy="495.8" rx="2.1" ry="1.8"/><ellipse cx="326.3" cy="476.1" rx="2.1" ry="1.8"/><ellipse cx="294.6" cy="481.2" rx="2.1" ry="1.8"/><ellipse cx="318.6" cy="483.9" rx="2.1" ry="1.8"/><ellipse cx="352.1" cy="488.1" rx="2.1" ry="1.8"/><ellipse cx="318.0" cy="498.0" rx="2.1" ry="1.8"/><ellipse cx="323.7" cy="493.7" rx="2.1" ry="1.8"/><ellipse cx="327.6" cy="473.2" rx="2.1" ry="1.8"/><ellipse cx="338.3" cy="464.5" rx="2.1" ry="1.8"/><ellipse cx="320.6" cy="498.0" rx="2.1" ry="1.8"/><ellipse cx="345.1" cy="469.2" rx="2.1" ry="1.8"/><ellipse cx="311.6" cy="481.2" rx="2.1" ry="1.8"/><ellipse cx="333.3" cy="458.6" rx="2.1" ry="1.8"/><ellipse cx="292.2" cy="478.3" rx="2.1" ry="1.8"/><ellipse cx="315.1" cy="494.1" rx="2.1" ry="1.8"/><ellipse cx="335.8" cy="467.6" rx="2.1" ry="1.8"/><ellipse cx="302.4" cy="500.3" rx="2.1" ry="1.8"/><ellipse cx="336.4" cy="467.5" rx="2.1" ry="1.8"/><ellipse cx="308.1" cy="492.3" rx="2.1" ry="1.8"/><ellipse cx="298.0" cy="499.7" rx="2.1" ry="1.8"/><ellipse cx="322.1" cy="461.9" rx="2.1" ry="1.8"/><ellipse cx="292.3" cy="495.3" rx="2.1" ry="1.8"/><ellipse cx="334.1" cy="494.6" rx="2.1" ry="1.8"/><ellipse cx="313.1" cy="478.0" rx="2.1" ry="1.8"/><ellipse cx="290.8" cy="494.6" rx="2.1" ry="1.8"/><ellipse cx="359.7" cy="475.3" rx="2.1" ry="1.8"/><ellipse cx="337.9" cy="485.3" rx="2.1" ry="1.8"/><ellipse cx="297.1" cy="483.6" rx="2.1" ry="1.8"/><ellipse cx="316.3" cy="499.8" rx="2.1" ry="1.8"/><ellipse cx="355.2" cy="450.3" rx="2.1" ry="1.8"/><ellipse cx="333.9" cy="475.0" rx="2.1" ry="1.8"/><ellipse cx="354.2" cy="457.2" rx="2.1" ry="1.8"/><ellipse cx="327.8" cy="476.3" rx="2.1" ry="1.8"/><ellipse cx="346.6" cy="473.3" rx="2.1" ry="1.8"/><ellipse cx="338.2" cy="486.8" rx="2.1" ry="1.8"/><ellipse cx="308.2" cy="473.9" rx="2.1" ry="1.8"/><ellipse cx="327.4" cy="473.0" rx="2.1" ry="1.8"/><ellipse cx="322.5" cy="499.2" rx="2.1" ry="1.8"/><ellipse cx="285.2" cy="495.5" rx="2.1" ry="1.8"/><ellipse cx="325.9" cy="489.3" rx="2.1" ry="1.8"/><ellipse cx="317.5" cy="467.5" rx="2.1" ry="1.8"/><ellipse cx="360.1" cy="469.6" rx="2.1" ry="1.8"/><ellipse cx="326.5" cy="482.1" rx="2.1" ry="1.8"/><ellipse cx="310.5" cy="505.1" rx="2.1" ry="1.8"/><ellipse cx="327.4" cy="454.3" rx="2.1" ry="1.8"/><ellipse cx="295.6" cy="499.0" rx="2.1" ry="1.8"/><ellipse cx="316.1" cy="461.3" rx="2.1" ry="1.8"/><ellipse cx="317.2" cy="488.4" rx="2.1" ry="1.8"/><ellipse cx="351.8" cy="479.7" rx="2.1" ry="1.8"/><ellipse cx="355.8" cy="482.8" rx="2.1" ry="1.8"/><ellipse cx="333.9" cy="472.7" rx="2.1" ry="1.8"/><ellipse cx="315.2" cy="468.0" rx="2.1" ry="1.8"/><ellipse cx="326.1" cy="472.5" rx="2.1" ry="1.8"/><ellipse cx="328.8" cy="478.1" rx="2.1" ry="1.8"/><ellipse cx="302.9" cy="494.5" rx="2.1" ry="1.8"/><ellipse cx="311.6" cy="480.1" rx="2.1" ry="1.8"/><ellipse cx="312.8" cy="503.3" rx="2.1" ry="1.8"/><ellipse cx="306.5" cy="471.0" rx="2.1" ry="1.8"/><ellipse cx="322.4" cy="461.8" rx="2.1" ry="1.8"/><ellipse cx="338.1" cy="452.5" rx="2.1" ry="1.8"/><ellipse cx="348.9" cy="455.0" rx="2.1" ry="1.8"/><ellipse cx="294.2" cy="502.9" rx="2.1" ry="1.8"/><ellipse cx="327.3" cy="470.3" rx="2.1" ry="1.8"/><ellipse cx="343.5" cy="465.2" rx="2.1" ry="1.8"/><ellipse cx="351.1" cy="484.1" rx="2.1" ry="1.8"/><ellipse cx="320.6" cy="481.8" rx="2.1" ry="1.8"/><ellipse cx="318.5" cy="481.5" rx="2.1" ry="1.8"/><ellipse cx="356.0" cy="456.8" rx="2.1" ry="1.8"/><ellipse cx="359.8" cy="450.5" rx="2.1" ry="1.8"/><ellipse cx="341.8" cy="480.9" rx="2.1" ry="1.8"/><ellipse cx="307.0" cy="479.5" rx="2.1" ry="1.8"/><ellipse cx="311.9" cy="465.5" rx="2.1" ry="1.8"/><ellipse cx="310.4" cy="486.5" rx="2.1" ry="1.8"/><ellipse cx="356.2" cy="463.2" rx="2.1" ry="1.8"/><ellipse cx="324.1" cy="496.2" rx="2.1" ry="1.8"/><ellipse cx="308.7" cy="489.8" rx="2.1" ry="1.8"/><ellipse cx="321.9" cy="481.3" rx="2.1" ry="1.8"/><ellipse cx="318.4" cy="487.7" rx="2.1" ry="1.8"/><ellipse cx="296.6" cy="482.6" rx="2.1" ry="1.8"/><ellipse cx="360.8" cy="473.9" rx="2.1" ry="1.8"/><ellipse cx="304.9" cy="479.4" rx="2.1" ry="1.8"/><ellipse cx="314.3" cy="469.6" rx="2.1" ry="1.8"/><ellipse cx="335.0" cy="452.3" rx="2.1" ry="1.8"/><ellipse cx="306.8" cy="462.9" rx="2.1" ry="1.8"/><ellipse cx="294.2" cy="502.9" rx="2.1" ry="1.8"/><ellipse cx="325.1" cy="474.0" rx="2.1" ry="1.8"/><ellipse cx="336.4" cy="490.8" rx="2.1" ry="1.8"/><ellipse cx="316.2" cy="485.1" rx="2.1" ry="1.8"/><ellipse cx="284.5" cy="489.5" rx="2.1" ry="1.8"/><ellipse cx="358.3" cy="481.9" rx="2.1" ry="1.8"/><ellipse cx="310.1" cy="498.9" rx="2.1" ry="1.8"/><ellipse cx="296.7" cy="502.9" rx="2.1" ry="1.8"/><ellipse cx="314.5" cy="470.8" rx="2.1" ry="1.8"/><ellipse cx="342.6" cy="467.2" rx="2.1" ry="1.8"/><ellipse cx="330.2" cy="460.2" rx="2.1" ry="1.8"/><ellipse cx="343.2" cy="457.9" rx="2.1" ry="1.8"/><ellipse cx="340.4" cy="487.1" rx="2.1" ry="1.8"/><ellipse cx="292.9" cy="497.6" rx="2.1" ry="1.8"/><ellipse cx="313.8" cy="481.9" rx="2.1" ry="1.8"/><ellipse cx="333.4" cy="488.5" rx="2.1" ry="1.8"/><ellipse cx="358.5" cy="478.3" rx="2.1" ry="1.8"/><ellipse cx="331.6" cy="461.9" rx="2.1" ry="1.8"/><ellipse cx="344.8" cy="467.1" rx="2.1" ry="1.8"/><ellipse cx="346.3" cy="485.2" rx="2.1" ry="1.8"/><ellipse cx="321.9" cy="481.9" rx="2.1" ry="1.8"/><ellipse cx="358.9" cy="475.1" rx="2.1" ry="1.8"/><ellipse cx="323.3" cy="485.1" rx="2.1" ry="1.8"/><ellipse cx="355.1" cy="457.0" rx="2.1" ry="1.8"/><ellipse cx="347.8" cy="463.6" rx="2.1" ry="1.8"/><ellipse cx="309.7" cy="477.4" rx="2.1" ry="1.8"/><ellipse cx="330.4" cy="460.5" rx="2.1" ry="1.8"/><ellipse cx="343.0" cy="483.6" rx="2.1" ry="1.8"/><ellipse cx="306.7" cy="495.6" rx="2.1" ry="1.8"/><ellipse cx="315.2" cy="484.7" rx="2.1" ry="1.8"/><ellipse cx="295.3" cy="479.4" rx="2.1" ry="1.8"/><ellipse cx="330.8" cy="479.8" rx="2.1" ry="1.8"/><ellipse cx="297.6" cy="475.8" rx="2.1" ry="1.8"/><ellipse cx="291.9" cy="491.4" rx="2.1" ry="1.8"/><ellipse cx="301.9" cy="479.7" rx="2.1" ry="1.8"/><ellipse cx="324.4" cy="492.9" rx="2.1" ry="1.8"/><ellipse cx="317.1" cy="501.5" rx="2.1" ry="1.8"/><ellipse cx="328.2" cy="485.3" rx="2.1" ry="1.8"/><ellipse cx="337.5" cy="457.6" rx="2.1" ry="1.8"/><ellipse cx="348.8" cy="479.4" rx="2.1" ry="1.8"/><ellipse cx="322.5" cy="496.6" rx="2.1" ry="1.8"/><ellipse cx="290.3" cy="482.3" rx="2.1" ry="1.8"/><ellipse cx="340.2" cy="486.7" rx="2.1" ry="1.8"/><ellipse cx="360.9" cy="452.2" rx="2.1" ry="1.8"/><ellipse cx="301.3" cy="493.9" rx="2.1" ry="1.8"/><ellipse cx="353.0" cy="470.7" rx="2.1" ry="1.8"/><ellipse cx="353.3" cy="474.9" rx="2.1" ry="1.8"/><ellipse cx="340.1" cy="466.2" rx="2.1" ry="1.8"/><ellipse cx="297.6" cy="475.5" rx="2.1" ry="1.8"/><ellipse cx="352.8" cy="467.6" rx="2.1" ry="1.8"/><ellipse cx="298.1" cy="472.8" rx="2.1" ry="1.8"/><ellipse cx="328.4" cy="486.2" rx="2.1" ry="1.8"/><ellipse cx="301.5" cy="498.4" rx="2.1" ry="1.8"/><ellipse cx="333.7" cy="491.0" rx="2.1" ry="1.8"/><ellipse cx="346.6" cy="480.6" rx="2.1" ry="1.8"/><ellipse cx="317.0" cy="464.8" rx="2.1" ry="1.8"/><ellipse cx="335.9" cy="474.5" rx="2.1" ry="1.8"/><ellipse cx="324.0" cy="477.5" rx="2.1" ry="1.8"/><ellipse cx="321.4" cy="464.2" rx="2.1" ry="1.8"/><ellipse cx="347.5" cy="481.3" rx="2.1" ry="1.8"/><ellipse cx="349.8" cy="479.6" rx="2.1" ry="1.8"/><ellipse cx="316.5" cy="494.6" rx="2.1" ry="1.8"/><ellipse cx="329.8" cy="470.9" rx="2.1" ry="1.8"/><ellipse cx="320.7" cy="486.5" rx="2.1" ry="1.8"/><ellipse cx="300.8" cy="477.0" rx="2.1" ry="1.8"/><ellipse cx="299.0" cy="485.3" rx="2.1" ry="1.8"/><ellipse cx="334.7" cy="459.9" rx="2.1" ry="1.8"/><ellipse cx="324.1" cy="460.9" rx="2.1" ry="1.8"/><ellipse cx="348.1" cy="468.9" rx="2.1" ry="1.8"/><ellipse cx="345.6" cy="462.2" rx="2.1" ry="1.8"/><ellipse cx="334.2" cy="489.5" rx="2.1" ry="1.8"/><ellipse cx="321.9" cy="470.0" rx="2.1" ry="1.8"/><ellipse cx="324.3" cy="474.0" rx="2.1" ry="1.8"/><ellipse cx="363.0" cy="474.2" rx="2.1" ry="1.8"/><ellipse cx="296.7" cy="503.4" rx="2.1" ry="1.8"/><ellipse cx="316.5" cy="465.4" rx="2.1" ry="1.8"/><ellipse cx="362.5" cy="466.7" rx="2.1" ry="1.8"/><ellipse cx="296.7" cy="482.1" rx="2.1" ry="1.8"/><ellipse cx="329.8" cy="471.5" rx="2.1" ry="1.8"/><ellipse cx="324.7" cy="464.1" rx="2.1" ry="1.8"/><ellipse cx="305.9" cy="491.2" rx="2.1" ry="1.8"/><ellipse cx="309.1" cy="490.4" rx="2.1" ry="1.8"/><ellipse cx="333.0" cy="460.6" rx="2.1" ry="1.8"/><ellipse cx="287.9" cy="484.6" rx="2.1" ry="1.8"/><ellipse cx="306.4" cy="482.2" rx="2.1" ry="1.8"/><ellipse cx="315.1" cy="466.7" rx="2.1" ry="1.8"/><ellipse cx="303.9" cy="478.0" rx="2.1" ry="1.8"/><ellipse cx="350.8" cy="474.4" rx="2.1" ry="1.8"/><ellipse cx="349.7" cy="477.7" rx="2.1" ry="1.8"/><ellipse cx="322.0" cy="470.3" rx="2.1" ry="1.8"/><ellipse cx="310.7" cy="469.1" rx="2.1" ry="1.8"/><ellipse cx="323.6" cy="475.4" rx="2.1" ry="1.8"/><ellipse cx="321.4" cy="494.9" rx="2.1" ry="1.8"/><ellipse cx="286.3" cy="497.9" rx="2.1" ry="1.8"/><ellipse cx="347.4" cy="487.9" rx="2.1" ry="1.8"/><ellipse cx="349.6" cy="493.7" rx="2.1" ry="1.8"/><ellipse cx="294.4" cy="481.7" rx="2.1" ry="1.8"/><ellipse cx="326.1" cy="491.5" rx="2.1" ry="1.8"/><ellipse cx="289.1" cy="495.9" rx="2.1" ry="1.8"/><ellipse cx="318.1" cy="470.8" rx="2.1" ry="1.8"/><ellipse cx="326.0" cy="493.7" rx="2.1" ry="1.8"/><ellipse cx="350.6" cy="463.9" rx="2.1" ry="1.8"/><ellipse cx="333.0" cy="471.9" rx="2.1" ry="1.8"/><ellipse cx="320.0" cy="490.9" rx="2.1" ry="1.8"/><ellipse cx="333.8" cy="487.7" rx="2.1" ry="1.8"/><ellipse cx="323.5" cy="480.7" rx="2.1" ry="1.8"/><ellipse cx="351.4" cy="464.1" rx="2.1" ry="1.8"/><ellipse cx="318.5" cy="494.7" rx="2.1" ry="1.8"/><ellipse cx="329.9" cy="484.7" rx="2.1" ry="1.8"/><ellipse cx="303.8" cy="490.8" rx="2.1" ry="1.8"/><ellipse cx="354.0" cy="491.7" rx="2.1" ry="1.8"/><ellipse cx="318.2" cy="478.2" rx="2.1" ry="1.8"/><ellipse cx="304.2" cy="488.3" rx="2.1" ry="1.8"/><ellipse cx="332.1" cy="478.7" rx="2.1" ry="1.8"/><ellipse cx="358.5" cy="480.4" rx="2.1" ry="1.8"/><ellipse cx="327.5" cy="467.7" rx="2.1" ry="1.8"/><ellipse cx="298.9" cy="494.6" rx="2.1" ry="1.8"/><ellipse cx="354.6" cy="484.9" rx="2.1" ry="1.8"/><ellipse cx="317.2" cy="493.9" rx="2.1" ry="1.8"/><ellipse cx="311.4" cy="473.8" rx="2.1" ry="1.8"/><ellipse cx="324.8" cy="497.4" rx="2.1" ry="1.8"/><ellipse cx="354.2" cy="469.4" rx="2.1" ry="1.8"/><ellipse cx="310.1" cy="487.5" rx="2.1" ry="1.8"/><ellipse cx="297.9" cy="507.3" rx="2.1" ry="1.8"/><ellipse cx="338.3" cy="477.9" rx="2.1" ry="1.8"/><ellipse cx="294.7" cy="484.2" rx="2.1" ry="1.8"/><ellipse cx="291.9" cy="503.2" rx="2.1" ry="1.8"/><ellipse cx="296.2" cy="498.0" rx="2.1" ry="1.8"/><ellipse cx="312.3" cy="483.5" rx="2.1" ry="1.8"/><ellipse cx="317.8" cy="489.6" rx="2.1" ry="1.8"/><ellipse cx="325.6" cy="463.1" rx="2.1" ry="1.8"/><ellipse cx="345.2" cy="480.7" rx="2.1" ry="1.8"/><ellipse cx="311.8" cy="485.6" rx="2.1" ry="1.8"/><ellipse cx="319.1" cy="490.0" rx="2.1" ry="1.8"/><ellipse cx="305.8" cy="487.8" rx="2.1" ry="1.8"/><ellipse cx="288.0" cy="480.9" rx="2.1" ry="1.8"/><ellipse cx="348.5" cy="470.5" rx="2.1" ry="1.8"/><ellipse cx="354.2" cy="468.3" rx="2.1" ry="1.8"/><ellipse cx="362.1" cy="471.7" rx="2.1" ry="1.8"/><ellipse cx="336.2" cy="465.9" rx="2.1" ry="1.8"/><ellipse cx="352.1" cy="456.8" rx="2.1" ry="1.8"/><ellipse cx="292.3" cy="498.7" rx="2.1" ry="1.8"/><ellipse cx="351.4" cy="472.7" rx="2.1" ry="1.8"/><ellipse cx="329.9" cy="464.4" rx="2.1" ry="1.8"/><ellipse cx="355.9" cy="456.6" rx="2.1" ry="1.8"/><ellipse cx="360.9" cy="479.0" rx="2.1" ry="1.8"/><ellipse cx="298.7" cy="489.7" rx="2.1" ry="1.8"/><ellipse cx="302.7" cy="507.7" rx="2.1" ry="1.8"/><ellipse cx="343.0" cy="483.2" rx="2.1" ry="1.8"/><ellipse cx="300.0" cy="476.1" rx="2.1" ry="1.8"/><ellipse cx="288.0" cy="501.2" rx="2.1" ry="1.8"/><ellipse cx="316.2" cy="497.1" rx="2.1" ry="1.8"/><ellipse cx="284.5" cy="510.7" rx="2.1" ry="1.8"/><ellipse cx="343.1" cy="463.6" rx="2.1" ry="1.8"/><ellipse cx="295.6" cy="496.8" rx="2.1" ry="1.8"/><ellipse cx="306.8" cy="484.9" rx="2.1" ry="1.8"/><ellipse cx="328.5" cy="488.5" rx="2.1" ry="1.8"/><ellipse cx="296.5" cy="491.7" rx="2.1" ry="1.8"/><ellipse cx="325.7" cy="485.0" rx="2.1" ry="1.8"/><ellipse cx="320.5" cy="490.8" rx="2.1" ry="1.8"/><ellipse cx="289.8" cy="494.0" rx="2.1" ry="1.8"/><ellipse cx="343.7" cy="485.8" rx="2.1" ry="1.8"/><ellipse cx="314.2" cy="474.5" rx="2.1" ry="1.8"/><ellipse cx="351.9" cy="464.5" rx="2.1" ry="1.8"/><ellipse cx="344.3" cy="486.7" rx="2.1" ry="1.8"/><ellipse cx="323.6" cy="494.6" rx="2.1" ry="1.8"/><ellipse cx="304.6" cy="496.6" rx="2.1" ry="1.8"/><ellipse cx="332.1" cy="463.4" rx="2.1" ry="1.8"/><ellipse cx="325.9" cy="487.3" rx="2.1" ry="1.8"/><ellipse cx="343.2" cy="455.1" rx="2.1" ry="1.8"/><ellipse cx="311.8" cy="492.1" rx="2.1" ry="1.8"/><ellipse cx="309.8" cy="490.4" rx="2.1" ry="1.8"/><ellipse cx="336.1" cy="464.9" rx="2.1" ry="1.8"/><ellipse cx="337.5" cy="490.0" rx="2.1" ry="1.8"/><ellipse cx="332.4" cy="478.3" rx="2.1" ry="1.8"/><ellipse cx="348.1" cy="457.1" rx="2.1" ry="1.8"/><ellipse cx="354.5" cy="485.0" rx="2.1" ry="1.8"/><ellipse cx="348.7" cy="449.1" rx="2.1" ry="1.8"/><ellipse cx="307.0" cy="475.0" rx="2.1" ry="1.8"/><ellipse cx="329.0" cy="472.6" rx="2.1" ry="1.8"/><ellipse cx="358.8" cy="460.0" rx="2.1" ry="1.8"/><ellipse cx="292.7" cy="503.9" rx="2.1" ry="1.8"/><ellipse cx="311.8" cy="466.6" rx="2.1" ry="1.8"/><ellipse cx="336.0" cy="480.5" rx="2.1" ry="1.8"/><ellipse cx="324.2" cy="471.4" rx="2.1" ry="1.8"/><ellipse cx="294.4" cy="502.8" rx="2.1" ry="1.8"/><ellipse cx="362.5" cy="466.6" rx="2.1" ry="1.8"/><ellipse cx="350.8" cy="474.6" rx="2.1" ry="1.8"/><ellipse cx="343.9" cy="456.4" rx="2.1" ry="1.8"/><ellipse cx="342.0" cy="484.8" rx="2.1" ry="1.8"/><ellipse cx="322.3" cy="483.9" rx="2.1" ry="1.8"/><ellipse cx="325.0" cy="492.0" rx="2.1" ry="1.8"/><ellipse cx="356.0" cy="462.3" rx="2.1" ry="1.8"/><ellipse cx="293.2" cy="474.8" rx="2.1" ry="1.8"/><ellipse cx="290.3" cy="480.7" rx="2.1" ry="1.8"/><ellipse cx="311.0" cy="481.8" rx="2.1" ry="1.8"/><ellipse cx="302.2" cy="488.1" rx="2.1" ry="1.8"/><ellipse cx="312.2" cy="479.4" rx="2.1" ry="1.8"/><ellipse cx="302.3" cy="490.7" rx="2.1" ry="1.8"/><ellipse cx="349.5" cy="459.8" rx="2.1" ry="1.8"/><ellipse cx="307.4" cy="479.4" rx="2.1" ry="1.8"/><ellipse cx="299.2" cy="497.5" rx="2.1" ry="1.8"/><ellipse cx="333.9" cy="475.0" rx="2.1" ry="1.8"/><ellipse cx="321.3" cy="487.4" rx="2.1" ry="1.8"/><ellipse cx="320.4" cy="467.3" rx="2.1" ry="1.8"/><ellipse cx="300.5" cy="498.4" rx="2.1" ry="1.8"/><ellipse cx="326.7" cy="463.7" rx="2.1" ry="1.8"/><ellipse cx="355.3" cy="475.1" rx="2.1" ry="1.8"/><ellipse cx="338.6" cy="453.4" rx="2.1" ry="1.8"/><ellipse cx="333.9" cy="462.1" rx="2.1" ry="1.8"/><ellipse cx="319.6" cy="489.0" rx="2.1" ry="1.8"/><ellipse cx="326.0" cy="471.5" rx="2.1" ry="1.8"/><ellipse cx="309.7" cy="465.9" rx="2.1" ry="1.8"/><ellipse cx="324.4" cy="486.4" rx="2.1" ry="1.8"/><ellipse cx="342.8" cy="467.5" rx="2.1" ry="1.8"/><ellipse cx="329.3" cy="492.0" rx="2.1" ry="1.8"/><ellipse cx="332.6" cy="468.1" rx="2.1" ry="1.8"/><ellipse cx="327.4" cy="493.5" rx="2.1" ry="1.8"/><ellipse cx="294.7" cy="501.8" rx="2.1" ry="1.8"/><ellipse cx="320.5" cy="493.6" rx="2.1" ry="1.8"/><ellipse cx="318.2" cy="496.7" rx="2.1" ry="1.8"/><ellipse cx="334.2" cy="474.9" rx="2.1" ry="1.8"/><ellipse cx="304.1" cy="476.5" rx="2.1" ry="1.8"/><ellipse cx="311.9" cy="481.2" rx="2.1" ry="1.8"/><ellipse cx="332.4" cy="495.1" rx="2.1" ry="1.8"/><ellipse cx="306.6" cy="499.0" rx="2.1" ry="1.8"/><ellipse cx="336.0" cy="464.5" rx="2.1" ry="1.8"/><ellipse cx="347.9" cy="469.8" rx="2.1" ry="1.8"/><ellipse cx="333.8" cy="465.7" rx="2.1" ry="1.8"/><ellipse cx="288.5" cy="499.4" rx="2.1" ry="1.8"/><ellipse cx="304.5" cy="500.3" rx="2.1" ry="1.8"/><ellipse cx="324.8" cy="477.0" rx="2.1" ry="1.8"/><ellipse cx="288.0" cy="490.3" rx="2.1" ry="1.8"/><ellipse cx="343.2" cy="463.5" rx="2.1" ry="1.8"/><ellipse cx="348.0" cy="451.9" rx="2.1" ry="1.8"/><ellipse cx="363.8" cy="473.8" rx="2.1" ry="1.8"/><ellipse cx="332.6" cy="462.4" rx="2.1" ry="1.8"/><ellipse cx="325.5" cy="485.7" rx="2.1" ry="1.8"/><ellipse cx="339.0" cy="502.2" rx="2.1" ry="1.8"/><ellipse cx="314.8" cy="497.2" rx="2.1" ry="1.8"/><ellipse cx="345.6" cy="475.7" rx="2.1" ry="1.8"/><ellipse cx="311.8" cy="485.8" rx="2.1" ry="1.8"/><ellipse cx="324.8" cy="482.0" rx="2.1" ry="1.8"/><ellipse cx="287.1" cy="486.3" rx="2.1" ry="1.8"/><ellipse cx="298.8" cy="496.2" rx="2.1" ry="1.8"/><ellipse cx="348.5" cy="470.6" rx="2.1" ry="1.8"/><ellipse cx="294.2" cy="485.3" rx="2.1" ry="1.8"/><ellipse cx="328.9" cy="467.8" rx="2.1" ry="1.8"/><ellipse cx="358.1" cy="474.4" rx="2.1" ry="1.8"/><ellipse cx="325.2" cy="491.3" rx="2.1" ry="1.8"/><ellipse cx="348.2" cy="482.4" rx="2.1" ry="1.8"/><ellipse cx="323.6" cy="487.7" rx="2.1" ry="1.8"/><ellipse cx="356.1" cy="463.3" rx="2.1" ry="1.8"/><ellipse cx="301.3" cy="479.1" rx="2.1" ry="1.8"/><ellipse cx="293.4" cy="496.1" rx="2.1" ry="1.8"/><ellipse cx="307.2" cy="494.4" rx="2.1" ry="1.8"/><ellipse cx="359.1" cy="482.3" rx="2.1" ry="1.8"/><ellipse cx="351.9" cy="476.8" rx="2.1" ry="1.8"/><ellipse cx="291.2" cy="481.8" rx="2.1" ry="1.8"/><ellipse cx="310.8" cy="503.4" rx="2.1" ry="1.8"/><ellipse cx="307.4" cy="504.2" rx="2.1" ry="1.8"/><ellipse cx="325.4" cy="489.3" rx="2.1" ry="1.8"/><ellipse cx="348.7" cy="455.4" rx="2.1" ry="1.8"/><ellipse cx="342.6" cy="459.9" rx="2.1" ry="1.8"/><ellipse cx="325.8" cy="488.5" rx="2.1" ry="1.8"/><ellipse cx="301.8" cy="481.4" rx="2.1" ry="1.8"/><ellipse cx="292.7" cy="479.5" rx="2.1" ry="1.8"/><ellipse cx="333.3" cy="478.0" rx="2.1" ry="1.8"/><ellipse cx="319.4" cy="469.8" rx="2.1" ry="1.8"/><ellipse cx="354.2" cy="468.0" rx="2.1" ry="1.8"/><ellipse cx="319.3" cy="482.2" rx="2.1" ry="1.8"/><ellipse cx="351.6" cy="464.5" rx="2.1" ry="1.8"/><ellipse cx="325.2" cy="482.6" rx="2.1" ry="1.8"/><ellipse cx="356.7" cy="467.9" rx="2.1" ry="1.8"/><ellipse cx="292.8" cy="488.3" rx="2.1" ry="1.8"/><ellipse cx="313.3" cy="497.9" rx="2.1" ry="1.8"/><ellipse cx="357.2" cy="462.7" rx="2.1" ry="1.8"/><ellipse cx="332.8" cy="484.0" rx="2.1" ry="1.8"/><ellipse cx="330.6" cy="486.6" rx="2.1" ry="1.8"/><ellipse cx="293.7" cy="491.4" rx="2.1" ry="1.8"/><ellipse cx="327.2" cy="468.6" rx="2.1" ry="1.8"/><ellipse cx="312.0" cy="492.5" rx="2.1" ry="1.8"/><ellipse cx="294.5" cy="498.1" rx="2.1" ry="1.8"/><ellipse cx="339.0" cy="468.0" rx="2.1" ry="1.8"/><ellipse cx="334.6" cy="456.0" rx="2.1" ry="1.8"/><ellipse cx="290.5" cy="504.7" rx="2.1" ry="1.8"/><ellipse cx="301.0" cy="491.9" rx="2.1" ry="1.8"/><ellipse cx="337.0" cy="461.1" rx="2.1" ry="1.8"/><ellipse cx="292.6" cy="478.9" rx="2.1" ry="1.8"/><ellipse cx="348.1" cy="464.5" rx="2.1" ry="1.8"/><ellipse cx="319.1" cy="498.8" rx="2.1" ry="1.8"/><ellipse cx="353.5" cy="468.6" rx="2.1" ry="1.8"/><ellipse cx="350.3" cy="468.4" rx="2.1" ry="1.8"/><ellipse cx="307.6" cy="473.5" rx="2.1" ry="1.8"/><ellipse cx="343.2" cy="465.4" rx="2.1" ry="1.8"/><ellipse cx="329.8" cy="484.0" rx="2.1" ry="1.8"/><ellipse cx="352.3" cy="476.8" rx="2.1" ry="1.8"/><ellipse cx="316.4" cy="483.1" rx="2.1" ry="1.8"/><ellipse cx="320.2" cy="496.1" rx="2.1" ry="1.8"/><ellipse cx="298.0" cy="486.1" rx="2.1" ry="1.8"/><ellipse cx="327.5" cy="485.0" rx="2.1" ry="1.8"/><ellipse cx="303.2" cy="490.6" rx="2.1" ry="1.8"/><ellipse cx="341.3" cy="458.7" rx="2.1" ry="1.8"/><ellipse cx="300.0" cy="479.7" rx="2.1" ry="1.8"/><ellipse cx="290.5" cy="484.9" rx="2.1" ry="1.8"/><ellipse cx="352.0" cy="475.7" rx="2.1" ry="1.8"/><ellipse cx="345.8" cy="459.3" rx="2.1" ry="1.8"/><ellipse cx="286.4" cy="490.9" rx="2.1" ry="1.8"/><ellipse cx="341.1" cy="501.8" rx="2.1" ry="1.8"/><ellipse cx="360.9" cy="474.6" rx="2.1" ry="1.8"/><ellipse cx="339.4" cy="472.0" rx="2.1" ry="1.8"/><ellipse cx="303.6" cy="500.8" rx="2.1" ry="1.8"/><ellipse cx="311.4" cy="465.7" rx="2.1" ry="1.8"/><ellipse cx="341.4" cy="475.1" rx="2.1" ry="1.8"/><ellipse cx="317.0" cy="471.2" rx="2.1" ry="1.8"/><ellipse cx="330.5" cy="478.5" rx="2.1" ry="1.8"/><ellipse cx="344.0" cy="461.9" rx="2.1" ry="1.8"/><ellipse cx="301.5" cy="479.8" rx="2.1" ry="1.8"/><ellipse cx="311.9" cy="494.5" rx="2.1" ry="1.8"/><ellipse cx="294.7" cy="498.6" rx="2.1" ry="1.8"/><ellipse cx="332.4" cy="490.5" rx="2.1" ry="1.8"/><ellipse cx="306.3" cy="461.0" rx="2.1" ry="1.8"/><ellipse cx="333.0" cy="494.7" rx="2.1" ry="1.8"/><ellipse cx="311.4" cy="478.8" rx="2.1" ry="1.8"/><ellipse cx="318.0" cy="495.7" rx="2.1" ry="1.8"/><ellipse cx="308.0" cy="468.8" rx="2.1" ry="1.8"/><ellipse cx="354.5" cy="448.6" rx="2.1" ry="1.8"/><ellipse cx="316.8" cy="474.9" rx="2.1" ry="1.8"/><ellipse cx="308.8" cy="475.3" rx="2.1" ry="1.8"/><ellipse cx="347.3" cy="472.4" rx="2.1" ry="1.8"/><ellipse cx="300.6" cy="482.3" rx="2.1" ry="1.8"/><ellipse cx="353.9" cy="455.4" rx="2.1" ry="1.8"/><ellipse cx="338.0" cy="456.2" rx="2.1" ry="1.8"/><ellipse cx="347.7" cy="469.9" rx="2.1" ry="1.8"/><ellipse cx="342.8" cy="481.5" rx="2.1" ry="1.8"/><ellipse cx="324.6" cy="495.4" rx="2.1" ry="1.8"/><ellipse cx="330.5" cy="493.2" rx="2.1" ry="1.8"/><ellipse cx="302.0" cy="477.1" rx="2.1" ry="1.8"/><ellipse cx="311.5" cy="475.5" rx="2.1" ry="1.8"/><ellipse cx="354.6" cy="464.4" rx="2.1" ry="1.8"/><ellipse cx="316.2" cy="479.8" rx="2.1" ry="1.8"/><ellipse cx="303.4" cy="469.8" rx="2.1" ry="1.8"/><ellipse cx="346.5" cy="462.5" rx="2.1" ry="1.8"/><ellipse cx="314.0" cy="474.3" rx="2.1" ry="1.8"/><ellipse cx="290.4" cy="481.6" rx="2.1" ry="1.8"/><ellipse cx="326.7" cy="461.4" rx="2.1" ry="1.8"/><ellipse cx="334.8" cy="495.3" rx="2.1" ry="1.8"/><ellipse cx="317.7" cy="502.4" rx="2.1" ry="1.8"/><ellipse cx="298.4" cy="473.2" rx="2.1" ry="1.8"/><ellipse cx="321.4" cy="487.0" rx="2.1" ry="1.8"/><ellipse cx="345.7" cy="465.7" rx="2.1" ry="1.8"/><ellipse cx="307.0" cy="476.9" rx="2.1" ry="1.8"/><ellipse cx="334.0" cy="460.3" rx="2.1" ry="1.8"/><ellipse cx="341.1" cy="457.7" rx="2.1" ry="1.8"/><ellipse cx="344.1" cy="462.2" rx="2.1" ry="1.8"/><ellipse cx="347.2" cy="484.9" rx="2.1" ry="1.8"/><ellipse cx="336.5" cy="468.6" rx="2.1" ry="1.8"/><ellipse cx="340.1" cy="470.3" rx="2.1" ry="1.8"/><ellipse cx="312.9" cy="466.0" rx="2.1" ry="1.8"/><ellipse cx="353.7" cy="478.6" rx="2.1" ry="1.8"/><ellipse cx="338.6" cy="458.1" rx="2.1" ry="1.8"/><ellipse cx="293.1" cy="484.1" rx="2.1" ry="1.8"/><ellipse cx="318.3" cy="482.1" rx="2.1" ry="1.8"/><ellipse cx="292.1" cy="481.4" rx="2.1" ry="1.8"/><ellipse cx="311.0" cy="485.7" rx="2.1" ry="1.8"/><ellipse cx="307.9" cy="473.7" rx="2.1" ry="1.8"/><ellipse cx="346.9" cy="479.8" rx="2.1" ry="1.8"/><ellipse cx="337.1" cy="466.9" rx="2.1" ry="1.8"/><ellipse cx="330.7" cy="485.8" rx="2.1" ry="1.8"/><ellipse cx="321.0" cy="494.6" rx="2.1" ry="1.8"/><ellipse cx="345.1" cy="452.6" rx="2.1" ry="1.8"/><ellipse cx="294.0" cy="503.8" rx="2.1" ry="1.8"/><ellipse cx="309.4" cy="473.8" rx="2.1" ry="1.8"/><ellipse cx="334.9" cy="459.0" rx="2.1" ry="1.8"/><ellipse cx="331.2" cy="467.3" rx="2.1" ry="1.8"/><ellipse cx="293.3" cy="477.6" rx="2.1" ry="1.8"/><ellipse cx="304.2" cy="471.6" rx="2.1" ry="1.8"/><ellipse cx="348.7" cy="469.7" rx="2.1" ry="1.8"/><ellipse cx="309.7" cy="481.7" rx="2.1" ry="1.8"/><ellipse cx="299.9" cy="501.7" rx="2.1" ry="1.8"/><ellipse cx="352.3" cy="480.4" rx="2.1" ry="1.8"/><ellipse cx="341.8" cy="476.5" rx="2.1" ry="1.8"/><ellipse cx="316.2" cy="487.3" rx="2.1" ry="1.8"/><ellipse cx="315.8" cy="467.0" rx="2.1" ry="1.8"/><ellipse cx="297.6" cy="490.9" rx="2.1" ry="1.8"/><ellipse cx="338.0" cy="459.1" rx="2.1" ry="1.8"/><ellipse cx="289.0" cy="503.9" rx="2.1" ry="1.8"/><ellipse cx="325.8" cy="477.1" rx="2.1" ry="1.8"/><ellipse cx="290.1" cy="504.8" rx="2.1" ry="1.8"/><ellipse cx="342.8" cy="462.2" rx="2.1" ry="1.8"/><ellipse cx="306.6" cy="460.9" rx="2.1" ry="1.8"/><ellipse cx="334.5" cy="462.3" rx="2.1" ry="1.8"/><ellipse cx="303.4" cy="469.0" rx="2.1" ry="1.8"/><ellipse cx="299.0" cy="497.6" rx="2.1" ry="1.8"/><ellipse cx="332.8" cy="468.2" rx="2.1" ry="1.8"/><ellipse cx="352.4" cy="466.4" rx="2.1" ry="1.8"/><ellipse cx="350.2" cy="462.7" rx="2.1" ry="1.8"/><ellipse cx="305.5" cy="512.0" rx="2.1" ry="1.8"/><ellipse cx="314.2" cy="494.7" rx="2.1" ry="1.8"/><ellipse cx="333.9" cy="471.5" rx="2.1" ry="1.8"/><ellipse cx="326.9" cy="458.3" rx="2.1" ry="1.8"/><ellipse cx="325.9" cy="474.4" rx="2.1" ry="1.8"/><ellipse cx="307.9" cy="477.5" rx="2.1" ry="1.8"/><ellipse cx="309.5" cy="483.1" rx="2.1" ry="1.8"/><ellipse cx="297.6" cy="498.8" rx="2.1" ry="1.8"/><ellipse cx="320.6" cy="475.6" rx="2.1" ry="1.8"/><ellipse cx="292.8" cy="479.5" rx="2.1" ry="1.8"/><ellipse cx="361.1" cy="470.1" rx="2.1" ry="1.8"/><ellipse cx="319.7" cy="500.7" rx="2.1" ry="1.8"/><ellipse cx="332.3" cy="461.4" rx="2.1" ry="1.8"/><ellipse cx="329.7" cy="464.3" rx="2.1" ry="1.8"/><ellipse cx="295.3" cy="477.0" rx="2.1" ry="1.8"/><ellipse cx="316.5" cy="472.1" rx="2.1" ry="1.8"/><ellipse cx="289.9" cy="493.1" rx="2.1" ry="1.8"/><ellipse cx="318.5" cy="471.2" rx="2.1" ry="1.8"/><ellipse cx="342.3" cy="488.6" rx="2.1" ry="1.8"/><ellipse cx="342.7" cy="454.0" rx="2.1" ry="1.8"/><ellipse cx="322.4" cy="468.3" rx="2.1" ry="1.8"/><ellipse cx="320.6" cy="497.3" rx="2.1" ry="1.8"/><ellipse cx="297.6" cy="497.7" rx="2.1" ry="1.8"/><ellipse cx="341.1" cy="479.4" rx="2.1" ry="1.8"/><ellipse cx="339.3" cy="472.4" rx="2.1" ry="1.8"/><ellipse cx="293.9" cy="497.9" rx="2.1" ry="1.8"/><ellipse cx="356.5" cy="471.3" rx="2.1" ry="1.8"/><ellipse cx="351.6" cy="485.1" rx="2.1" ry="1.8"/><ellipse cx="310.2" cy="480.9" rx="2.1" ry="1.8"/><ellipse cx="338.3" cy="489.9" rx="2.1" ry="1.8"/><ellipse cx="346.7" cy="474.5" rx="2.1" ry="1.8"/><ellipse cx="299.3" cy="490.0" rx="2.1" ry="1.8"/><ellipse cx="332.1" cy="473.6" rx="2.1" ry="1.8"/><ellipse cx="331.4" cy="458.3" rx="2.1" ry="1.8"/><ellipse cx="297.9" cy="488.3" rx="2.1" ry="1.8"/><ellipse cx="302.9" cy="488.6" rx="2.1" ry="1.8"/><ellipse cx="303.4" cy="493.6" rx="2.1" ry="1.8"/><ellipse cx="304.1" cy="489.1" rx="2.1" ry="1.8"/><ellipse cx="316.6" cy="468.6" rx="2.1" ry="1.8"/><ellipse cx="305.2" cy="499.0" rx="2.1" ry="1.8"/><ellipse cx="348.8" cy="479.9" rx="2.1" ry="1.8"/><ellipse cx="334.9" cy="467.3" rx="2.1" ry="1.8"/><ellipse cx="345.6" cy="484.8" rx="2.1" ry="1.8"/><ellipse cx="358.5" cy="464.2" rx="2.1" ry="1.8"/><ellipse cx="337.8" cy="479.9" rx="2.1" ry="1.8"/><ellipse cx="351.0" cy="474.1" rx="2.1" ry="1.8"/><ellipse cx="324.2" cy="494.2" rx="2.1" ry="1.8"/><ellipse cx="323.8" cy="492.9" rx="2.1" ry="1.8"/><ellipse cx="299.3" cy="477.8" rx="2.1" ry="1.8"/><ellipse cx="309.0" cy="470.8" rx="2.1" ry="1.8"/><ellipse cx="308.6" cy="495.9" rx="2.1" ry="1.8"/><ellipse cx="358.4" cy="470.1" rx="2.1" ry="1.8"/><ellipse cx="354.5" cy="463.6" rx="2.1" ry="1.8"/><ellipse cx="301.6" cy="501.0" rx="2.1" ry="1.8"/><ellipse cx="321.2" cy="472.3" rx="2.1" ry="1.8"/><ellipse cx="315.7" cy="470.5" rx="2.1" ry="1.8"/><ellipse cx="287.0" cy="490.9" rx="2.1" ry="1.8"/><ellipse cx="332.1" cy="487.8" rx="2.1" ry="1.8"/><ellipse cx="350.6" cy="477.9" rx="2.1" ry="1.8"/><ellipse cx="355.6" cy="453.8" rx="2.1" ry="1.8"/><ellipse cx="341.5" cy="481.1" rx="2.1" ry="1.8"/><ellipse cx="337.1" cy="478.8" rx="2.1" ry="1.8"/><ellipse cx="291.7" cy="501.9" rx="2.1" ry="1.8"/><ellipse cx="297.7" cy="473.2" rx="2.1" ry="1.8"/><ellipse cx="340.2" cy="471.7" rx="2.1" ry="1.8"/><ellipse cx="330.2" cy="469.2" rx="2.1" ry="1.8"/><ellipse cx="354.3" cy="460.9" rx="2.1" ry="1.8"/><ellipse cx="294.4" cy="495.1" rx="2.1" ry="1.8"/><ellipse cx="294.6" cy="504.1" rx="2.1" ry="1.8"/><ellipse cx="316.2" cy="479.7" rx="2.1" ry="1.8"/><ellipse cx="362.1" cy="471.3" rx="2.1" ry="1.8"/><ellipse cx="284.0" cy="488.7" rx="2.1" ry="1.8"/><ellipse cx="342.5" cy="478.1" rx="2.1" ry="1.8"/><ellipse cx="292.7" cy="479.5" rx="2.1" ry="1.8"/><ellipse cx="344.3" cy="478.1" rx="2.1" ry="1.8"/><ellipse cx="309.4" cy="477.3" rx="2.1" ry="1.8"/><ellipse cx="304.9" cy="500.1" rx="2.1" ry="1.8"/><ellipse cx="305.2" cy="501.3" rx="2.1" ry="1.8"/><ellipse cx="344.2" cy="472.0" rx="2.1" ry="1.8"/><ellipse cx="344.6" cy="457.1" rx="2.1" ry="1.8"/><ellipse cx="334.3" cy="466.8" rx="2.1" ry="1.8"/><ellipse cx="334.7" cy="466.5" rx="2.1" ry="1.8"/><ellipse cx="324.7" cy="495.5" rx="2.1" ry="1.8"/><ellipse cx="327.4" cy="477.9" rx="2.1" ry="1.8"/><ellipse cx="317.5" cy="476.1" rx="2.1" ry="1.8"/><ellipse cx="352.7" cy="465.6" rx="2.1" ry="1.8"/><ellipse cx="336.9" cy="479.7" rx="2.1" ry="1.8"/><ellipse cx="324.2" cy="460.5" rx="2.1" ry="1.8"/><ellipse cx="296.0" cy="495.2" rx="2.1" ry="1.8"/><ellipse cx="316.2" cy="478.2" rx="2.1" ry="1.8"/><ellipse cx="345.2" cy="458.9" rx="2.1" ry="1.8"/><ellipse cx="318.3" cy="486.3" rx="2.1" ry="1.8"/><ellipse cx="342.3" cy="456.9" rx="2.1" ry="1.8"/><ellipse cx="346.1" cy="460.9" rx="2.1" ry="1.8"/><ellipse cx="332.3" cy="468.2" rx="2.1" ry="1.8"/><ellipse cx="323.1" cy="465.4" rx="2.1" ry="1.8"/><ellipse cx="335.8" cy="458.3" rx="2.1" ry="1.8"/><ellipse cx="333.9" cy="461.9" rx="2.1" ry="1.8"/><ellipse cx="327.2" cy="479.8" rx="2.1" ry="1.8"/><ellipse cx="296.2" cy="497.5" rx="2.1" ry="1.8"/><ellipse cx="297.0" cy="481.0" rx="2.1" ry="1.8"/><ellipse cx="345.5" cy="460.2" rx="2.1" ry="1.8"/><ellipse cx="298.4" cy="474.6" rx="2.1" ry="1.8"/><ellipse cx="339.2" cy="477.0" rx="2.1" ry="1.8"/><ellipse cx="350.0" cy="453.1" rx="2.1" ry="1.8"/><ellipse cx="317.5" cy="467.7" rx="2.1" ry="1.8"/><ellipse cx="315.8" cy="478.8" rx="2.1" ry="1.8"/><ellipse cx="317.0" cy="486.4" rx="2.1" ry="1.8"/><ellipse cx="298.6" cy="502.5" rx="2.1" ry="1.8"/><ellipse cx="297.2" cy="500.2" rx="2.1" ry="1.8"/><ellipse cx="353.0" cy="454.8" rx="2.1" ry="1.8"/><ellipse cx="364.5" cy="452.2" rx="2.1" ry="1.8"/><ellipse cx="353.8" cy="467.9" rx="2.1" ry="1.8"/><ellipse cx="350.0" cy="469.4" rx="2.1" ry="1.8"/><ellipse cx="312.8" cy="477.9" rx="2.1" ry="1.8"/><ellipse cx="319.8" cy="496.0" rx="2.1" ry="1.8"/><ellipse cx="321.5" cy="495.7" rx="2.1" ry="1.8"/><ellipse cx="346.2" cy="452.8" rx="2.1" ry="1.8"/><ellipse cx="343.9" cy="472.3" rx="2.1" ry="1.8"/><ellipse cx="300.2" cy="505.0" rx="2.1" ry="1.8"/><ellipse cx="346.2" cy="484.0" rx="2.1" ry="1.8"/><ellipse cx="286.3" cy="475.9" rx="2.1" ry="1.8"/><ellipse cx="352.5" cy="469.8" rx="2.1" ry="1.8"/><ellipse cx="334.0" cy="470.6" rx="2.1" ry="1.8"/><ellipse cx="363.8" cy="478.0" rx="2.1" ry="1.8"/><ellipse cx="341.0" cy="478.8" rx="2.1" ry="1.8"/><ellipse cx="361.8" cy="476.3" rx="2.1" ry="1.8"/><ellipse cx="290.4" cy="490.2" rx="2.1" ry="1.8"/><ellipse cx="344.9" cy="456.9" rx="2.1" ry="1.8"/><ellipse cx="321.7" cy="493.0" rx="2.1" ry="1.8"/><ellipse cx="356.1" cy="468.8" rx="2.1" ry="1.8"/><ellipse cx="349.8" cy="452.9" rx="2.1" ry="1.8"/><ellipse cx="287.9" cy="501.5" rx="2.1" ry="1.8"/><ellipse cx="316.6" cy="475.3" rx="2.1" ry="1.8"/><ellipse cx="330.5" cy="496.8" rx="2.1" ry="1.8"/><ellipse cx="312.7" cy="497.4" rx="2.1" ry="1.8"/><ellipse cx="301.2" cy="489.7" rx="2.1" ry="1.8"/><ellipse cx="312.2" cy="501.8" rx="2.1" ry="1.8"/><ellipse cx="296.6" cy="481.9" rx="2.1" ry="1.8"/><ellipse cx="349.8" cy="454.4" rx="2.1" ry="1.8"/><ellipse cx="326.7" cy="496.8" rx="2.1" ry="1.8"/><ellipse cx="294.1" cy="498.3" rx="2.1" ry="1.8"/><ellipse cx="299.4" cy="471.4" rx="2.1" ry="1.8"/><ellipse cx="340.7" cy="473.2" rx="2.1" ry="1.8"/><ellipse cx="317.1" cy="491.3" rx="2.1" ry="1.8"/><ellipse cx="359.1" cy="459.7" rx="2.1" ry="1.8"/><ellipse cx="321.5" cy="498.6" rx="2.1" ry="1.8"/><ellipse cx="306.6" cy="492.4" rx="2.1" ry="1.8"/><ellipse cx="305.3" cy="472.4" rx="2.1" ry="1.8"/><ellipse cx="314.7" cy="491.5" rx="2.1" ry="1.8"/><ellipse cx="309.9" cy="476.4" rx="2.1" ry="1.8"/><ellipse cx="291.6" cy="505.6" rx="2.1" ry="1.8"/><ellipse cx="310.5" cy="468.6" rx="2.1" ry="1.8"/><ellipse cx="296.5" cy="481.7" rx="2.1" ry="1.8"/><ellipse cx="337.1" cy="487.4" rx="2.1" ry="1.8"/><ellipse cx="303.1" cy="506.0" rx="2.1" ry="1.8"/><ellipse cx="313.4" cy="504.0" rx="2.1" ry="1.8"/><ellipse cx="323.8" cy="467.7" rx="2.1" ry="1.8"/><ellipse cx="292.6" cy="506.2" rx="2.1" ry="1.8"/><ellipse cx="351.3" cy="460.1" rx="2.1" ry="1.8"/><ellipse cx="331.2" cy="467.8" rx="2.1" ry="1.8"/><ellipse cx="321.7" cy="473.2" rx="2.1" ry="1.8"/><ellipse cx="330.9" cy="467.8" rx="2.1" ry="1.8"/><ellipse cx="289.7" cy="498.2" rx="2.1" ry="1.8"/><ellipse cx="344.1" cy="481.9" rx="2.1" ry="1.8"/><ellipse cx="347.9" cy="469.7" rx="2.1" ry="1.8"/><ellipse cx="332.2" cy="492.9" rx="2.1" ry="1.8"/><ellipse cx="319.8" cy="472.5" rx="2.1" ry="1.8"/><ellipse cx="314.0" cy="496.4" rx="2.1" ry="1.8"/><ellipse cx="307.4" cy="469.9" rx="2.1" ry="1.8"/><ellipse cx="334.2" cy="476.7" rx="2.1" ry="1.8"/><ellipse cx="304.5" cy="495.0" rx="2.1" ry="1.8"/><ellipse cx="314.1" cy="475.8" rx="2.1" ry="1.8"/><ellipse cx="293.4" cy="500.1" rx="2.1" ry="1.8"/><ellipse cx="310.9" cy="496.2" rx="2.1" ry="1.8"/><ellipse cx="300.2" cy="505.5" rx="2.1" ry="1.8"/><ellipse cx="304.4" cy="472.7" rx="2.1" ry="1.8"/><ellipse cx="305.0" cy="474.9" rx="2.1" ry="1.8"/><ellipse cx="329.3" cy="462.5" rx="2.1" ry="1.8"/><ellipse cx="335.1" cy="485.8" rx="2.1" ry="1.8"/><ellipse cx="359.4" cy="480.5" rx="2.1" ry="1.8"/><ellipse cx="324.8" cy="493.9" rx="2.1" ry="1.8"/><ellipse cx="329.4" cy="469.8" rx="2.1" ry="1.8"/><ellipse cx="352.4" cy="453.8" rx="2.1" ry="1.8"/><ellipse cx="286.9" cy="489.7" rx="2.1" ry="1.8"/><ellipse cx="346.2" cy="474.2" rx="2.1" ry="1.8"/><ellipse cx="337.8" cy="475.2" rx="2.1" ry="1.8"/><ellipse cx="315.9" cy="500.9" rx="2.1" ry="1.8"/><ellipse cx="332.1" cy="466.9" rx="2.1" ry="1.8"/><ellipse cx="297.8" cy="505.9" rx="2.1" ry="1.8"/><ellipse cx="320.1" cy="496.4" rx="2.1" ry="1.8"/><ellipse cx="356.3" cy="452.3" rx="2.1" ry="1.8"/><ellipse cx="293.6" cy="471.3" rx="2.1" ry="1.8"/><ellipse cx="337.2" cy="475.1" rx="2.1" ry="1.8"/><ellipse cx="339.8" cy="478.3" rx="2.1" ry="1.8"/><ellipse cx="305.5" cy="474.5" rx="2.1" ry="1.8"/><ellipse cx="354.1" cy="471.7" rx="2.1" ry="1.8"/><ellipse cx="323.3" cy="468.3" rx="2.1" ry="1.8"/><ellipse cx="307.0" cy="481.8" rx="2.1" ry="1.8"/><ellipse cx="340.3" cy="462.4" rx="2.1" ry="1.8"/><ellipse cx="316.9" cy="470.2" rx="2.1" ry="1.8"/><ellipse cx="316.2" cy="494.1" rx="2.1" ry="1.8"/><ellipse cx="360.9" cy="470.2" rx="2.1" ry="1.8"/><ellipse cx="312.4" cy="468.1" rx="2.1" ry="1.8"/><ellipse cx="321.2" cy="475.8" rx="2.1" ry="1.8"/><ellipse cx="321.0" cy="489.8" rx="2.1" ry="1.8"/><ellipse cx="360.6" cy="471.6" rx="2.1" ry="1.8"/><ellipse cx="345.8" cy="464.4" rx="2.1" ry="1.8"/><ellipse cx="339.5" cy="457.5" rx="2.1" ry="1.8"/><ellipse cx="343.2" cy="462.8" rx="2.1" ry="1.8"/><ellipse cx="314.0" cy="484.8" rx="2.1" ry="1.8"/><ellipse cx="291.1" cy="488.4" rx="2.1" ry="1.8"/><ellipse cx="343.7" cy="462.2" rx="2.1" ry="1.8"/><ellipse cx="335.9" cy="467.5" rx="2.1" ry="1.8"/><ellipse cx="340.7" cy="476.6" rx="2.1" ry="1.8"/><ellipse cx="282.6" cy="493.1" rx="2.1" ry="1.8"/><ellipse cx="349.4" cy="478.6" rx="2.1" ry="1.8"/><ellipse cx="309.2" cy="472.2" rx="2.1" ry="1.8"/><ellipse cx="357.0" cy="481.9" rx="2.1" ry="1.8"/><ellipse cx="321.2" cy="484.8" rx="2.1" ry="1.8"/><ellipse cx="319.7" cy="494.5" rx="2.1" ry="1.8"/><ellipse cx="315.2" cy="463.0" rx="2.1" ry="1.8"/><ellipse cx="325.1" cy="462.5" rx="2.1" ry="1.8"/><ellipse cx="321.5" cy="475.9" rx="2.1" ry="1.8"/><ellipse cx="338.9" cy="471.9" rx="2.1" ry="1.8"/><ellipse cx="324.2" cy="493.9" rx="2.1" ry="1.8"/><ellipse cx="342.7" cy="470.6" rx="2.1" ry="1.8"/><ellipse cx="354.2" cy="485.0" rx="2.1" ry="1.8"/><ellipse cx="329.4" cy="473.8" rx="2.1" ry="1.8"/><ellipse cx="317.8" cy="475.6" rx="2.1" ry="1.8"/><ellipse cx="334.7" cy="484.3" rx="2.1" ry="1.8"/><ellipse cx="351.3" cy="472.6" rx="2.1" ry="1.8"/><ellipse cx="291.8" cy="493.4" rx="2.1" ry="1.8"/><ellipse cx="308.0" cy="482.6" rx="2.1" ry="1.8"/><ellipse cx="327.6" cy="495.6" rx="2.1" ry="1.8"/><ellipse cx="352.9" cy="479.1" rx="2.1" ry="1.8"/><ellipse cx="346.3" cy="459.0" rx="2.1" ry="1.8"/><ellipse cx="360.2" cy="466.1" rx="2.1" ry="1.8"/><ellipse cx="308.7" cy="504.6" rx="2.1" ry="1.8"/><ellipse cx="324.2" cy="483.5" rx="2.1" ry="1.8"/><ellipse cx="286.2" cy="461.8" rx="2.1" ry="1.8"/><ellipse cx="360.3" cy="453.5" rx="2.1" ry="1.8"/><ellipse cx="335.6" cy="467.2" rx="2.1" ry="1.8"/><ellipse cx="309.2" cy="478.5" rx="2.1" ry="1.8"/><ellipse cx="305.0" cy="476.1" rx="2.1" ry="1.8"/><ellipse cx="301.5" cy="504.7" rx="2.1" ry="1.8"/><ellipse cx="345.0" cy="463.9" rx="2.1" ry="1.8"/><ellipse cx="289.4" cy="501.0" rx="2.1" ry="1.8"/><ellipse cx="286.7" cy="473.8" rx="2.1" ry="1.8"/><ellipse cx="345.7" cy="467.7" rx="2.1" ry="1.8"/><ellipse cx="312.2" cy="469.6" rx="2.1" ry="1.8"/><ellipse cx="302.4" cy="484.5" rx="2.1" ry="1.8"/><ellipse cx="288.8" cy="485.7" rx="2.1" ry="1.8"/><ellipse cx="303.6" cy="488.5" rx="2.1" ry="1.8"/><ellipse cx="320.1" cy="473.4" rx="2.1" ry="1.8"/><ellipse cx="356.5" cy="475.5" rx="2.1" ry="1.8"/><ellipse cx="322.4" cy="493.1" rx="2.1" ry="1.8"/><ellipse cx="351.2" cy="466.1" rx="2.1" ry="1.8"/><ellipse cx="341.7" cy="464.9" rx="2.1" ry="1.8"/><ellipse cx="301.7" cy="484.1" rx="2.1" ry="1.8"/><ellipse cx="322.4" cy="485.0" rx="2.1" ry="1.8"/><ellipse cx="293.9" cy="478.7" rx="2.1" ry="1.8"/><ellipse cx="322.3" cy="477.5" rx="2.1" ry="1.8"/><ellipse cx="343.5" cy="460.9" rx="2.1" ry="1.8"/><ellipse cx="326.1" cy="462.9" rx="2.1" ry="1.8"/><ellipse cx="317.8" cy="462.8" rx="2.1" ry="1.8"/><ellipse cx="326.9" cy="468.8" rx="2.1" ry="1.8"/><ellipse cx="325.0" cy="483.8" rx="2.1" ry="1.8"/><ellipse cx="324.3" cy="501.3" rx="2.1" ry="1.8"/><ellipse cx="311.8" cy="501.4" rx="2.1" ry="1.8"/><ellipse cx="334.9" cy="457.3" rx="2.1" ry="1.8"/><ellipse cx="313.5" cy="485.9" rx="2.1" ry="1.8"/><ellipse cx="304.3" cy="481.0" rx="2.1" ry="1.8"/><ellipse cx="351.3" cy="462.7" rx="2.1" ry="1.8"/><ellipse cx="326.5" cy="490.1" rx="2.1" ry="1.8"/><ellipse cx="298.2" cy="494.5" rx="2.1" ry="1.8"/><ellipse cx="302.9" cy="467.7" rx="2.1" ry="1.8"/><ellipse cx="334.8" cy="479.5" rx="2.1" ry="1.8"/><ellipse cx="297.4" cy="479.4" rx="2.1" ry="1.8"/><ellipse cx="321.3" cy="482.4" rx="2.1" ry="1.8"/><ellipse cx="307.6" cy="501.6" rx="2.1" ry="1.8"/><ellipse cx="353.3" cy="482.8" rx="2.1" ry="1.8"/><ellipse cx="331.2" cy="467.5" rx="2.1" ry="1.8"/><ellipse cx="323.3" cy="474.7" rx="2.1" ry="1.8"/><ellipse cx="316.3" cy="479.0" rx="2.1" ry="1.8"/><ellipse cx="341.7" cy="460.4" rx="2.1" ry="1.8"/><ellipse cx="349.5" cy="477.9" rx="2.1" ry="1.8"/><ellipse cx="307.9" cy="473.8" rx="2.1" ry="1.8"/><ellipse cx="328.1" cy="488.2" rx="2.1" ry="1.8"/><ellipse cx="318.7" cy="493.7" rx="2.1" ry="1.8"/><ellipse cx="314.4" cy="465.9" rx="2.1" ry="1.8"/><ellipse cx="322.6" cy="479.6" rx="2.1" ry="1.8"/><ellipse cx="319.2" cy="499.8" rx="2.1" ry="1.8"/><ellipse cx="318.4" cy="478.8" rx="2.1" ry="1.8"/><ellipse cx="305.0" cy="478.7" rx="2.1" ry="1.8"/><ellipse cx="328.8" cy="493.0" rx="2.1" ry="1.8"/><ellipse cx="307.2" cy="492.5" rx="2.1" ry="1.8"/><ellipse cx="301.3" cy="477.0" rx="2.1" ry="1.8"/><ellipse cx="353.4" cy="481.9" rx="2.1" ry="1.8"/><ellipse cx="298.1" cy="476.9" rx="2.1" ry="1.8"/><ellipse cx="312.9" cy="488.1" rx="2.1" ry="1.8"/><ellipse cx="329.4" cy="489.6" rx="2.1" ry="1.8"/><ellipse cx="316.7" cy="486.8" rx="2.1" ry="1.8"/><ellipse cx="299.3" cy="473.0" rx="2.1" ry="1.8"/><ellipse cx="348.0" cy="479.3" rx="2.1" ry="1.8"/><ellipse cx="345.7" cy="488.7" rx="2.1" ry="1.8"/><ellipse cx="323.9" cy="470.2" rx="2.1" ry="1.8"/><ellipse cx="327.5" cy="461.4" rx="2.1" ry="1.8"/><ellipse cx="289.1" cy="488.2" rx="2.1" ry="1.8"/><ellipse cx="351.5" cy="464.8" rx="2.1" ry="1.8"/><ellipse cx="281.0" cy="501.3" rx="2.1" ry="1.8"/><ellipse cx="348.0" cy="473.4" rx="2.1" ry="1.8"/><ellipse cx="360.0" cy="475.3" rx="2.1" ry="1.8"/><ellipse cx="360.1" cy="455.7" rx="2.1" ry="1.8"/><ellipse cx="301.3" cy="512.2" rx="2.1" ry="1.8"/><ellipse cx="359.4" cy="462.7" rx="2.1" ry="1.8"/><ellipse cx="358.9" cy="478.8" rx="2.1" ry="1.8"/><ellipse cx="352.5" cy="468.7" rx="2.1" ry="1.8"/><ellipse cx="318.3" cy="489.1" rx="2.1" ry="1.8"/><ellipse cx="292.1" cy="477.4" rx="2.1" ry="1.8"/><ellipse cx="314.5" cy="501.8" rx="2.1" ry="1.8"/><ellipse cx="312.2" cy="476.3" rx="2.1" ry="1.8"/><ellipse cx="322.2" cy="480.4" rx="2.1" ry="1.8"/><ellipse cx="283.9" cy="496.5" rx="2.1" ry="1.8"/><ellipse cx="276.1" cy="507.8" rx="2.1" ry="1.8"/><ellipse cx="284.8" cy="493.0" rx="2.1" ry="1.8"/><ellipse cx="280.1" cy="498.2" rx="2.1" ry="1.8"/><ellipse cx="288.1" cy="507.8" rx="2.1" ry="1.8"/><ellipse cx="286.2" cy="507.2" rx="2.1" ry="1.8"/><ellipse cx="272.2" cy="509.6" rx="2.1" ry="1.8"/><ellipse cx="275.8" cy="506.5" rx="2.1" ry="1.8"/><ellipse cx="285.1" cy="504.4" rx="2.1" ry="1.8"/><ellipse cx="272.1" cy="516.1" rx="2.1" ry="1.8"/><ellipse cx="287.4" cy="507.6" rx="2.1" ry="1.8"/><ellipse cx="275.0" cy="508.7" rx="2.1" ry="1.8"/><ellipse cx="267.2" cy="508.8" rx="2.1" ry="1.8"/><ellipse cx="275.0" cy="510.5" rx="2.1" ry="1.8"/><ellipse cx="269.1" cy="508.5" rx="2.1" ry="1.8"/><ellipse cx="278.3" cy="508.1" rx="2.1" ry="1.8"/><ellipse cx="289.8" cy="494.1" rx="2.1" ry="1.8"/><ellipse cx="275.0" cy="506.2" rx="2.1" ry="1.8"/><ellipse cx="273.5" cy="503.8" rx="2.1" ry="1.8"/><ellipse cx="282.0" cy="508.9" rx="2.1" ry="1.8"/><ellipse cx="281.4" cy="501.7" rx="2.1" ry="1.8"/><ellipse cx="268.5" cy="506.5" rx="2.1" ry="1.8"/><ellipse cx="273.5" cy="506.1" rx="2.1" ry="1.8"/><ellipse cx="278.7" cy="510.0" rx="2.1" ry="1.8"/><ellipse cx="275.3" cy="514.9" rx="2.1" ry="1.8"/><ellipse cx="291.3" cy="489.3" rx="2.1" ry="1.8"/><ellipse cx="285.3" cy="499.6" rx="2.1" ry="1.8"/><ellipse cx="274.6" cy="506.0" rx="2.1" ry="1.8"/><ellipse cx="290.3" cy="508.2" rx="2.1" ry="1.8"/><ellipse cx="284.5" cy="500.4" rx="2.1" ry="1.8"/><ellipse cx="285.8" cy="493.5" rx="2.1" ry="1.8"/><ellipse cx="275.0" cy="506.6" rx="2.1" ry="1.8"/><ellipse cx="271.6" cy="515.8" rx="2.1" ry="1.8"/><ellipse cx="282.2" cy="509.8" rx="2.1" ry="1.8"/><ellipse cx="273.1" cy="507.2" rx="2.1" ry="1.8"/><ellipse cx="269.6" cy="515.8" rx="2.1" ry="1.8"/><ellipse cx="264.4" cy="508.9" rx="2.1" ry="1.8"/><ellipse cx="282.3" cy="499.7" rx="2.1" ry="1.8"/><ellipse cx="281.5" cy="509.2" rx="2.1" ry="1.8"/><ellipse cx="287.1" cy="494.7" rx="2.1" ry="1.8"/><ellipse cx="283.2" cy="504.9" rx="2.1" ry="1.8"/><ellipse cx="277.4" cy="510.6" rx="2.1" ry="1.8"/><ellipse cx="278.0" cy="500.7" rx="2.1" ry="1.8"/><ellipse cx="280.4" cy="511.9" rx="2.1" ry="1.8"/><ellipse cx="286.8" cy="506.1" rx="2.1" ry="1.8"/><ellipse cx="282.1" cy="500.0" rx="2.1" ry="1.8"/><ellipse cx="287.2" cy="504.5" rx="2.1" ry="1.8"/><ellipse cx="268.2" cy="510.0" rx="2.1" ry="1.8"/><ellipse cx="316.4" cy="465.2" rx="2.1" ry="1.8"/><ellipse cx="352.7" cy="455.7" rx="2.1" ry="1.8"/><ellipse cx="338.7" cy="446.1" rx="2.1" ry="1.8"/><ellipse cx="342.7" cy="446.2" rx="2.1" ry="1.8"/><ellipse cx="319.0" cy="465.4" rx="2.1" ry="1.8"/><ellipse cx="330.8" cy="450.1" rx="2.1" ry="1.8"/><ellipse cx="357.2" cy="452.3" rx="2.1" ry="1.8"/><ellipse cx="341.8" cy="458.2" rx="2.1" ry="1.8"/><ellipse cx="342.1" cy="455.7" rx="2.1" ry="1.8"/><ellipse cx="357.0" cy="448.1" rx="2.1" ry="1.8"/><ellipse cx="330.6" cy="458.8" rx="2.1" ry="1.8"/><ellipse cx="306.0" cy="468.8" rx="2.1" ry="1.8"/><ellipse cx="317.7" cy="461.9" rx="2.1" ry="1.8"/><ellipse cx="361.0" cy="448.5" rx="2.1" ry="1.8"/><ellipse cx="337.1" cy="462.8" rx="2.1" ry="1.8"/><ellipse cx="324.2" cy="459.9" rx="2.1" ry="1.8"/><ellipse cx="304.5" cy="471.6" rx="2.1" ry="1.8"/><ellipse cx="343.1" cy="458.2" rx="2.1" ry="1.8"/><ellipse cx="315.9" cy="458.0" rx="2.1" ry="1.8"/><ellipse cx="345.1" cy="449.2" rx="2.1" ry="1.8"/><ellipse cx="306.3" cy="473.1" rx="2.1" ry="1.8"/><ellipse cx="305.0" cy="461.8" rx="2.1" ry="1.8"/><ellipse cx="346.6" cy="454.4" rx="2.1" ry="1.8"/><ellipse cx="315.3" cy="453.6" rx="2.1" ry="1.8"/><ellipse cx="326.0" cy="453.2" rx="2.1" ry="1.8"/><ellipse cx="304.9" cy="464.6" rx="2.1" ry="1.8"/><ellipse cx="318.5" cy="459.3" rx="2.1" ry="1.8"/><ellipse cx="324.6" cy="455.5" rx="2.1" ry="1.8"/><ellipse cx="334.1" cy="459.7" rx="2.1" ry="1.8"/><ellipse cx="355.4" cy="455.5" rx="2.1" ry="1.8"/><ellipse cx="345.9" cy="456.7" rx="2.1" ry="1.8"/><ellipse cx="351.6" cy="442.2" rx="2.1" ry="1.8"/><ellipse cx="305.2" cy="463.8" rx="2.1" ry="1.8"/><ellipse cx="345.5" cy="454.3" rx="2.1" ry="1.8"/><ellipse cx="334.6" cy="459.7" rx="2.1" ry="1.8"/><ellipse cx="330.2" cy="450.2" rx="2.1" ry="1.8"/><ellipse cx="327.4" cy="459.4" rx="2.1" ry="1.8"/><ellipse cx="359.3" cy="450.3" rx="2.1" ry="1.8"/><ellipse cx="327.6" cy="461.2" rx="2.1" ry="1.8"/><ellipse cx="343.9" cy="450.3" rx="2.1" ry="1.8"/><ellipse cx="361.4" cy="452.2" rx="2.1" ry="1.8"/><ellipse cx="359.6" cy="451.4" rx="2.1" ry="1.8"/><ellipse cx="342.0" cy="449.1" rx="2.1" ry="1.8"/><ellipse cx="320.9" cy="464.6" rx="2.1" ry="1.8"/><ellipse cx="312.5" cy="467.3" rx="2.1" ry="1.8"/><ellipse cx="343.7" cy="457.7" rx="2.1" ry="1.8"/><ellipse cx="346.2" cy="444.9" rx="2.1" ry="1.8"/><ellipse cx="304.5" cy="466.9" rx="2.1" ry="1.8"/><ellipse cx="357.5" cy="453.1" rx="2.1" ry="1.8"/><ellipse cx="349.0" cy="446.8" rx="2.1" ry="1.8"/><ellipse cx="330.4" cy="449.4" rx="2.1" ry="1.8"/><ellipse cx="319.8" cy="460.1" rx="2.1" ry="1.8"/><ellipse cx="345.8" cy="444.7" rx="2.1" ry="1.8"/><ellipse cx="347.6" cy="458.0" rx="2.1" ry="1.8"/><ellipse cx="318.7" cy="453.7" rx="2.1" ry="1.8"/><ellipse cx="364.8" cy="444.7" rx="2.1" ry="1.8"/><ellipse cx="330.5" cy="450.2" rx="2.1" ry="1.8"/><ellipse cx="342.1" cy="454.9" rx="2.1" ry="1.8"/><ellipse cx="312.1" cy="465.8" rx="2.1" ry="1.8"/><ellipse cx="346.6" cy="445.3" rx="2.1" ry="1.8"/><ellipse cx="304.2" cy="475.7" rx="2.1" ry="1.8"/></g>
<line x1="205.8" y1="549.3" x2="495" y2="353.2" stroke="#ff8a25" stroke-width="1.1"/>
<line x1="191.0" y1="313.2" x2="509.8" y2="313.2" stroke="#808080" stroke-width="1.2"/>
<line x1="191.0" y1="560.6" x2="509.8" y2="560.6" stroke="#a8a8a8" stroke-width="1.4"/>
<line x1="191.5" y1="313.2" x2="191.5" y2="560.6" stroke="#9a9a9a" stroke-width="1.0"/>
<line x1="509.3" y1="313.2" x2="509.3" y2="560.6" stroke="#555555" stroke-width="1.0"/>
<text class="cap" transform="translate(109.1,297.2) scale(1,1.2)" style="font-size:19.5px">(</text><text class="cap" transform="translate(116.1,297.2) scale(1.2,1)" style="font-size:19.5px">a</text><text class="cap" transform="translate(127.3,297.2) scale(1,1.2)" style="font-size:19.5px">)</text><text class="cap" x="141.0" y="297.2" textLength="89.1" lengthAdjust="spacing" style="font-size:19.5px">1995-2005</text>
<text class="cap" transform="translate(456.7,297.0) scale(1,1.2)" style="font-size:19.5px">(</text><text class="cap" transform="translate(464.2,297.0) scale(1.2,1)" style="font-size:19.5px">b</text><text class="cap" transform="translate(476.6,297.0) scale(1,1.2)" style="font-size:19.5px">)</text><text class="cap" x="489.9" y="297.0" textLength="88.9" lengthAdjust="spacing" style="font-size:19.5px">2002-2012</text>
<text class="cap" transform="translate(283.7,601.5) scale(1,1.2)" style="font-size:19.5px">(</text><text class="cap" transform="translate(290.2,601.5) scale(1.2,1)" style="font-size:19.5px">c</text><text class="cap" transform="translate(300.8,601.5) scale(1,1.2)" style="font-size:19.5px">)</text><text class="cap" x="314.1" y="601.5" textLength="88.9" lengthAdjust="spacing" style="font-size:19.5px">2009-2020</text>
</svg>
<svg class="tkg" width="685" height="607" viewBox="0 0 685 607">
<text x="45.50" y="264.80" text-anchor="middle" class="tk" style="font-size:7.5px">2</text><text x="83.92" y="264.80" text-anchor="middle" class="tk" style="font-size:7.5px">4</text><text x="122.34" y="264.80" text-anchor="middle" class="tk" style="font-size:7.5px">6</text><text x="160.76" y="264.80" text-anchor="middle" class="tk" style="font-size:7.5px">8</text><text x="199.18" y="264.80" text-anchor="middle" class="tk" style="font-size:7.5px">10</text><text x="237.60" y="264.80" text-anchor="middle" class="tk" style="font-size:7.5px">12</text><text x="276.02" y="264.80" text-anchor="middle" class="tk" style="font-size:7.5px">14</text><text x="314.44" y="264.80" text-anchor="middle" class="tk" style="font-size:7.5px">16</text><text x="12.80" y="230.84" text-anchor="end" class="tk" style="font-size:6.4px">2.5</text><text x="12.80" y="197.77" text-anchor="end" class="tk" style="font-size:6.4px">5.0</text><text x="12.80" y="164.69" text-anchor="end" class="tk" style="font-size:6.4px">7.5</text><text x="12.80" y="131.62" text-anchor="end" class="tk" style="font-size:6.4px">10.0</text><text x="12.80" y="98.54" text-anchor="end" class="tk" style="font-size:6.4px">12.5</text><text x="12.80" y="65.47" text-anchor="end" class="tk" style="font-size:6.4px">15.0</text><text x="12.80" y="32.39" text-anchor="end" class="tk" style="font-size:6.4px">17.5</text><text x="386.40" y="264.90" text-anchor="middle" class="tk" style="font-size:7.0px">1</text><text x="440.70" y="264.90" text-anchor="middle" class="tk" style="font-size:7.0px">2</text><text x="495.00" y="264.90" text-anchor="middle" class="tk" style="font-size:7.0px">3</text><text x="549.30" y="264.90" text-anchor="middle" class="tk" style="font-size:7.0px">4</text><text x="603.60" y="264.90" text-anchor="middle" class="tk" style="font-size:7.0px">5</text><text x="657.90" y="264.90" text-anchor="middle" class="tk" style="font-size:7.0px">6</text><text x="352.30" y="236.18" text-anchor="end" class="tk" style="font-size:6.7px">1</text><text x="352.30" y="200.25" text-anchor="end" class="tk" style="font-size:6.7px">2</text><text x="352.30" y="164.32" text-anchor="end" class="tk" style="font-size:6.7px">3</text><text x="352.30" y="128.39" text-anchor="end" class="tk" style="font-size:6.7px">4</text><text x="352.30" y="92.46" text-anchor="end" class="tk" style="font-size:6.7px">5</text><text x="352.30" y="56.53" text-anchor="end" class="tk" style="font-size:6.7px">6</text><text x="352.30" y="20.60" text-anchor="end" class="tk" style="font-size:6.7px">7</text><text x="220.06" y="569.70" text-anchor="middle" class="tk" style="font-size:7.2px">2</text><text x="256.22" y="569.70" text-anchor="middle" class="tk" style="font-size:7.2px">4</text><text x="292.38" y="569.70" text-anchor="middle" class="tk" style="font-size:7.2px">6</text><text x="328.54" y="569.70" text-anchor="middle" class="tk" style="font-size:7.2px">8</text><text x="364.70" y="569.70" text-anchor="middle" class="tk" style="font-size:7.2px">10</text><text x="400.86" y="569.70" text-anchor="middle" class="tk" style="font-size:7.2px">12</text><text x="437.02" y="569.70" text-anchor="middle" class="tk" style="font-size:7.2px">14</text><text x="473.18" y="569.70" text-anchor="middle" class="tk" style="font-size:7.2px">16</text><text x="187.50" y="537.25" text-anchor="end" class="tk" style="font-size:6.5px">2.5</text><text x="187.50" y="506.58" text-anchor="end" class="tk" style="font-size:6.5px">5.0</text><text x="187.50" y="475.90" text-anchor="end" class="tk" style="font-size:6.5px">7.5</text><text x="187.50" y="445.23" text-anchor="end" class="tk" style="font-size:6.5px">10.0</text><text x="187.50" y="414.55" text-anchor="end" class="tk" style="font-size:6.5px">12.5</text><text x="187.50" y="383.88" text-anchor="end" class="tk" style="font-size:6.5px">15.0</text><text x="187.50" y="353.20" text-anchor="end" class="tk" style="font-size:6.5px">17.5</text><text x="187.50" y="322.53" text-anchor="end" class="tk" style="font-size:6.5px">20.0</text>
</svg>
</body></html>
